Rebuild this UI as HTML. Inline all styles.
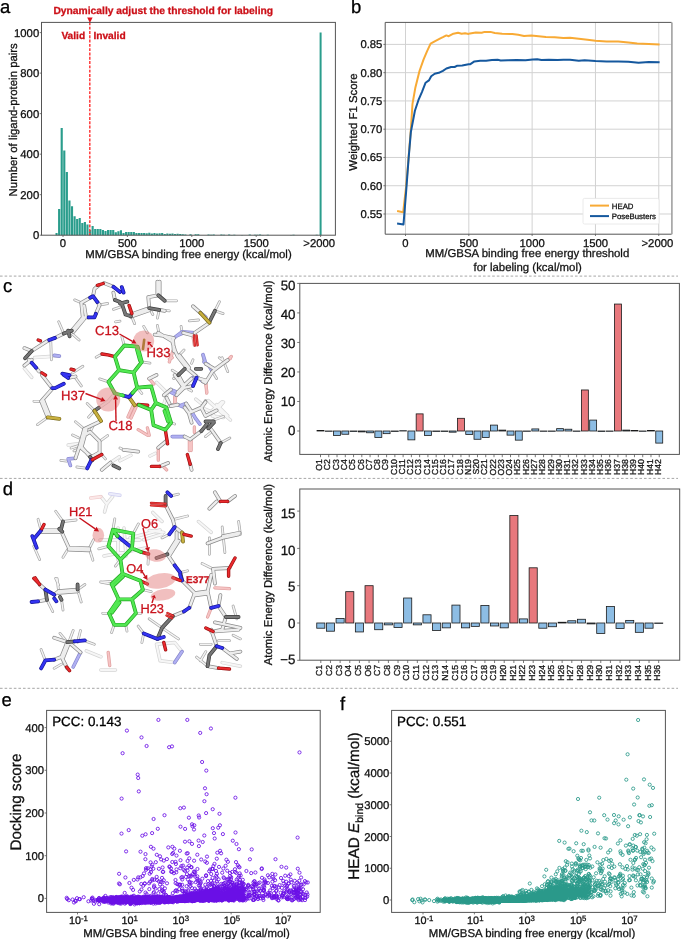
<!DOCTYPE html>
<html><head><meta charset="utf-8"><title>Figure</title>
<style>
html,body{margin:0;padding:0;background:#fff;width:685px;height:939px;overflow:hidden;}
svg{display:block;font-family:"Liberation Sans",sans-serif;text-rendering:geometricPrecision;}
svg{will-change:transform;}
</style></head><body>
<svg width="685" height="939" viewBox="0 0 685 939">
<rect x="0" y="0" width="685" height="939" fill="#fff"/>
<g fill="none" stroke-linecap="round" stroke-linejoin="round">
<path d="M34.6 357.6 L56.5 356.1 M24.4 368.5 L31.7 377.3 M108.3 401.3 L98.8 407.8 M68.2 445.1 L79.9 443.6 M110.5 462.6 L119.3 456.8 M120.0 460.8 L130.9 455.3 M156.5 382.3 L167.4 393.2 L163.8 404.2 M216.6 410.4 L223.5 402.1 M212.4 416.0 L223.5 417.4 M209.6 402.1 L222.1 413.2 M216.6 404.9 L227.7 416.0 M201.3 407.5 L211.0 411.6 M211.0 411.6 L222.1 401.9 M211.0 411.6 L215.2 417.2 M195.8 399.2 L202.7 404.7 M208.3 400.5 L222.1 413.0 M222.1 413.0 L230.4 420.0 M216.6 404.7 L227.7 415.8 M155.5 453.3 L150.0 456.0 M114.9 393.5 L107.9 401.7 M100.9 496.7 L106.8 504.0 L112.6 496.7 M106.8 504.0 L104.6 512.0 M198.5 521.5 L211.2 532.4 M152.8 512.4 L162.0 521.5 M149.2 530.6 L163.8 532.4 M143.7 539.7 L162.0 534.3 M100.9 669.9 L115.5 669.9 M156.5 644.3 L160.1 660.8 L174.7 662.6 L182.0 651.6 L174.7 642.5 L156.5 644.3 M222.2 662.6 L240.4 666.2 M86.3 650.9 L100.9 656.8 M100.0 540.0 L140.0 540.0 M118.0 528.0 L118.0 560.0 M124.0 528.0 L126.0 556.0 M104.0 556.0 L146.0 548.0 M130.0 538.0 L160.0 530.0" stroke="#d4d4d4" stroke-width="3.50"/>
<path d="M34.6 357.6 L56.5 356.1 M24.4 368.5 L31.7 377.3 M108.3 401.3 L98.8 407.8 M68.2 445.1 L79.9 443.6 M110.5 462.6 L119.3 456.8 M120.0 460.8 L130.9 455.3 M156.5 382.3 L167.4 393.2 L163.8 404.2 M216.6 410.4 L223.5 402.1 M212.4 416.0 L223.5 417.4 M209.6 402.1 L222.1 413.2 M216.6 404.9 L227.7 416.0 M201.3 407.5 L211.0 411.6 M211.0 411.6 L222.1 401.9 M211.0 411.6 L215.2 417.2 M195.8 399.2 L202.7 404.7 M208.3 400.5 L222.1 413.0 M222.1 413.0 L230.4 420.0 M216.6 404.7 L227.7 415.8 M155.5 453.3 L150.0 456.0 M114.9 393.5 L107.9 401.7 M100.9 496.7 L106.8 504.0 L112.6 496.7 M106.8 504.0 L104.6 512.0 M198.5 521.5 L211.2 532.4 M152.8 512.4 L162.0 521.5 M149.2 530.6 L163.8 532.4 M143.7 539.7 L162.0 534.3 M100.9 669.9 L115.5 669.9 M156.5 644.3 L160.1 660.8 L174.7 662.6 L182.0 651.6 L174.7 642.5 L156.5 644.3 M222.2 662.6 L240.4 666.2 M86.3 650.9 L100.9 656.8 M100.0 540.0 L140.0 540.0 M118.0 528.0 L118.0 560.0 M124.0 528.0 L126.0 556.0 M104.0 556.0 L146.0 548.0 M130.0 538.0 L160.0 530.0" stroke="#f6f6f6" stroke-width="2.10"/>
<path d="M90.7 498.1 L100.9 496.7" stroke="#f0cccc" stroke-width="3.50"/>
<path d="M90.7 498.1 L100.9 496.7" stroke="#fbe8e8" stroke-width="2.10"/>
<path d="M109.7 493.8 L119.9 495.2" stroke="#d0d0f0" stroke-width="3.50"/>
<path d="M109.7 493.8 L119.9 495.2" stroke="#ececfb" stroke-width="2.10"/>
<path d="M81.3 302.8 L74.7 299.9 M99.6 305.0 L107.6 303.5 M63.8 333.5 L58.7 321.8 M71.8 333.5 L79.1 340.0 M50.7 339.3 L51.4 359.8 M72.6 372.9 L82.8 366.3 M113.4 309.4 L120.0 307.2 M115.6 321.8 L120.0 321.1 M164.7 300.8 L176.6 300.8 M159.2 309.9 L169.3 310.8 M159.2 309.9 L157.4 318.1 M149.2 308.1 L152.8 314.5 M130.9 314.5 L134.6 323.6 M214.9 310.8 L219.5 301.7 M214.9 310.8 L223.1 313.6 M198.5 320.0 L189.3 320.9 M182.0 331.8 L181.1 326.4 M159.2 334.6 L157.4 325.4 M143.7 326.4 L147.4 332.7 M75.5 377.9 L81.3 385.9 M41.2 401.3 L33.9 401.3 M47.7 417.3 L37.5 424.6 M94.5 410.8 L87.2 403.5 M94.5 410.8 L88.6 417.3 M84.2 429.0 L75.5 421.7 M87.2 468.4 L76.9 467.0 M90.1 431.9 L93.0 426.1 M81.3 448.0 L74.0 450.9 M99.6 441.4 L107.6 435.6 M99.6 452.4 L105.4 458.9 M79.9 445.1 L71.1 448.0 M78.4 437.8 L72.6 434.9 M66.7 461.1 L60.9 460.4 M123.6 449.8 L120.0 448.0 M202.7 355.0 L204.1 361.9 M222.1 357.7 L227.7 371.6 M212.4 371.6 L216.6 378.5 M224.9 361.9 L219.3 357.7 M177.7 356.4 L184.0 350.1 M172.2 370.2 L179.1 374.4 M173.6 378.5 L177.7 375.8 M188.8 389.6 L191.6 391.0 M191.6 363.3 L193.0 359.8 M201.3 407.5 L205.5 400.5 M220.7 442.9 L229.8 438.0 M213.8 420.0 L223.5 416.5 M212.4 431.1 L205.5 436.6 M166.6 442.2 L161.1 444.9 M102.0 354.0 L96.2 357.2 M124.3 345.5 L121.9 336.8 M141.8 361.9 L150.0 363.1 M108.5 381.8 L99.7 378.9 M137.2 387.7 L141.8 393.5 M171.1 422.8 L174.6 424.0 M166.4 407.6 L172.0 404.5 M89.2 548.5 L93.6 539.7 M63.0 521.5 L55.7 511.3 M63.0 521.5 L76.1 520.0 M89.2 548.5 L92.9 560.2 M68.8 547.8 L63.0 557.3 M41.1 530.3 L38.1 519.3 M33.8 546.3 L39.6 559.5 M55.7 578.4 L58.6 585.0 M100.9 582.1 L111.1 581.4 M171.1 495.9 L178.4 494.1 M169.3 534.3 L162.0 537.9 M172.9 519.7 L187.5 516.0 M180.2 572.6 L187.5 570.8 M222.2 527.0 L224.9 552.5 M238.6 521.5 L240.4 534.3 M209.4 537.9 L209.4 554.3 M202.1 563.5 L213.1 568.9 M77.6 589.6 L84.9 584.5 M77.6 589.6 L81.2 602.0 M58.6 591.1 L57.1 578.6 M61.5 599.8 L63.0 610.0 M46.9 599.8 L52.7 611.5 M86.3 641.4 L94.3 644.3 M45.4 660.4 L41.1 649.5 M60.0 633.4 L67.3 642.2 M73.2 630.5 L68.8 642.2 M80.5 630.5 L77.6 642.2 M143.7 633.4 L138.2 626.1 M143.7 633.4 L141.9 642.5 M162.0 627.9 L178.4 638.9 M162.0 627.9 L149.2 618.8 M233.1 606.0 L236.8 618.8 M200.3 644.3 L211.2 644.3 M196.6 657.1 L207.6 666.2 M218.5 640.7 L229.5 640.7 M233.1 635.2 L240.4 638.9 M205.8 651.6 L200.3 660.8 M54.2 668.4 L61.5 664.1 M148.6 554.0 L148.0 564.2 M111.6 584.0 L100.7 582.0 M142.9 589.7 L151.2 591.6 M109.0 613.3 L102.7 613.3 M114.2 624.8 L111.6 632.5 M125.7 624.8 L127.0 631.2 M135.9 613.3 L141.0 613.3 M112.9 529.7 L114.8 518.8 M133.3 533.5 L138.4 523.9 M108.4 546.3 L98.8 548.8 M120.5 559.7 L115.4 566.1" stroke="#a8a8a8" stroke-width="2.80"/>
<path d="M81.3 302.8 L74.7 299.9 M99.6 305.0 L107.6 303.5 M63.8 333.5 L58.7 321.8 M71.8 333.5 L79.1 340.0 M50.7 339.3 L51.4 359.8 M72.6 372.9 L82.8 366.3 M113.4 309.4 L120.0 307.2 M115.6 321.8 L120.0 321.1 M164.7 300.8 L176.6 300.8 M159.2 309.9 L169.3 310.8 M159.2 309.9 L157.4 318.1 M149.2 308.1 L152.8 314.5 M130.9 314.5 L134.6 323.6 M214.9 310.8 L219.5 301.7 M214.9 310.8 L223.1 313.6 M198.5 320.0 L189.3 320.9 M182.0 331.8 L181.1 326.4 M159.2 334.6 L157.4 325.4 M143.7 326.4 L147.4 332.7 M75.5 377.9 L81.3 385.9 M41.2 401.3 L33.9 401.3 M47.7 417.3 L37.5 424.6 M94.5 410.8 L87.2 403.5 M94.5 410.8 L88.6 417.3 M84.2 429.0 L75.5 421.7 M87.2 468.4 L76.9 467.0 M90.1 431.9 L93.0 426.1 M81.3 448.0 L74.0 450.9 M99.6 441.4 L107.6 435.6 M99.6 452.4 L105.4 458.9 M79.9 445.1 L71.1 448.0 M78.4 437.8 L72.6 434.9 M66.7 461.1 L60.9 460.4 M123.6 449.8 L120.0 448.0 M202.7 355.0 L204.1 361.9 M222.1 357.7 L227.7 371.6 M212.4 371.6 L216.6 378.5 M224.9 361.9 L219.3 357.7 M177.7 356.4 L184.0 350.1 M172.2 370.2 L179.1 374.4 M173.6 378.5 L177.7 375.8 M188.8 389.6 L191.6 391.0 M191.6 363.3 L193.0 359.8 M201.3 407.5 L205.5 400.5 M220.7 442.9 L229.8 438.0 M213.8 420.0 L223.5 416.5 M212.4 431.1 L205.5 436.6 M166.6 442.2 L161.1 444.9 M102.0 354.0 L96.2 357.2 M124.3 345.5 L121.9 336.8 M141.8 361.9 L150.0 363.1 M108.5 381.8 L99.7 378.9 M137.2 387.7 L141.8 393.5 M171.1 422.8 L174.6 424.0 M166.4 407.6 L172.0 404.5 M89.2 548.5 L93.6 539.7 M63.0 521.5 L55.7 511.3 M63.0 521.5 L76.1 520.0 M89.2 548.5 L92.9 560.2 M68.8 547.8 L63.0 557.3 M41.1 530.3 L38.1 519.3 M33.8 546.3 L39.6 559.5 M55.7 578.4 L58.6 585.0 M100.9 582.1 L111.1 581.4 M171.1 495.9 L178.4 494.1 M169.3 534.3 L162.0 537.9 M172.9 519.7 L187.5 516.0 M180.2 572.6 L187.5 570.8 M222.2 527.0 L224.9 552.5 M238.6 521.5 L240.4 534.3 M209.4 537.9 L209.4 554.3 M202.1 563.5 L213.1 568.9 M77.6 589.6 L84.9 584.5 M77.6 589.6 L81.2 602.0 M58.6 591.1 L57.1 578.6 M61.5 599.8 L63.0 610.0 M46.9 599.8 L52.7 611.5 M86.3 641.4 L94.3 644.3 M45.4 660.4 L41.1 649.5 M60.0 633.4 L67.3 642.2 M73.2 630.5 L68.8 642.2 M80.5 630.5 L77.6 642.2 M143.7 633.4 L138.2 626.1 M143.7 633.4 L141.9 642.5 M162.0 627.9 L178.4 638.9 M162.0 627.9 L149.2 618.8 M233.1 606.0 L236.8 618.8 M200.3 644.3 L211.2 644.3 M196.6 657.1 L207.6 666.2 M218.5 640.7 L229.5 640.7 M233.1 635.2 L240.4 638.9 M205.8 651.6 L200.3 660.8 M54.2 668.4 L61.5 664.1 M148.6 554.0 L148.0 564.2 M111.6 584.0 L100.7 582.0 M142.9 589.7 L151.2 591.6 M109.0 613.3 L102.7 613.3 M114.2 624.8 L111.6 632.5 M125.7 624.8 L127.0 631.2 M135.9 613.3 L141.0 613.3 M112.9 529.7 L114.8 518.8 M133.3 533.5 L138.4 523.9 M108.4 546.3 L98.8 548.8 M120.5 559.7 L115.4 566.1" stroke="#f4f4f4" stroke-width="1.40"/>
<path d="M227.7 360.1 L231.3 356.5 M172.9 351.0 L169.3 361.9 M205.8 380.5 L206.7 393.2 M174.7 396.9 L174.7 404.2 M138.2 429.7 L147.4 435.2 M147.4 427.9 L149.2 435.2 M149.2 378.6 L153.8 384.1 M205.5 382.7 L206.9 392.4 M224.9 361.9 L230.4 358.4 M169.4 359.1 L172.2 357.7 M175.7 395.2 L175.0 403.5 M193.0 336.2 L194.4 345.3 M194.7 336.2 L196.0 345.0 M194.4 426.9 L194.4 432.4 M189.4 440.1 L189.4 450.5 M191.1 440.1 L191.1 450.5 M158.3 447.7 L158.3 460.2 M163.9 467.1 L166.6 469.9 M175.0 397.8 L175.0 404.7 M133.0 406.0 L128.0 417.0 M136.0 407.0 L131.0 418.0 M108.2 652.4 L109.7 665.5 M211.2 607.8 L207.6 617.0 M214.9 587.8 L229.5 588.7" stroke="#e0a0a0" stroke-width="3.30"/>
<path d="M227.7 360.1 L231.3 356.5 M172.9 351.0 L169.3 361.9 M205.8 380.5 L206.7 393.2 M174.7 396.9 L174.7 404.2 M138.2 429.7 L147.4 435.2 M147.4 427.9 L149.2 435.2 M149.2 378.6 L153.8 384.1 M205.5 382.7 L206.9 392.4 M224.9 361.9 L230.4 358.4 M169.4 359.1 L172.2 357.7 M175.7 395.2 L175.0 403.5 M193.0 336.2 L194.4 345.3 M194.7 336.2 L196.0 345.0 M194.4 426.9 L194.4 432.4 M189.4 440.1 L189.4 450.5 M191.1 440.1 L191.1 450.5 M158.3 447.7 L158.3 460.2 M163.9 467.1 L166.6 469.9 M175.0 397.8 L175.0 404.7 M133.0 406.0 L128.0 417.0 M136.0 407.0 L131.0 418.0 M108.2 652.4 L109.7 665.5 M211.2 607.8 L207.6 617.0 M214.9 587.8 L229.5 588.7" stroke="#f6c4c4" stroke-width="1.90"/>
<path d="M54.3 355.4 L59.4 356.1 M200.3 312.7 L205.8 317.2 M194.8 332.7 L182.0 331.8 M182.0 331.8 L173.8 338.2 M203.0 354.6 L205.8 363.8 M75.5 458.2 L68.2 458.9 L70.4 465.5 M169.3 391.4 L176.6 395.1 M195.8 375.8 L202.7 381.3 M212.4 371.6 L208.3 364.7 L204.1 361.9 M191.6 378.5 L194.4 377.2 M177.7 392.4 L170.8 389.6 M181.9 404.9 L186.1 403.5 M191.6 411.8 L195.8 418.8 M177.7 335.5 L183.3 332.8 M177.7 404.7 L184.7 407.5 M195.8 418.6 L199.9 424.1 M172.2 436.6 L184.7 436.6 M80.5 652.4 L73.2 667.0 M174.7 662.6 L182.0 651.6" stroke="#8a8ad0" stroke-width="3.60"/>
<path d="M54.3 355.4 L59.4 356.1 M200.3 312.7 L205.8 317.2 M194.8 332.7 L182.0 331.8 M182.0 331.8 L173.8 338.2 M203.0 354.6 L205.8 363.8 M75.5 458.2 L68.2 458.9 L70.4 465.5 M169.3 391.4 L176.6 395.1 M195.8 375.8 L202.7 381.3 M212.4 371.6 L208.3 364.7 L204.1 361.9 M191.6 378.5 L194.4 377.2 M177.7 392.4 L170.8 389.6 M181.9 404.9 L186.1 403.5 M191.6 411.8 L195.8 418.8 M177.7 335.5 L183.3 332.8 M177.7 404.7 L184.7 407.5 M195.8 418.6 L199.9 424.1 M172.2 436.6 L184.7 436.6 M80.5 652.4 L73.2 667.0 M174.7 662.6 L182.0 651.6" stroke="#b0b0f2" stroke-width="2.20"/>
<path d="M81.3 302.8 L93.0 296.2 M97.4 302.1 L99.6 305.0 L95.9 313.8 M88.6 317.4 L82.8 317.4 L81.3 302.8 M84.2 305.7 L85.7 315.2 M93.0 296.2 L94.5 288.9 L98.8 285.3 M103.9 283.1 L113.4 286.8 M82.8 317.4 L71.8 330.6 M84.2 318.9 L73.3 332.0 M63.8 333.5 L55.0 337.9 M49.2 340.0 L45.5 342.2 M45.5 342.2 L31.7 351.0 L24.4 348.1 M28.8 359.8 L31.7 362.7 M36.1 367.8 L39.0 371.4 M24.4 365.6 L31.7 359.8 M113.4 292.6 L114.9 299.9 M130.9 314.5 L149.2 308.1 M130.9 316.7 L149.2 310.3 M159.2 309.9 L164.7 310.8 M149.2 308.1 L148.3 297.2 L158.3 295.3 M157.4 295.3 L157.4 281.6 M159.6 295.3 L159.6 281.6 M193.0 306.3 L200.3 312.7 M209.4 322.7 L194.8 332.7 M173.8 338.2 L162.0 335.5 L154.7 334.6 M172.9 338.2 L173.8 351.0 M205.8 363.8 L214.9 369.2 L227.7 360.1 M41.9 375.0 L52.1 388.1 M68.2 377.9 L75.5 376.5 M52.1 388.9 L41.2 401.3 M41.2 401.3 L47.7 417.3 M43.4 400.5 L49.9 416.6 M99.6 421.7 L84.2 429.0 M84.2 429.0 L79.9 445.1 M86.4 429.7 L82.0 445.8 M79.9 445.1 L90.1 456.8 M90.1 431.9 L99.6 441.4 L99.6 452.4 L91.5 456.8 L81.3 448.0 L82.8 436.3 L90.1 431.9 M79.9 445.1 L75.5 458.2 M101.8 469.9 L110.5 462.6 M174.7 375.0 L183.9 387.8 M183.9 387.8 L193.0 385.9 M196.6 377.7 L205.8 380.5 M183.9 387.8 L176.6 395.1 M123.6 449.8 L138.2 451.6 M149.2 378.6 L156.5 375.0 M172.2 341.1 L175.0 350.8 L177.7 356.4 M177.7 356.4 L187.4 368.8 M179.4 355.2 L189.1 367.7 M187.4 368.8 L195.8 375.8 M202.7 381.3 L205.5 382.7 M205.5 382.7 L212.4 371.6 L224.9 361.9 M178.4 375.1 L184.0 385.5 M184.0 385.5 L191.6 378.5 M184.0 385.5 L177.7 392.4 M170.8 389.6 L163.9 395.2 M186.1 403.5 L191.6 411.8 L201.3 407.7 L205.5 402.1 M201.3 407.7 L205.5 416.0 L216.6 410.4 M158.3 332.8 L172.2 341.1 M183.3 332.8 L193.0 335.5 M184.7 407.5 L188.8 413.0 L191.6 422.7 M188.8 413.0 L201.3 407.5 M184.7 436.6 L190.2 439.4 M190.2 439.4 L201.3 431.1 M206.9 424.1 L212.4 431.1 M212.4 431.1 L220.7 442.9 M190.2 464.3 L191.6 469.9 M158.3 447.7 L166.6 440.8 M159.7 466.4 L168.0 463.0 M170.8 406.1 L177.7 404.7 M169.4 403.3 L166.6 397.8 M41.1 530.3 L60.8 530.3 M41.1 532.0 L60.8 532.0 M60.8 530.3 L68.8 547.8 M68.8 547.8 L89.2 548.5 M68.8 549.5 L89.2 550.3 M165.6 505.1 L172.9 519.7 M172.9 519.7 L174.7 527.0 M174.7 527.0 L183.9 534.3 M176.6 532.4 L176.6 539.7 M176.6 539.7 L167.4 554.3 M178.8 540.7 L169.6 555.3 M167.4 554.3 L174.7 565.3 M214.9 492.3 L220.4 501.4 M227.7 501.4 L235.0 495.9 M216.7 501.4 L209.4 508.7 M207.6 543.4 L222.2 537.9 M222.2 537.9 L238.6 534.3 M223.1 536.1 L239.5 532.8 M213.1 568.9 L214.9 583.5 M213.1 568.9 L229.5 568.0 M39.6 584.5 L45.4 589.6 M46.9 599.8 L38.1 601.3 M54.2 594.7 L58.6 591.1 M58.6 591.1 L77.6 589.6 M58.6 592.8 L77.6 591.4 M54.2 637.8 L67.3 642.2 M67.3 642.2 L61.5 656.8 M69.1 642.9 L63.2 657.5 M61.5 656.8 L54.2 659.7 M61.5 656.8 L67.3 668.4 M68.8 642.2 L80.5 652.4 M182.0 580.5 L194.8 593.2 M194.8 593.2 L207.6 591.4 M194.8 595.4 L207.6 593.6 M207.6 591.4 L211.2 575.0 M194.8 593.2 L189.3 607.8 M183.9 611.5 L172.9 616.1 M207.6 591.4 L211.2 607.8 M218.5 606.0 L220.4 595.1 M218.5 606.0 L225.8 617.0 M225.8 617.0 L222.2 629.7 M213.1 631.6 L222.2 629.7 M211.2 629.7 L216.7 646.2 M207.6 666.2 L218.5 668.1 M214.9 622.4 L240.4 627.9 M211.2 631.6 L238.6 629.7 M222.2 648.0 L236.8 658.9 M229.5 653.5 L240.4 651.6" stroke="#8a8a8a" stroke-width="3.80"/>
<path d="M81.3 302.8 L93.0 296.2 M97.4 302.1 L99.6 305.0 L95.9 313.8 M88.6 317.4 L82.8 317.4 L81.3 302.8 M84.2 305.7 L85.7 315.2 M93.0 296.2 L94.5 288.9 L98.8 285.3 M103.9 283.1 L113.4 286.8 M82.8 317.4 L71.8 330.6 M84.2 318.9 L73.3 332.0 M63.8 333.5 L55.0 337.9 M49.2 340.0 L45.5 342.2 M45.5 342.2 L31.7 351.0 L24.4 348.1 M28.8 359.8 L31.7 362.7 M36.1 367.8 L39.0 371.4 M24.4 365.6 L31.7 359.8 M113.4 292.6 L114.9 299.9 M130.9 314.5 L149.2 308.1 M130.9 316.7 L149.2 310.3 M159.2 309.9 L164.7 310.8 M149.2 308.1 L148.3 297.2 L158.3 295.3 M157.4 295.3 L157.4 281.6 M159.6 295.3 L159.6 281.6 M193.0 306.3 L200.3 312.7 M209.4 322.7 L194.8 332.7 M173.8 338.2 L162.0 335.5 L154.7 334.6 M172.9 338.2 L173.8 351.0 M205.8 363.8 L214.9 369.2 L227.7 360.1 M41.9 375.0 L52.1 388.1 M68.2 377.9 L75.5 376.5 M52.1 388.9 L41.2 401.3 M41.2 401.3 L47.7 417.3 M43.4 400.5 L49.9 416.6 M99.6 421.7 L84.2 429.0 M84.2 429.0 L79.9 445.1 M86.4 429.7 L82.0 445.8 M79.9 445.1 L90.1 456.8 M90.1 431.9 L99.6 441.4 L99.6 452.4 L91.5 456.8 L81.3 448.0 L82.8 436.3 L90.1 431.9 M79.9 445.1 L75.5 458.2 M101.8 469.9 L110.5 462.6 M174.7 375.0 L183.9 387.8 M183.9 387.8 L193.0 385.9 M196.6 377.7 L205.8 380.5 M183.9 387.8 L176.6 395.1 M123.6 449.8 L138.2 451.6 M149.2 378.6 L156.5 375.0 M172.2 341.1 L175.0 350.8 L177.7 356.4 M177.7 356.4 L187.4 368.8 M179.4 355.2 L189.1 367.7 M187.4 368.8 L195.8 375.8 M202.7 381.3 L205.5 382.7 M205.5 382.7 L212.4 371.6 L224.9 361.9 M178.4 375.1 L184.0 385.5 M184.0 385.5 L191.6 378.5 M184.0 385.5 L177.7 392.4 M170.8 389.6 L163.9 395.2 M186.1 403.5 L191.6 411.8 L201.3 407.7 L205.5 402.1 M201.3 407.7 L205.5 416.0 L216.6 410.4 M158.3 332.8 L172.2 341.1 M183.3 332.8 L193.0 335.5 M184.7 407.5 L188.8 413.0 L191.6 422.7 M188.8 413.0 L201.3 407.5 M184.7 436.6 L190.2 439.4 M190.2 439.4 L201.3 431.1 M206.9 424.1 L212.4 431.1 M212.4 431.1 L220.7 442.9 M190.2 464.3 L191.6 469.9 M158.3 447.7 L166.6 440.8 M159.7 466.4 L168.0 463.0 M170.8 406.1 L177.7 404.7 M169.4 403.3 L166.6 397.8 M41.1 530.3 L60.8 530.3 M41.1 532.0 L60.8 532.0 M60.8 530.3 L68.8 547.8 M68.8 547.8 L89.2 548.5 M68.8 549.5 L89.2 550.3 M165.6 505.1 L172.9 519.7 M172.9 519.7 L174.7 527.0 M174.7 527.0 L183.9 534.3 M176.6 532.4 L176.6 539.7 M176.6 539.7 L167.4 554.3 M178.8 540.7 L169.6 555.3 M167.4 554.3 L174.7 565.3 M214.9 492.3 L220.4 501.4 M227.7 501.4 L235.0 495.9 M216.7 501.4 L209.4 508.7 M207.6 543.4 L222.2 537.9 M222.2 537.9 L238.6 534.3 M223.1 536.1 L239.5 532.8 M213.1 568.9 L214.9 583.5 M213.1 568.9 L229.5 568.0 M39.6 584.5 L45.4 589.6 M46.9 599.8 L38.1 601.3 M54.2 594.7 L58.6 591.1 M58.6 591.1 L77.6 589.6 M58.6 592.8 L77.6 591.4 M54.2 637.8 L67.3 642.2 M67.3 642.2 L61.5 656.8 M69.1 642.9 L63.2 657.5 M61.5 656.8 L54.2 659.7 M61.5 656.8 L67.3 668.4 M68.8 642.2 L80.5 652.4 M182.0 580.5 L194.8 593.2 M194.8 593.2 L207.6 591.4 M194.8 595.4 L207.6 593.6 M207.6 591.4 L211.2 575.0 M194.8 593.2 L189.3 607.8 M183.9 611.5 L172.9 616.1 M207.6 591.4 L211.2 607.8 M218.5 606.0 L220.4 595.1 M218.5 606.0 L225.8 617.0 M225.8 617.0 L222.2 629.7 M213.1 631.6 L222.2 629.7 M211.2 629.7 L216.7 646.2 M207.6 666.2 L218.5 668.1 M214.9 622.4 L240.4 627.9 M211.2 631.6 L238.6 629.7 M222.2 648.0 L236.8 658.9 M229.5 653.5 L240.4 651.6" stroke="#ededed" stroke-width="2.40"/>
<path d="M71.8 330.6 L63.8 333.5 M68.2 330.6 L69.6 336.4 M31.7 351.0 L25.1 358.3 M114.9 299.9 L120.0 302.1 M120.0 303.5 L127.3 301.7 M121.8 303.5 L125.5 314.5 M125.5 314.5 L130.9 316.3 M149.2 308.1 L159.2 309.9 M158.3 295.3 L164.7 300.8 M209.4 321.8 L214.9 310.8 M98.8 407.8 L94.5 410.8 M90.1 456.8 L92.3 460.4 M113.4 465.5 L119.3 468.4 M184.7 368.8 L178.4 375.1 M195.8 368.8 L201.3 368.8 M205.5 421.5 L213.8 421.5 M201.3 431.1 L206.9 424.1 M208.3 428.3 L213.8 422.7 M220.7 442.9 L218.0 449.1 M59.3 528.8 L62.2 531.7 M60.8 530.3 L63.0 521.5 M165.6 495.9 L165.6 505.1 M167.4 554.3 L156.5 558.0 M180.2 572.6 L182.0 579.9 M45.4 589.6 L46.9 599.8 M77.6 589.6 L77.6 584.5 M60.0 596.9 L61.5 599.8 M67.3 642.2 L74.6 641.4 M172.9 616.1 L162.0 627.9 M162.0 627.9 L157.4 638.9 M225.8 617.0 L238.6 617.0 M216.7 646.2 L209.4 655.3 M209.4 655.3 L207.6 666.2" stroke="#3c3c3c" stroke-width="3.80"/>
<path d="M71.8 330.6 L63.8 333.5 M68.2 330.6 L69.6 336.4 M31.7 351.0 L25.1 358.3 M114.9 299.9 L120.0 302.1 M120.0 303.5 L127.3 301.7 M121.8 303.5 L125.5 314.5 M125.5 314.5 L130.9 316.3 M149.2 308.1 L159.2 309.9 M158.3 295.3 L164.7 300.8 M209.4 321.8 L214.9 310.8 M98.8 407.8 L94.5 410.8 M90.1 456.8 L92.3 460.4 M113.4 465.5 L119.3 468.4 M184.7 368.8 L178.4 375.1 M195.8 368.8 L201.3 368.8 M205.5 421.5 L213.8 421.5 M201.3 431.1 L206.9 424.1 M208.3 428.3 L213.8 422.7 M220.7 442.9 L218.0 449.1 M59.3 528.8 L62.2 531.7 M60.8 530.3 L63.0 521.5 M165.6 495.9 L165.6 505.1 M167.4 554.3 L156.5 558.0 M180.2 572.6 L182.0 579.9 M45.4 589.6 L46.9 599.8 M77.6 589.6 L77.6 584.5 M60.0 596.9 L61.5 599.8 M67.3 642.2 L74.6 641.4 M172.9 616.1 L162.0 627.9 M162.0 627.9 L157.4 638.9 M225.8 617.0 L238.6 617.0 M216.7 646.2 L209.4 655.3 M209.4 655.3 L207.6 666.2" stroke="#777777" stroke-width="2.40"/>
<path d="M200.3 312.7 L209.4 322.7 M47.7 417.3 L59.4 418.8 M94.5 410.8 L101.0 421.0 M129.0 397.1 L134.8 405.3 M182.0 532.4 L183.0 541.6" stroke="#7a6a18" stroke-width="3.80"/>
<path d="M200.3 312.7 L209.4 322.7 M47.7 417.3 L59.4 418.8 M94.5 410.8 L101.0 421.0 M129.0 397.1 L134.8 405.3 M182.0 532.4 L183.0 541.6" stroke="#c8b040" stroke-width="2.40"/>
<path d="M90.1 297.7 L93.0 296.2 L97.4 302.1 M95.9 313.8 L94.5 317.4 L88.6 317.4 M113.4 286.8 L120.0 291.9 M55.0 337.9 L49.2 340.0 M31.7 362.7 L36.1 367.8 M62.3 373.6 L69.6 375.1 M121.8 287.1 L123.6 292.6 M52.1 388.1 L55.0 388.1 L63.8 383.8 M63.8 375.0 L68.2 377.9 M91.5 459.7 L87.2 468.4 M193.0 385.9 L196.6 377.7 M132.5 393.0 L129.0 397.1 L123.0 395.5 M41.1 530.3 L33.8 539.0 M32.3 536.1 L36.7 547.8 M167.4 492.3 L171.1 495.9 M174.7 527.0 L169.3 534.3 M174.7 565.3 L180.2 572.6 M45.4 589.6 L54.2 594.7 M38.1 601.3 L31.6 602.0 M54.2 598.4 L56.4 601.3 M74.6 641.4 L84.9 640.4 M54.2 659.7 L45.4 660.4 L41.1 668.4 M180.2 575.0 L182.0 580.5 M189.3 607.8 L183.9 611.5 M157.4 638.9 L163.8 637.0 M157.4 638.9 L143.7 633.4 M211.2 607.8 L218.5 606.0 M216.7 646.2 L222.2 648.0 M117.4 536.1 L129.5 545.7" stroke="#15159a" stroke-width="3.80"/>
<path d="M90.1 297.7 L93.0 296.2 L97.4 302.1 M95.9 313.8 L94.5 317.4 L88.6 317.4 M113.4 286.8 L120.0 291.9 M55.0 337.9 L49.2 340.0 M31.7 362.7 L36.1 367.8 M62.3 373.6 L69.6 375.1 M121.8 287.1 L123.6 292.6 M52.1 388.1 L55.0 388.1 L63.8 383.8 M63.8 375.0 L68.2 377.9 M91.5 459.7 L87.2 468.4 M193.0 385.9 L196.6 377.7 M132.5 393.0 L129.0 397.1 L123.0 395.5 M41.1 530.3 L33.8 539.0 M32.3 536.1 L36.7 547.8 M167.4 492.3 L171.1 495.9 M174.7 527.0 L169.3 534.3 M174.7 565.3 L180.2 572.6 M45.4 589.6 L54.2 594.7 M38.1 601.3 L31.6 602.0 M54.2 598.4 L56.4 601.3 M74.6 641.4 L84.9 640.4 M54.2 659.7 L45.4 660.4 L41.1 668.4 M180.2 575.0 L182.0 580.5 M189.3 607.8 L183.9 611.5 M157.4 638.9 L163.8 637.0 M157.4 638.9 L143.7 633.4 M211.2 607.8 L218.5 606.0 M216.7 646.2 L222.2 648.0 M117.4 536.1 L129.5 545.7" stroke="#3434f2" stroke-width="2.40"/>
<path d="M97.4 285.3 L103.2 283.5 M38.2 340.0 L40.4 340.8 M41.9 372.9 L45.5 375.1 M71.1 369.2 L74.0 370.0 M129.1 305.4 L131.9 313.6 M92.3 459.7 L101.8 454.6 M187.4 454.6 L190.2 464.3 M151.4 466.4 L159.7 466.4 M138.0 404.5 L147.7 405.3 M165.3 429.8 L167.6 443.9 M114.9 356.7 L107.9 354.9 L102.0 354.0 M41.8 528.8 L44.0 524.4 M33.8 578.4 L39.6 584.3 M183.9 534.3 L191.2 536.1 M220.4 501.4 L227.7 501.4 M229.5 568.0 L235.0 558.0 M228.6 568.9 L228.6 576.2 M35.2 577.9 L39.6 584.5 M66.6 667.0 L69.5 670.6 M172.9 577.7 L180.2 580.5 M163.8 642.5 L165.6 649.8 M205.8 627.9 L213.1 631.6 M218.5 668.1 L229.5 669.0 M141.0 552.0 L148.6 554.0 M140.3 580.8 L147.4 584.0" stroke="#9a1010" stroke-width="3.40"/>
<path d="M97.4 285.3 L103.2 283.5 M38.2 340.0 L40.4 340.8 M41.9 372.9 L45.5 375.1 M71.1 369.2 L74.0 370.0 M129.1 305.4 L131.9 313.6 M92.3 459.7 L101.8 454.6 M187.4 454.6 L190.2 464.3 M151.4 466.4 L159.7 466.4 M138.0 404.5 L147.7 405.3 M165.3 429.8 L167.6 443.9 M114.9 356.7 L107.9 354.9 L102.0 354.0 M41.8 528.8 L44.0 524.4 M33.8 578.4 L39.6 584.3 M183.9 534.3 L191.2 536.1 M220.4 501.4 L227.7 501.4 M229.5 568.0 L235.0 558.0 M228.6 568.9 L228.6 576.2 M35.2 577.9 L39.6 584.5 M66.6 667.0 L69.5 670.6 M172.9 577.7 L180.2 580.5 M163.8 642.5 L165.6 649.8 M205.8 627.9 L213.1 631.6 M218.5 668.1 L229.5 669.0 M141.0 552.0 L148.6 554.0 M140.3 580.8 L147.4 584.0" stroke="#ea2a2e" stroke-width="2.00"/>
<path d="M193.9 335.5 L194.8 345.5 M196.6 335.5 L197.6 345.2 M165.6 503.8 L151.0 502.9 M165.6 506.4 L151.0 505.4 M172.9 615.7 L167.4 613.0 M172.0 618.2 L166.5 615.5" stroke="#c02020" stroke-width="2.40"/>
<path d="M193.9 335.5 L194.8 345.5 M196.6 335.5 L197.6 345.2 M165.6 503.8 L151.0 502.9 M165.6 506.4 L151.0 505.4 M172.9 615.7 L167.4 613.0 M172.0 618.2 L166.5 615.5" stroke="#f04040" stroke-width="1.00"/>
<path d="M124.3 345.5 L137.7 346.7 L141.8 361.9 L133.6 372.5 L119.0 370.1 L114.9 356.7 L124.3 345.5 M137.0 349.5 L140.0 360.5 M133.6 372.5 L137.2 387.7 M137.2 387.7 L132.5 393.0 M123.0 395.5 L114.9 393.5 L108.5 381.8 L119.0 370.1 M137.2 387.7 L151.2 386.5 L155.9 402.9 M155.9 402.9 L166.4 407.6 L171.1 422.8 L165.3 429.8 L153.5 425.2 L151.2 410.0 L155.9 402.9 M164.5 411.0 L168.0 421.5 M151.2 410.0 L139.0 405.0 M112.9 529.7 L133.3 533.5 L132.0 548.2 L120.5 559.7 L108.4 546.3 L112.9 529.7 M112.9 529.7 L117.4 536.1 M132.0 548.2 L141.0 552.0 M120.5 559.7 L122.5 573.7 M122.5 573.7 L140.3 580.8 M140.3 580.8 L142.9 589.7 L132.0 599.3 L118.6 599.3 L111.6 584.0 L122.5 573.7 M132.0 599.3 L135.9 613.3 L125.7 624.8 L114.2 624.8 L109.0 613.3 L118.6 599.3 M114.0 585.0 L123.0 576.5 M112.0 612.5 L119.5 602.5" stroke="#22a822" stroke-width="3.80"/>
<path d="M124.3 345.5 L137.7 346.7 L141.8 361.9 L133.6 372.5 L119.0 370.1 L114.9 356.7 L124.3 345.5 M137.0 349.5 L140.0 360.5 M133.6 372.5 L137.2 387.7 M137.2 387.7 L132.5 393.0 M123.0 395.5 L114.9 393.5 L108.5 381.8 L119.0 370.1 M137.2 387.7 L151.2 386.5 L155.9 402.9 M155.9 402.9 L166.4 407.6 L171.1 422.8 L165.3 429.8 L153.5 425.2 L151.2 410.0 L155.9 402.9 M164.5 411.0 L168.0 421.5 M151.2 410.0 L139.0 405.0 M112.9 529.7 L133.3 533.5 L132.0 548.2 L120.5 559.7 L108.4 546.3 L112.9 529.7 M112.9 529.7 L117.4 536.1 M132.0 548.2 L141.0 552.0 M120.5 559.7 L122.5 573.7 M122.5 573.7 L140.3 580.8 M140.3 580.8 L142.9 589.7 L132.0 599.3 L118.6 599.3 L111.6 584.0 L122.5 573.7 M132.0 599.3 L135.9 613.3 L125.7 624.8 L114.2 624.8 L109.0 613.3 L118.6 599.3 M114.0 585.0 L123.0 576.5 M112.0 612.5 L119.5 602.5" stroke="#52e852" stroke-width="2.40"/>
</g>
<circle cx="143.7" cy="341.0" r="10.5" fill="#e07070" fill-opacity="0.45"/>
<line x1="144.2" y1="339.7" x2="143.0" y2="349.0" stroke="#b07a3a" stroke-width="2.6" stroke-linecap="round"/>
<circle cx="108.2" cy="399.6" r="12.0" fill="#e07070" fill-opacity="0.45"/>
<line x1="119.5" y1="334.0" x2="132.5" y2="341.3" stroke="#c8121c" stroke-width="1.4"/>
<path d="M136.5 343.5 L131.3 343.4 L133.7 339.1 Z" fill="#c8121c"/>
<line x1="152.5" y1="347.0" x2="149.7" y2="343.9" stroke="#c8121c" stroke-width="1.4"/>
<path d="M147.5 341.5 L151.5 342.2 L147.8 345.5 Z" fill="#c8121c"/>
<line x1="85.5" y1="393.5" x2="101.2" y2="399.4" stroke="#c8121c" stroke-width="1.4"/>
<path d="M105.5 401.0 L100.3 401.7 L102.1 397.0 Z" fill="#c8121c"/>
<line x1="116.0" y1="421.0" x2="115.6" y2="399.6" stroke="#c8121c" stroke-width="1.4"/>
<path d="M115.5 395.0 L118.1 399.6 L113.1 399.6 Z" fill="#c8121c"/>
<text x="95.1" y="334.9" font-size="13.1" fill="#c8121c" stroke="#c8121c" stroke-width="0.28" font-weight="normal">C13</text>
<text x="146.6" y="357.3" font-size="13.1" fill="#c8121c" stroke="#c8121c" stroke-width="0.28" font-weight="normal">H33</text>
<text x="61.0" y="399.9" font-size="13.1" fill="#c8121c" stroke="#c8121c" stroke-width="0.28" font-weight="normal">H37</text>
<text x="108.4" y="430.2" font-size="13.1" fill="#c8121c" stroke="#c8121c" stroke-width="0.28" font-weight="normal">C18</text>
<ellipse cx="98.3" cy="535.2" rx="5.8" ry="7.4" fill="#e07070" fill-opacity="0.45" transform="rotate(0 98.3 535.2)"/>
<ellipse cx="155.5" cy="555.5" rx="10.5" ry="6.2" fill="#e07070" fill-opacity="0.45" transform="rotate(8 155.5 555.5)"/>
<ellipse cx="160.2" cy="580.9" rx="15.5" ry="7.4" fill="#e07070" fill-opacity="0.45" transform="rotate(-10 160.2 580.9)"/>
<ellipse cx="163.0" cy="594.8" rx="12.5" ry="5.6" fill="#e07070" fill-opacity="0.45" transform="rotate(-10 163.0 594.8)"/>
<line x1="79.5" y1="518.0" x2="95.2" y2="528.9" stroke="#c8121c" stroke-width="1.4"/>
<path d="M99.0 531.5 L93.8 530.9 L96.6 526.8 Z" fill="#c8121c"/>
<line x1="143.0" y1="528.0" x2="147.5" y2="547.5" stroke="#c8121c" stroke-width="1.4"/>
<path d="M148.5 552.0 L145.0 548.1 L149.9 547.0 Z" fill="#c8121c"/>
<line x1="141.5" y1="570.5" x2="145.0" y2="576.1" stroke="#c8121c" stroke-width="1.4"/>
<path d="M147.5 580.0 L142.9 577.4 L147.2 574.8 Z" fill="#c8121c"/>
<line x1="152.0" y1="603.0" x2="153.6" y2="597.9" stroke="#c8121c" stroke-width="1.4"/>
<path d="M154.5 595.0 L156.0 598.6 L151.2 597.1 Z" fill="#c8121c"/>
<text x="69.0" y="515.8" font-size="12.8" fill="#c8121c" stroke="#c8121c" stroke-width="0.28" font-weight="normal">H21</text>
<text x="141.0" y="527.6" font-size="12.8" fill="#c8121c" stroke="#c8121c" stroke-width="0.28" font-weight="normal">O6</text>
<text x="126.2" y="572.6" font-size="12.8" fill="#c8121c" stroke="#c8121c" stroke-width="0.28" font-weight="normal">O4</text>
<text x="140.5" y="612.8" font-size="12.8" fill="#c8121c" stroke="#c8121c" stroke-width="0.28" font-weight="normal">H23</text>
<text x="186.0" y="583.0" font-size="10.0" fill="#c8121c" stroke="#c8121c" stroke-width="0.28" font-weight="bold">E377</text>
<line x1="0.00" y1="276.10" x2="678.00" y2="276.10" stroke="#a6a6a6" stroke-width="1" stroke-dasharray="2.6 2.0"/>
<line x1="0.00" y1="478.40" x2="678.00" y2="478.40" stroke="#a6a6a6" stroke-width="1" stroke-dasharray="2.6 2.0"/>
<line x1="0.00" y1="688.30" x2="678.00" y2="688.30" stroke="#a6a6a6" stroke-width="1" stroke-dasharray="2.6 2.0"/>
<text x="0.00" y="13.10" font-size="18.5" text-anchor="start" fill="#000" stroke="#000" stroke-width="0.28" font-weight="normal" >a</text>
<text x="351.00" y="12.60" font-size="18.5" text-anchor="start" fill="#000" stroke="#000" stroke-width="0.28" font-weight="normal" >b</text>
<text x="3.00" y="292.00" font-size="18.5" text-anchor="start" fill="#000" stroke="#000" stroke-width="0.28" font-weight="normal" >c</text>
<text x="2.80" y="495.00" font-size="18.5" text-anchor="start" fill="#000" stroke="#000" stroke-width="0.28" font-weight="normal" >d</text>
<text x="1.50" y="705.60" font-size="18.5" text-anchor="start" fill="#000" stroke="#000" stroke-width="0.28" font-weight="normal" >e</text>
<text x="340.00" y="710.00" font-size="18.5" text-anchor="start" fill="#000" stroke="#000" stroke-width="0.28" font-weight="normal" >f</text>
<path d="M55.49 235.20V232.97H57.63V235.20Z M58.07 235.20V209.06H60.20V235.20Z M60.64 235.20V128.02H62.78V235.20Z M63.22 235.20V150.51H65.36V235.20Z M65.80 235.20V171.99H67.93V235.20Z M68.37 235.20V200.56H70.51V235.20Z M70.95 235.20V206.23H73.08V235.20Z M73.52 235.20V216.36H75.66V235.20Z M76.10 235.20V218.99H78.24V235.20Z M78.68 235.20V217.98H80.81V235.20Z M81.25 235.20V223.04H83.39V235.20Z M83.83 235.20V222.03H85.96V235.20Z M86.40 235.20V224.46H88.54V235.20Z M88.98 235.20V229.93H91.12V235.20Z M91.56 235.20V226.08H93.69V235.20Z M94.13 235.20V228.92H96.27V235.20Z M96.71 235.20V229.12H98.84V235.20Z M99.28 235.20V229.12H101.42V235.20Z M101.86 235.20V229.93H104.00V235.20Z M104.44 235.20V230.95H106.57V235.20Z M107.01 235.20V229.93H109.15V235.20Z M109.59 235.20V229.93H111.72V235.20Z M112.16 235.20V229.93H114.30V235.20Z M114.74 235.20V232.16H116.88V235.20Z M117.32 235.20V231.35H119.45V235.20Z M119.89 235.20V230.34H122.03V235.20Z M122.47 235.20V232.97H124.60V235.20Z M125.04 235.20V231.96H127.18V235.20Z M127.62 235.20V231.96H129.76V235.20Z M130.20 235.20V231.96H132.33V235.20Z M132.77 235.20V231.96H134.91V235.20Z M135.35 235.20V232.97H137.48V235.20Z M137.92 235.20V232.97H140.06V235.20Z M140.50 235.20V232.97H142.64V235.20Z M143.08 235.20V232.97H145.21V235.20Z M145.65 235.20V233.17H147.79V235.20Z M148.23 235.20V232.77H150.36V235.20Z M150.80 235.20V233.38H152.94V235.20Z M153.38 235.20V232.97H155.52V235.20Z M155.96 235.20V233.58H158.09V235.20Z M158.53 235.20V233.17H160.67V235.20Z M161.11 235.20V232.97H163.24V235.20Z M163.68 235.20V233.98H165.82V235.20Z M166.26 235.20V233.58H168.40V235.20Z M168.84 235.20V233.78H170.97V235.20Z M171.41 235.20V233.38H173.55V235.20Z M173.99 235.20V233.98H176.12V235.20Z M176.56 235.20V233.78H178.70V235.20Z M179.14 235.20V233.98H181.28V235.20Z M181.72 235.20V234.19H183.85V235.20Z M184.29 235.20V234.39H186.43V235.20Z M189.44 235.20V234.19H191.58V235.20Z M194.60 235.20V234.19H196.73V235.20Z M197.17 235.20V234.19H199.31V235.20Z M207.48 235.20V234.59H209.61V235.20Z M210.05 235.20V234.79H212.19V235.20Z M212.63 235.20V234.39H214.76V235.20Z M220.36 235.20V234.59H222.49V235.20Z M222.93 235.20V234.79H225.07V235.20Z M228.08 235.20V234.59H230.22V235.20Z M230.66 235.20V235.00H232.80V235.20Z M233.24 235.20V234.79H235.37V235.20Z M240.96 235.20V235.00H243.10V235.20Z M248.69 235.20V234.59H250.83V235.20Z M253.84 235.20V234.79H255.98V235.20Z M256.42 235.20V234.79H258.56V235.20Z M259.00 235.20V234.59H261.13V235.20Z M261.57 235.20V235.00H263.71V235.20Z M266.72 235.20V234.79H268.86V235.20Z M289.91 235.20V235.00H292.04V235.20Z M292.48 235.20V234.79H294.62V235.20Z M315.67 235.20V234.79H317.80V235.20Z M319.61 235.20V32.60H321.59V235.20Z" fill="#2a9d8c"/>
<line x1="89.80" y1="22.40" x2="89.80" y2="235.20" stroke="#ff3b3b" stroke-width="1.5" stroke-dasharray="2.9 1.4"/>
<path d="M87.2 17.6 L92.6 17.6 L89.9 22.9 Z" fill="#e0141c"/>
<rect x="41.50" y="22.40" width="293.90" height="212.80" fill="none" stroke="#555" stroke-width="1" />
<line x1="39.70" y1="235.20" x2="41.50" y2="235.20" stroke="#555" stroke-width="0.8" />
<text x="39.20" y="239.20" font-size="11.3" text-anchor="end" fill="#111" stroke="#111" stroke-width="0.28" font-weight="normal" >0</text>
<line x1="39.70" y1="194.68" x2="41.50" y2="194.68" stroke="#555" stroke-width="0.8" />
<text x="39.20" y="198.68" font-size="11.3" text-anchor="end" fill="#111" stroke="#111" stroke-width="0.28" font-weight="normal" >200</text>
<line x1="39.70" y1="154.16" x2="41.50" y2="154.16" stroke="#555" stroke-width="0.8" />
<text x="39.20" y="158.16" font-size="11.3" text-anchor="end" fill="#111" stroke="#111" stroke-width="0.28" font-weight="normal" >400</text>
<line x1="39.70" y1="113.64" x2="41.50" y2="113.64" stroke="#555" stroke-width="0.8" />
<text x="39.20" y="117.64" font-size="11.3" text-anchor="end" fill="#111" stroke="#111" stroke-width="0.28" font-weight="normal" >600</text>
<line x1="39.70" y1="73.12" x2="41.50" y2="73.12" stroke="#555" stroke-width="0.8" />
<text x="39.20" y="77.12" font-size="11.3" text-anchor="end" fill="#111" stroke="#111" stroke-width="0.28" font-weight="normal" >800</text>
<line x1="39.70" y1="32.60" x2="41.50" y2="32.60" stroke="#555" stroke-width="0.8" />
<text x="39.20" y="36.60" font-size="11.3" text-anchor="end" fill="#111" stroke="#111" stroke-width="0.28" font-weight="normal" >1000</text>
<line x1="63.00" y1="235.20" x2="63.00" y2="237.00" stroke="#555" stroke-width="0.8" />
<text x="63.00" y="247.40" font-size="11.3" text-anchor="middle" fill="#111" stroke="#111" stroke-width="0.28" font-weight="normal" >0</text>
<line x1="127.40" y1="235.20" x2="127.40" y2="237.00" stroke="#555" stroke-width="0.8" />
<text x="127.40" y="247.40" font-size="11.3" text-anchor="middle" fill="#111" stroke="#111" stroke-width="0.28" font-weight="normal" >500</text>
<line x1="191.80" y1="235.20" x2="191.80" y2="237.00" stroke="#555" stroke-width="0.8" />
<text x="191.80" y="247.40" font-size="11.3" text-anchor="middle" fill="#111" stroke="#111" stroke-width="0.28" font-weight="normal" >1000</text>
<line x1="256.20" y1="235.20" x2="256.20" y2="237.00" stroke="#555" stroke-width="0.8" />
<text x="256.20" y="247.40" font-size="11.3" text-anchor="middle" fill="#111" stroke="#111" stroke-width="0.28" font-weight="normal" >1500</text>
<line x1="320.60" y1="235.20" x2="320.60" y2="237.00" stroke="#555" stroke-width="0.8" />
<text x="319.20" y="247.40" font-size="11.3" text-anchor="middle" fill="#111" stroke="#111" stroke-width="0.28" font-weight="normal" >&gt;2000</text>
<text x="188.50" y="257.60" font-size="11.4" text-anchor="middle" fill="#111" stroke="#111" stroke-width="0.28" font-weight="normal" >MM/GBSA binding free energy (kcal/mol)</text>
<text x="16.60" y="119.80" font-size="11.4" text-anchor="middle" fill="#111" stroke="#111" stroke-width="0.28" transform="rotate(-90 16.60 119.80)" >Number of ligand-protein pairs</text>
<text x="53.40" y="14.10" font-size="10.3" text-anchor="start" fill="#cc1018" stroke="#cc1018" stroke-width="0.28" font-weight="bold" >Dynamically adjust the threshold for labeling</text>
<text x="61.40" y="38.60" font-size="10.2" text-anchor="start" fill="#cc1018" stroke="#cc1018" stroke-width="0.28" font-weight="bold" >Valid</text>
<text x="93.40" y="38.60" font-size="10.2" text-anchor="start" fill="#cc1018" stroke="#cc1018" stroke-width="0.28" font-weight="bold" >Invalid</text>
<line x1="405.50" y1="22.40" x2="405.50" y2="234.20" stroke="#d2d2d2" stroke-width="1" />
<line x1="468.82" y1="22.40" x2="468.82" y2="234.20" stroke="#d2d2d2" stroke-width="1" />
<line x1="532.14" y1="22.40" x2="532.14" y2="234.20" stroke="#d2d2d2" stroke-width="1" />
<line x1="595.46" y1="22.40" x2="595.46" y2="234.20" stroke="#d2d2d2" stroke-width="1" />
<line x1="658.78" y1="22.40" x2="658.78" y2="234.20" stroke="#d2d2d2" stroke-width="1" />
<line x1="385.20" y1="213.99" x2="671.60" y2="213.99" stroke="#d2d2d2" stroke-width="1" />
<line x1="385.20" y1="185.72" x2="671.60" y2="185.72" stroke="#d2d2d2" stroke-width="1" />
<line x1="385.20" y1="157.46" x2="671.60" y2="157.46" stroke="#d2d2d2" stroke-width="1" />
<line x1="385.20" y1="129.19" x2="671.60" y2="129.19" stroke="#d2d2d2" stroke-width="1" />
<line x1="385.20" y1="100.93" x2="671.60" y2="100.93" stroke="#d2d2d2" stroke-width="1" />
<line x1="385.20" y1="72.66" x2="671.60" y2="72.66" stroke="#d2d2d2" stroke-width="1" />
<line x1="385.20" y1="44.40" x2="671.60" y2="44.40" stroke="#d2d2d2" stroke-width="1" />
<polyline points="397.1,211.0 403.2,212.2 406.1,186.7 408.6,157.3 410.9,129.2 412.5,103.8 415.4,87.4 419.5,71.0 423.6,59.4 427.1,51.2 430.6,43.6 434.7,41.3 439.4,38.9 442.9,37.2 446.4,35.4 448.7,36.2 453.4,33.7 458.1,32.7 461.6,33.7 465.1,33.3 468.6,33.9 470.0,33.4 475.8,32.5 481.7,32.8 484.6,31.9 490.4,31.9 494.8,33.0 502.1,33.7 512.3,34.1 518.2,34.8 524.0,35.9 531.3,35.6 538.6,36.3 545.9,36.9 554.7,37.3 563.4,38.1 570.0,37.8 578.8,38.8 587.5,39.8 595.5,40.7 606.5,41.4 618.2,41.4 628.4,42.4 637.2,43.6 648.8,43.9 659.6,44.6" fill="none" stroke="#f8aa35" stroke-width="2" stroke-linejoin="round"/>
<polyline points="397.1,223.5 403.5,224.4 406.1,191.8 408.6,158.6 410.9,131.7 413.1,120.2 414.9,110.8 418.4,100.2 421.9,92.1 425.6,82.7 428.9,80.4 431.2,76.3 434.7,73.7 438.8,72.8 442.9,70.8 446.4,68.5 451.1,67.0 454.6,67.0 456.9,65.8 462.2,65.4 468.6,64.3 470.0,64.3 474.4,61.4 480.2,60.7 486.1,60.7 491.9,60.0 497.7,59.7 500.7,60.5 508.0,60.2 516.7,60.0 525.5,60.2 532.8,59.5 537.2,59.2 541.5,60.0 548.8,59.7 557.6,60.0 563.4,59.7 570.0,59.7 578.8,60.7 584.6,60.2 595.5,61.1 606.5,61.4 618.2,61.4 628.4,61.7 638.6,62.7 648.8,61.9 659.6,62.3" fill="none" stroke="#15589e" stroke-width="2" stroke-linejoin="round"/>
<line x1="385.20" y1="22.40" x2="671.60" y2="22.40" stroke="#555" stroke-width="1" />
<line x1="385.20" y1="234.20" x2="671.60" y2="234.20" stroke="#555" stroke-width="1" />
<line x1="385.20" y1="22.40" x2="385.20" y2="234.20" stroke="#555" stroke-width="1" />
<line x1="671.90" y1="22.40" x2="671.90" y2="234.20" stroke="#9a9a9a" stroke-width="1.5" />
<line x1="383.40" y1="213.99" x2="385.20" y2="213.99" stroke="#555" stroke-width="0.8" />
<text x="382.40" y="217.99" font-size="11.3" text-anchor="end" fill="#111" stroke="#111" stroke-width="0.28" font-weight="normal" >0.55</text>
<line x1="383.40" y1="185.72" x2="385.20" y2="185.72" stroke="#555" stroke-width="0.8" />
<text x="382.40" y="189.72" font-size="11.3" text-anchor="end" fill="#111" stroke="#111" stroke-width="0.28" font-weight="normal" >0.60</text>
<line x1="383.40" y1="157.46" x2="385.20" y2="157.46" stroke="#555" stroke-width="0.8" />
<text x="382.40" y="161.46" font-size="11.3" text-anchor="end" fill="#111" stroke="#111" stroke-width="0.28" font-weight="normal" >0.65</text>
<line x1="383.40" y1="129.19" x2="385.20" y2="129.19" stroke="#555" stroke-width="0.8" />
<text x="382.40" y="133.19" font-size="11.3" text-anchor="end" fill="#111" stroke="#111" stroke-width="0.28" font-weight="normal" >0.70</text>
<line x1="383.40" y1="100.93" x2="385.20" y2="100.93" stroke="#555" stroke-width="0.8" />
<text x="382.40" y="104.93" font-size="11.3" text-anchor="end" fill="#111" stroke="#111" stroke-width="0.28" font-weight="normal" >0.75</text>
<line x1="383.40" y1="72.66" x2="385.20" y2="72.66" stroke="#555" stroke-width="0.8" />
<text x="382.40" y="76.66" font-size="11.3" text-anchor="end" fill="#111" stroke="#111" stroke-width="0.28" font-weight="normal" >0.80</text>
<line x1="383.40" y1="44.40" x2="385.20" y2="44.40" stroke="#555" stroke-width="0.8" />
<text x="382.40" y="48.40" font-size="11.3" text-anchor="end" fill="#111" stroke="#111" stroke-width="0.28" font-weight="normal" >0.85</text>
<line x1="405.50" y1="234.20" x2="405.50" y2="236.00" stroke="#555" stroke-width="0.8" />
<text x="405.50" y="246.80" font-size="11.3" text-anchor="middle" fill="#111" stroke="#111" stroke-width="0.28" font-weight="normal" >0</text>
<line x1="468.82" y1="234.20" x2="468.82" y2="236.00" stroke="#555" stroke-width="0.8" />
<text x="468.82" y="246.80" font-size="11.3" text-anchor="middle" fill="#111" stroke="#111" stroke-width="0.28" font-weight="normal" >500</text>
<line x1="532.14" y1="234.20" x2="532.14" y2="236.00" stroke="#555" stroke-width="0.8" />
<text x="532.14" y="246.80" font-size="11.3" text-anchor="middle" fill="#111" stroke="#111" stroke-width="0.28" font-weight="normal" >1000</text>
<line x1="595.46" y1="234.20" x2="595.46" y2="236.00" stroke="#555" stroke-width="0.8" />
<text x="595.46" y="246.80" font-size="11.3" text-anchor="middle" fill="#111" stroke="#111" stroke-width="0.28" font-weight="normal" >1500</text>
<line x1="658.78" y1="234.20" x2="658.78" y2="236.00" stroke="#555" stroke-width="0.8" />
<text x="657.38" y="246.80" font-size="11.3" text-anchor="middle" fill="#111" stroke="#111" stroke-width="0.28" font-weight="normal" >&gt;2000</text>
<text x="527.30" y="257.40" font-size="11.4" text-anchor="middle" fill="#111" stroke="#111" stroke-width="0.28" font-weight="normal" >MM/GBSA binding free energy threshold</text>
<text x="527.60" y="270.60" font-size="11.4" text-anchor="middle" fill="#111" stroke="#111" stroke-width="0.28" font-weight="normal" >for labeling (kcal/mol)</text>
<text x="356.90" y="122.00" font-size="11.4" text-anchor="middle" fill="#111" stroke="#111" stroke-width="0.28" transform="rotate(-90 356.90 122.00)" >Weighted F1 Score</text>
<rect x="583.00" y="198.40" width="76.00" height="25.60" fill="#fff" stroke="#e4e4e4" stroke-width="0.8" rx="1.5"/>
<line x1="590.00" y1="205.60" x2="609.00" y2="205.60" stroke="#f8aa35" stroke-width="2" />
<line x1="590.00" y1="216.10" x2="609.00" y2="216.10" stroke="#15589e" stroke-width="2" />
<text x="611.80" y="208.60" font-size="7.8" text-anchor="start" fill="#111" stroke="#111" stroke-width="0.28" font-weight="normal" >HEAD</text>
<text x="611.80" y="219.00" font-size="7.8" text-anchor="start" fill="#111" stroke="#111" stroke-width="0.28" font-weight="normal" >PoseBusters</text>
<rect x="317.03" y="430.41" width="6.94" height="0.59" fill="#8dbde4" stroke="#1a1a1a" stroke-width="0.8" />
<rect x="325.29" y="431.00" width="6.94" height="0.30" fill="#8dbde4" stroke="#1a1a1a" stroke-width="0.8" />
<rect x="333.55" y="431.00" width="6.94" height="4.43" fill="#8dbde4" stroke="#1a1a1a" stroke-width="0.8" />
<rect x="341.82" y="431.00" width="6.94" height="3.25" fill="#8dbde4" stroke="#1a1a1a" stroke-width="0.8" />
<rect x="350.08" y="431.00" width="6.94" height="0.59" fill="#8dbde4" stroke="#1a1a1a" stroke-width="0.8" />
<rect x="358.34" y="431.00" width="6.94" height="0.89" fill="#8dbde4" stroke="#1a1a1a" stroke-width="0.8" />
<rect x="366.60" y="431.00" width="6.94" height="1.77" fill="#8dbde4" stroke="#1a1a1a" stroke-width="0.8" />
<rect x="374.86" y="431.00" width="6.94" height="6.49" fill="#8dbde4" stroke="#1a1a1a" stroke-width="0.8" />
<rect x="383.13" y="431.00" width="6.94" height="2.66" fill="#8dbde4" stroke="#1a1a1a" stroke-width="0.8" />
<rect x="391.39" y="431.00" width="6.94" height="0.44" fill="#8dbde4" stroke="#1a1a1a" stroke-width="0.8" />
<rect x="399.65" y="430.70" width="6.94" height="0.30" fill="#8dbde4" stroke="#1a1a1a" stroke-width="0.8" />
<rect x="407.91" y="431.00" width="6.94" height="8.86" fill="#8dbde4" stroke="#1a1a1a" stroke-width="0.8" />
<rect x="416.17" y="413.88" width="6.94" height="17.12" fill="#e8787d" stroke="#1a1a1a" stroke-width="0.8" />
<rect x="424.44" y="431.00" width="6.94" height="4.43" fill="#8dbde4" stroke="#1a1a1a" stroke-width="0.8" />
<rect x="432.70" y="431.00" width="6.94" height="0.44" fill="#8dbde4" stroke="#1a1a1a" stroke-width="0.8" />
<rect x="440.96" y="431.00" width="6.94" height="0.44" fill="#8dbde4" stroke="#1a1a1a" stroke-width="0.8" />
<rect x="449.22" y="431.00" width="6.94" height="1.18" fill="#8dbde4" stroke="#1a1a1a" stroke-width="0.8" />
<rect x="457.48" y="418.31" width="6.94" height="12.69" fill="#e8787d" stroke="#1a1a1a" stroke-width="0.8" />
<rect x="465.75" y="431.00" width="6.94" height="3.54" fill="#8dbde4" stroke="#1a1a1a" stroke-width="0.8" />
<rect x="474.01" y="431.00" width="6.94" height="8.27" fill="#8dbde4" stroke="#1a1a1a" stroke-width="0.8" />
<rect x="482.27" y="431.00" width="6.94" height="6.49" fill="#8dbde4" stroke="#1a1a1a" stroke-width="0.8" />
<rect x="490.53" y="425.10" width="6.94" height="5.90" fill="#8dbde4" stroke="#1a1a1a" stroke-width="0.8" />
<rect x="498.79" y="430.11" width="6.94" height="0.89" fill="#8dbde4" stroke="#1a1a1a" stroke-width="0.8" />
<rect x="507.06" y="431.00" width="6.94" height="4.13" fill="#8dbde4" stroke="#1a1a1a" stroke-width="0.8" />
<rect x="515.32" y="431.00" width="6.94" height="9.15" fill="#8dbde4" stroke="#1a1a1a" stroke-width="0.8" />
<rect x="523.58" y="431.00" width="6.94" height="0.30" fill="#8dbde4" stroke="#1a1a1a" stroke-width="0.8" />
<rect x="531.84" y="428.93" width="6.94" height="2.07" fill="#8dbde4" stroke="#1a1a1a" stroke-width="0.8" />
<rect x="540.10" y="431.00" width="6.94" height="0.30" fill="#8dbde4" stroke="#1a1a1a" stroke-width="0.8" />
<rect x="548.37" y="431.00" width="6.94" height="0.30" fill="#8dbde4" stroke="#1a1a1a" stroke-width="0.8" />
<rect x="556.63" y="428.64" width="6.94" height="2.36" fill="#8dbde4" stroke="#1a1a1a" stroke-width="0.8" />
<rect x="564.89" y="429.23" width="6.94" height="1.77" fill="#8dbde4" stroke="#1a1a1a" stroke-width="0.8" />
<rect x="573.15" y="431.00" width="6.94" height="0.30" fill="#8dbde4" stroke="#1a1a1a" stroke-width="0.8" />
<rect x="581.41" y="389.97" width="6.94" height="41.03" fill="#e8787d" stroke="#1a1a1a" stroke-width="0.8" />
<rect x="589.68" y="420.08" width="6.94" height="10.92" fill="#8dbde4" stroke="#1a1a1a" stroke-width="0.8" />
<rect x="597.94" y="431.00" width="6.94" height="0.59" fill="#8dbde4" stroke="#1a1a1a" stroke-width="0.8" />
<rect x="606.20" y="431.00" width="6.94" height="0.30" fill="#8dbde4" stroke="#1a1a1a" stroke-width="0.8" />
<rect x="614.46" y="304.06" width="6.94" height="126.94" fill="#e8787d" stroke="#1a1a1a" stroke-width="0.8" />
<rect x="622.72" y="430.11" width="6.94" height="0.89" fill="#8dbde4" stroke="#1a1a1a" stroke-width="0.8" />
<rect x="630.99" y="430.41" width="6.94" height="0.59" fill="#8dbde4" stroke="#1a1a1a" stroke-width="0.8" />
<rect x="639.25" y="431.00" width="6.94" height="0.30" fill="#8dbde4" stroke="#1a1a1a" stroke-width="0.8" />
<rect x="647.51" y="430.41" width="6.94" height="0.59" fill="#8dbde4" stroke="#1a1a1a" stroke-width="0.8" />
<rect x="655.77" y="431.00" width="6.94" height="12.10" fill="#8dbde4" stroke="#1a1a1a" stroke-width="0.8" />
<rect x="299.80" y="283.40" width="379.60" height="171.00" fill="none" stroke="#555" stroke-width="1" />
<line x1="297.20" y1="431.00" x2="299.80" y2="431.00" stroke="#555" stroke-width="0.8" />
<text x="295.50" y="435.11" font-size="13.3" text-anchor="end" fill="#111" stroke="#111" stroke-width="0.28" font-weight="normal" >0</text>
<line x1="297.20" y1="401.48" x2="299.80" y2="401.48" stroke="#555" stroke-width="0.8" />
<text x="295.50" y="406.16" font-size="13.3" text-anchor="end" fill="#111" stroke="#111" stroke-width="0.28" font-weight="normal" >10</text>
<line x1="297.20" y1="371.96" x2="299.80" y2="371.96" stroke="#555" stroke-width="0.8" />
<text x="295.50" y="377.21" font-size="13.3" text-anchor="end" fill="#111" stroke="#111" stroke-width="0.28" font-weight="normal" >20</text>
<line x1="297.20" y1="342.44" x2="299.80" y2="342.44" stroke="#555" stroke-width="0.8" />
<text x="295.50" y="348.26" font-size="13.3" text-anchor="end" fill="#111" stroke="#111" stroke-width="0.28" font-weight="normal" >30</text>
<line x1="297.20" y1="312.92" x2="299.80" y2="312.92" stroke="#555" stroke-width="0.8" />
<text x="295.50" y="319.31" font-size="13.3" text-anchor="end" fill="#111" stroke="#111" stroke-width="0.28" font-weight="normal" >40</text>
<line x1="297.20" y1="283.40" x2="299.80" y2="283.40" stroke="#555" stroke-width="0.8" />
<text x="295.50" y="290.36" font-size="13.3" text-anchor="end" fill="#111" stroke="#111" stroke-width="0.28" font-weight="normal" >50</text>
<line x1="320.50" y1="454.40" x2="320.50" y2="457.20" stroke="#555" stroke-width="0.8" />
<text x="322.20" y="459.10" font-size="8.7" text-anchor="end" fill="#111" stroke="#111" stroke-width="0.28" transform="rotate(-90 322.20 459.10)" >O1</text>
<line x1="328.76" y1="454.40" x2="328.76" y2="457.20" stroke="#555" stroke-width="0.8" />
<text x="330.46" y="459.10" font-size="8.7" text-anchor="end" fill="#111" stroke="#111" stroke-width="0.28" transform="rotate(-90 330.46 459.10)" >C2</text>
<line x1="337.02" y1="454.40" x2="337.02" y2="457.20" stroke="#555" stroke-width="0.8" />
<text x="338.72" y="459.10" font-size="8.7" text-anchor="end" fill="#111" stroke="#111" stroke-width="0.28" transform="rotate(-90 338.72 459.10)" >C3</text>
<line x1="345.29" y1="454.40" x2="345.29" y2="457.20" stroke="#555" stroke-width="0.8" />
<text x="346.99" y="459.10" font-size="8.7" text-anchor="end" fill="#111" stroke="#111" stroke-width="0.28" transform="rotate(-90 346.99 459.10)" >C4</text>
<line x1="353.55" y1="454.40" x2="353.55" y2="457.20" stroke="#555" stroke-width="0.8" />
<text x="355.25" y="459.10" font-size="8.7" text-anchor="end" fill="#111" stroke="#111" stroke-width="0.28" transform="rotate(-90 355.25 459.10)" >C5</text>
<line x1="361.81" y1="454.40" x2="361.81" y2="457.20" stroke="#555" stroke-width="0.8" />
<text x="363.51" y="459.10" font-size="8.7" text-anchor="end" fill="#111" stroke="#111" stroke-width="0.28" transform="rotate(-90 363.51 459.10)" >C6</text>
<line x1="370.07" y1="454.40" x2="370.07" y2="457.20" stroke="#555" stroke-width="0.8" />
<text x="371.77" y="459.10" font-size="8.7" text-anchor="end" fill="#111" stroke="#111" stroke-width="0.28" transform="rotate(-90 371.77 459.10)" >C7</text>
<line x1="378.33" y1="454.40" x2="378.33" y2="457.20" stroke="#555" stroke-width="0.8" />
<text x="380.03" y="459.10" font-size="8.7" text-anchor="end" fill="#111" stroke="#111" stroke-width="0.28" transform="rotate(-90 380.03 459.10)" >C8</text>
<line x1="386.60" y1="454.40" x2="386.60" y2="457.20" stroke="#555" stroke-width="0.8" />
<text x="388.30" y="459.10" font-size="8.7" text-anchor="end" fill="#111" stroke="#111" stroke-width="0.28" transform="rotate(-90 388.30 459.10)" >C9</text>
<line x1="394.86" y1="454.40" x2="394.86" y2="457.20" stroke="#555" stroke-width="0.8" />
<text x="396.56" y="459.10" font-size="8.7" text-anchor="end" fill="#111" stroke="#111" stroke-width="0.28" transform="rotate(-90 396.56 459.10)" >C10</text>
<line x1="403.12" y1="454.40" x2="403.12" y2="457.20" stroke="#555" stroke-width="0.8" />
<text x="404.82" y="459.10" font-size="8.7" text-anchor="end" fill="#111" stroke="#111" stroke-width="0.28" transform="rotate(-90 404.82 459.10)" >C11</text>
<line x1="411.38" y1="454.40" x2="411.38" y2="457.20" stroke="#555" stroke-width="0.8" />
<text x="413.08" y="459.10" font-size="8.7" text-anchor="end" fill="#111" stroke="#111" stroke-width="0.28" transform="rotate(-90 413.08 459.10)" >C12</text>
<line x1="419.64" y1="454.40" x2="419.64" y2="457.20" stroke="#555" stroke-width="0.8" />
<text x="421.34" y="459.10" font-size="8.7" text-anchor="end" fill="#111" stroke="#111" stroke-width="0.28" transform="rotate(-90 421.34 459.10)" >C13</text>
<line x1="427.91" y1="454.40" x2="427.91" y2="457.20" stroke="#555" stroke-width="0.8" />
<text x="429.61" y="459.10" font-size="8.7" text-anchor="end" fill="#111" stroke="#111" stroke-width="0.28" transform="rotate(-90 429.61 459.10)" >C14</text>
<line x1="436.17" y1="454.40" x2="436.17" y2="457.20" stroke="#555" stroke-width="0.8" />
<text x="437.87" y="459.10" font-size="8.7" text-anchor="end" fill="#111" stroke="#111" stroke-width="0.28" transform="rotate(-90 437.87 459.10)" >C15</text>
<line x1="444.43" y1="454.40" x2="444.43" y2="457.20" stroke="#555" stroke-width="0.8" />
<text x="446.13" y="459.10" font-size="8.7" text-anchor="end" fill="#111" stroke="#111" stroke-width="0.28" transform="rotate(-90 446.13 459.10)" >C16</text>
<line x1="452.69" y1="454.40" x2="452.69" y2="457.20" stroke="#555" stroke-width="0.8" />
<text x="454.39" y="459.10" font-size="8.7" text-anchor="end" fill="#111" stroke="#111" stroke-width="0.28" transform="rotate(-90 454.39 459.10)" >C17</text>
<line x1="460.95" y1="454.40" x2="460.95" y2="457.20" stroke="#555" stroke-width="0.8" />
<text x="462.65" y="459.10" font-size="8.7" text-anchor="end" fill="#111" stroke="#111" stroke-width="0.28" transform="rotate(-90 462.65 459.10)" >C18</text>
<line x1="469.22" y1="454.40" x2="469.22" y2="457.20" stroke="#555" stroke-width="0.8" />
<text x="470.92" y="459.10" font-size="8.7" text-anchor="end" fill="#111" stroke="#111" stroke-width="0.28" transform="rotate(-90 470.92 459.10)" >N19</text>
<line x1="477.48" y1="454.40" x2="477.48" y2="457.20" stroke="#555" stroke-width="0.8" />
<text x="479.18" y="459.10" font-size="8.7" text-anchor="end" fill="#111" stroke="#111" stroke-width="0.28" transform="rotate(-90 479.18 459.10)" >S20</text>
<line x1="485.74" y1="454.40" x2="485.74" y2="457.20" stroke="#555" stroke-width="0.8" />
<text x="487.44" y="459.10" font-size="8.7" text-anchor="end" fill="#111" stroke="#111" stroke-width="0.28" transform="rotate(-90 487.44 459.10)" >C21</text>
<line x1="494.00" y1="454.40" x2="494.00" y2="457.20" stroke="#555" stroke-width="0.8" />
<text x="495.70" y="459.10" font-size="8.7" text-anchor="end" fill="#111" stroke="#111" stroke-width="0.28" transform="rotate(-90 495.70 459.10)" >O22</text>
<line x1="502.26" y1="454.40" x2="502.26" y2="457.20" stroke="#555" stroke-width="0.8" />
<text x="503.96" y="459.10" font-size="8.7" text-anchor="end" fill="#111" stroke="#111" stroke-width="0.28" transform="rotate(-90 503.96 459.10)" >O23</text>
<line x1="510.53" y1="454.40" x2="510.53" y2="457.20" stroke="#555" stroke-width="0.8" />
<text x="512.23" y="459.10" font-size="8.7" text-anchor="end" fill="#111" stroke="#111" stroke-width="0.28" transform="rotate(-90 512.23 459.10)" >O24</text>
<line x1="518.79" y1="454.40" x2="518.79" y2="457.20" stroke="#555" stroke-width="0.8" />
<text x="520.49" y="459.10" font-size="8.7" text-anchor="end" fill="#111" stroke="#111" stroke-width="0.28" transform="rotate(-90 520.49 459.10)" >H25</text>
<line x1="527.05" y1="454.40" x2="527.05" y2="457.20" stroke="#555" stroke-width="0.8" />
<text x="528.75" y="459.10" font-size="8.7" text-anchor="end" fill="#111" stroke="#111" stroke-width="0.28" transform="rotate(-90 528.75 459.10)" >H26</text>
<line x1="535.31" y1="454.40" x2="535.31" y2="457.20" stroke="#555" stroke-width="0.8" />
<text x="537.01" y="459.10" font-size="8.7" text-anchor="end" fill="#111" stroke="#111" stroke-width="0.28" transform="rotate(-90 537.01 459.10)" >H27</text>
<line x1="543.57" y1="454.40" x2="543.57" y2="457.20" stroke="#555" stroke-width="0.8" />
<text x="545.27" y="459.10" font-size="8.7" text-anchor="end" fill="#111" stroke="#111" stroke-width="0.28" transform="rotate(-90 545.27 459.10)" >H28</text>
<line x1="551.84" y1="454.40" x2="551.84" y2="457.20" stroke="#555" stroke-width="0.8" />
<text x="553.54" y="459.10" font-size="8.7" text-anchor="end" fill="#111" stroke="#111" stroke-width="0.28" transform="rotate(-90 553.54 459.10)" >H29</text>
<line x1="560.10" y1="454.40" x2="560.10" y2="457.20" stroke="#555" stroke-width="0.8" />
<text x="561.80" y="459.10" font-size="8.7" text-anchor="end" fill="#111" stroke="#111" stroke-width="0.28" transform="rotate(-90 561.80 459.10)" >H30</text>
<line x1="568.36" y1="454.40" x2="568.36" y2="457.20" stroke="#555" stroke-width="0.8" />
<text x="570.06" y="459.10" font-size="8.7" text-anchor="end" fill="#111" stroke="#111" stroke-width="0.28" transform="rotate(-90 570.06 459.10)" >H31</text>
<line x1="576.62" y1="454.40" x2="576.62" y2="457.20" stroke="#555" stroke-width="0.8" />
<text x="578.32" y="459.10" font-size="8.7" text-anchor="end" fill="#111" stroke="#111" stroke-width="0.28" transform="rotate(-90 578.32 459.10)" >H32</text>
<line x1="584.88" y1="454.40" x2="584.88" y2="457.20" stroke="#555" stroke-width="0.8" />
<text x="586.58" y="459.10" font-size="8.7" text-anchor="end" fill="#111" stroke="#111" stroke-width="0.28" transform="rotate(-90 586.58 459.10)" >H33</text>
<line x1="593.15" y1="454.40" x2="593.15" y2="457.20" stroke="#555" stroke-width="0.8" />
<text x="594.85" y="459.10" font-size="8.7" text-anchor="end" fill="#111" stroke="#111" stroke-width="0.28" transform="rotate(-90 594.85 459.10)" >H34</text>
<line x1="601.41" y1="454.40" x2="601.41" y2="457.20" stroke="#555" stroke-width="0.8" />
<text x="603.11" y="459.10" font-size="8.7" text-anchor="end" fill="#111" stroke="#111" stroke-width="0.28" transform="rotate(-90 603.11 459.10)" >H35</text>
<line x1="609.67" y1="454.40" x2="609.67" y2="457.20" stroke="#555" stroke-width="0.8" />
<text x="611.37" y="459.10" font-size="8.7" text-anchor="end" fill="#111" stroke="#111" stroke-width="0.28" transform="rotate(-90 611.37 459.10)" >H36</text>
<line x1="617.93" y1="454.40" x2="617.93" y2="457.20" stroke="#555" stroke-width="0.8" />
<text x="619.63" y="459.10" font-size="8.7" text-anchor="end" fill="#111" stroke="#111" stroke-width="0.28" transform="rotate(-90 619.63 459.10)" >H37</text>
<line x1="626.19" y1="454.40" x2="626.19" y2="457.20" stroke="#555" stroke-width="0.8" />
<text x="627.89" y="459.10" font-size="8.7" text-anchor="end" fill="#111" stroke="#111" stroke-width="0.28" transform="rotate(-90 627.89 459.10)" >H38</text>
<line x1="634.46" y1="454.40" x2="634.46" y2="457.20" stroke="#555" stroke-width="0.8" />
<text x="636.16" y="459.10" font-size="8.7" text-anchor="end" fill="#111" stroke="#111" stroke-width="0.28" transform="rotate(-90 636.16 459.10)" >H39</text>
<line x1="642.72" y1="454.40" x2="642.72" y2="457.20" stroke="#555" stroke-width="0.8" />
<text x="644.42" y="459.10" font-size="8.7" text-anchor="end" fill="#111" stroke="#111" stroke-width="0.28" transform="rotate(-90 644.42 459.10)" >H40</text>
<line x1="650.98" y1="454.40" x2="650.98" y2="457.20" stroke="#555" stroke-width="0.8" />
<text x="652.68" y="459.10" font-size="8.7" text-anchor="end" fill="#111" stroke="#111" stroke-width="0.28" transform="rotate(-90 652.68 459.10)" >H41</text>
<line x1="659.24" y1="454.40" x2="659.24" y2="457.20" stroke="#555" stroke-width="0.8" />
<text x="660.94" y="459.10" font-size="8.7" text-anchor="end" fill="#111" stroke="#111" stroke-width="0.28" transform="rotate(-90 660.94 459.10)" >H42</text>
<text x="272.00" y="371.30" font-size="11.4" text-anchor="middle" fill="#111" stroke="#111" stroke-width="0.28" transform="rotate(-90 272.00 371.30)" >Atomic Energy Difference (kcal/mol)</text>
<rect x="316.75" y="623.00" width="8.11" height="5.22" fill="#8dbde4" stroke="#1a1a1a" stroke-width="0.8" />
<rect x="326.40" y="623.00" width="8.11" height="8.21" fill="#8dbde4" stroke="#1a1a1a" stroke-width="0.8" />
<rect x="336.05" y="618.52" width="8.11" height="4.48" fill="#8dbde4" stroke="#1a1a1a" stroke-width="0.8" />
<rect x="345.71" y="591.67" width="8.11" height="31.33" fill="#e8787d" stroke="#1a1a1a" stroke-width="0.8" />
<rect x="355.36" y="623.00" width="8.11" height="8.95" fill="#8dbde4" stroke="#1a1a1a" stroke-width="0.8" />
<rect x="365.02" y="585.70" width="8.11" height="37.30" fill="#e8787d" stroke="#1a1a1a" stroke-width="0.8" />
<rect x="374.67" y="623.00" width="8.11" height="6.71" fill="#8dbde4" stroke="#1a1a1a" stroke-width="0.8" />
<rect x="384.32" y="623.00" width="8.11" height="1.87" fill="#8dbde4" stroke="#1a1a1a" stroke-width="0.8" />
<rect x="393.98" y="623.00" width="8.11" height="4.48" fill="#8dbde4" stroke="#1a1a1a" stroke-width="0.8" />
<rect x="403.63" y="598.01" width="8.11" height="24.99" fill="#8dbde4" stroke="#1a1a1a" stroke-width="0.8" />
<rect x="413.29" y="623.00" width="8.11" height="1.87" fill="#8dbde4" stroke="#1a1a1a" stroke-width="0.8" />
<rect x="422.94" y="614.79" width="8.11" height="8.21" fill="#8dbde4" stroke="#1a1a1a" stroke-width="0.8" />
<rect x="432.59" y="623.00" width="8.11" height="7.46" fill="#8dbde4" stroke="#1a1a1a" stroke-width="0.8" />
<rect x="442.25" y="623.00" width="8.11" height="4.85" fill="#8dbde4" stroke="#1a1a1a" stroke-width="0.8" />
<rect x="451.90" y="605.10" width="8.11" height="17.90" fill="#8dbde4" stroke="#1a1a1a" stroke-width="0.8" />
<rect x="461.56" y="623.00" width="8.11" height="4.85" fill="#8dbde4" stroke="#1a1a1a" stroke-width="0.8" />
<rect x="471.21" y="623.00" width="8.11" height="3.36" fill="#8dbde4" stroke="#1a1a1a" stroke-width="0.8" />
<rect x="480.86" y="605.47" width="8.11" height="17.53" fill="#8dbde4" stroke="#1a1a1a" stroke-width="0.8" />
<rect x="490.52" y="623.00" width="8.11" height="2.98" fill="#8dbde4" stroke="#1a1a1a" stroke-width="0.8" />
<rect x="500.17" y="623.00" width="8.11" height="4.85" fill="#8dbde4" stroke="#1a1a1a" stroke-width="0.8" />
<rect x="509.83" y="515.58" width="8.11" height="107.42" fill="#e8787d" stroke="#1a1a1a" stroke-width="0.8" />
<rect x="519.48" y="618.90" width="8.11" height="4.10" fill="#8dbde4" stroke="#1a1a1a" stroke-width="0.8" />
<rect x="529.13" y="567.80" width="8.11" height="55.20" fill="#e8787d" stroke="#1a1a1a" stroke-width="0.8" />
<rect x="538.79" y="623.00" width="8.11" height="5.22" fill="#8dbde4" stroke="#1a1a1a" stroke-width="0.8" />
<rect x="548.44" y="623.00" width="8.11" height="3.73" fill="#8dbde4" stroke="#1a1a1a" stroke-width="0.8" />
<rect x="558.10" y="622.25" width="8.11" height="0.75" fill="#8dbde4" stroke="#1a1a1a" stroke-width="0.8" />
<rect x="567.75" y="620.76" width="8.11" height="2.24" fill="#8dbde4" stroke="#1a1a1a" stroke-width="0.8" />
<rect x="577.40" y="619.27" width="8.11" height="3.73" fill="#8dbde4" stroke="#1a1a1a" stroke-width="0.8" />
<rect x="587.06" y="623.00" width="8.11" height="0.90" fill="#8dbde4" stroke="#1a1a1a" stroke-width="0.8" />
<rect x="596.71" y="623.00" width="8.11" height="10.44" fill="#8dbde4" stroke="#1a1a1a" stroke-width="0.8" />
<rect x="606.37" y="606.59" width="8.11" height="16.41" fill="#8dbde4" stroke="#1a1a1a" stroke-width="0.8" />
<rect x="616.02" y="623.00" width="8.11" height="5.60" fill="#8dbde4" stroke="#1a1a1a" stroke-width="0.8" />
<rect x="625.67" y="620.39" width="8.11" height="2.61" fill="#8dbde4" stroke="#1a1a1a" stroke-width="0.8" />
<rect x="635.33" y="623.00" width="8.11" height="9.33" fill="#8dbde4" stroke="#1a1a1a" stroke-width="0.8" />
<rect x="644.98" y="623.00" width="8.11" height="5.22" fill="#8dbde4" stroke="#1a1a1a" stroke-width="0.8" />
<rect x="654.64" y="623.00" width="8.11" height="0.37" fill="#8dbde4" stroke="#1a1a1a" stroke-width="0.8" />
<rect x="299.80" y="489.00" width="379.90" height="171.20" fill="none" stroke="#555" stroke-width="1" />
<line x1="297.20" y1="660.30" x2="299.80" y2="660.30" stroke="#555" stroke-width="0.8" />
<text x="295.50" y="664.39" font-size="13.3" text-anchor="end" fill="#111" stroke="#111" stroke-width="0.28" font-weight="normal" >&#8722;5</text>
<line x1="297.20" y1="623.00" x2="299.80" y2="623.00" stroke="#555" stroke-width="0.8" />
<text x="295.50" y="627.82" font-size="13.3" text-anchor="end" fill="#111" stroke="#111" stroke-width="0.28" font-weight="normal" >0</text>
<line x1="297.20" y1="585.70" x2="299.80" y2="585.70" stroke="#555" stroke-width="0.8" />
<text x="295.50" y="591.25" font-size="13.3" text-anchor="end" fill="#111" stroke="#111" stroke-width="0.28" font-weight="normal" >5</text>
<line x1="297.20" y1="548.40" x2="299.80" y2="548.40" stroke="#555" stroke-width="0.8" />
<text x="295.50" y="554.68" font-size="13.3" text-anchor="end" fill="#111" stroke="#111" stroke-width="0.28" font-weight="normal" >10</text>
<line x1="297.20" y1="511.10" x2="299.80" y2="511.10" stroke="#555" stroke-width="0.8" />
<text x="295.50" y="518.10" font-size="13.3" text-anchor="end" fill="#111" stroke="#111" stroke-width="0.28" font-weight="normal" >15</text>
<line x1="320.80" y1="660.20" x2="320.80" y2="663.00" stroke="#555" stroke-width="0.8" />
<text x="322.50" y="664.90" font-size="8.7" text-anchor="end" fill="#111" stroke="#111" stroke-width="0.28" transform="rotate(-90 322.50 664.90)" >C1</text>
<line x1="330.45" y1="660.20" x2="330.45" y2="663.00" stroke="#555" stroke-width="0.8" />
<text x="332.15" y="664.90" font-size="8.7" text-anchor="end" fill="#111" stroke="#111" stroke-width="0.28" transform="rotate(-90 332.15 664.90)" >C2</text>
<line x1="340.11" y1="660.20" x2="340.11" y2="663.00" stroke="#555" stroke-width="0.8" />
<text x="341.81" y="664.90" font-size="8.7" text-anchor="end" fill="#111" stroke="#111" stroke-width="0.28" transform="rotate(-90 341.81 664.90)" >C3</text>
<line x1="349.76" y1="660.20" x2="349.76" y2="663.00" stroke="#555" stroke-width="0.8" />
<text x="351.46" y="664.90" font-size="8.7" text-anchor="end" fill="#111" stroke="#111" stroke-width="0.28" transform="rotate(-90 351.46 664.90)" >O4</text>
<line x1="359.42" y1="660.20" x2="359.42" y2="663.00" stroke="#555" stroke-width="0.8" />
<text x="361.12" y="664.90" font-size="8.7" text-anchor="end" fill="#111" stroke="#111" stroke-width="0.28" transform="rotate(-90 361.12 664.90)" >C5</text>
<line x1="369.07" y1="660.20" x2="369.07" y2="663.00" stroke="#555" stroke-width="0.8" />
<text x="370.77" y="664.90" font-size="8.7" text-anchor="end" fill="#111" stroke="#111" stroke-width="0.28" transform="rotate(-90 370.77 664.90)" >O6</text>
<line x1="378.72" y1="660.20" x2="378.72" y2="663.00" stroke="#555" stroke-width="0.8" />
<text x="380.42" y="664.90" font-size="8.7" text-anchor="end" fill="#111" stroke="#111" stroke-width="0.28" transform="rotate(-90 380.42 664.90)" >C7</text>
<line x1="388.38" y1="660.20" x2="388.38" y2="663.00" stroke="#555" stroke-width="0.8" />
<text x="390.08" y="664.90" font-size="8.7" text-anchor="end" fill="#111" stroke="#111" stroke-width="0.28" transform="rotate(-90 390.08 664.90)" >C8</text>
<line x1="398.03" y1="660.20" x2="398.03" y2="663.00" stroke="#555" stroke-width="0.8" />
<text x="399.73" y="664.90" font-size="8.7" text-anchor="end" fill="#111" stroke="#111" stroke-width="0.28" transform="rotate(-90 399.73 664.90)" >C9</text>
<line x1="407.69" y1="660.20" x2="407.69" y2="663.00" stroke="#555" stroke-width="0.8" />
<text x="409.39" y="664.90" font-size="8.7" text-anchor="end" fill="#111" stroke="#111" stroke-width="0.28" transform="rotate(-90 409.39 664.90)" >C10</text>
<line x1="417.34" y1="660.20" x2="417.34" y2="663.00" stroke="#555" stroke-width="0.8" />
<text x="419.04" y="664.90" font-size="8.7" text-anchor="end" fill="#111" stroke="#111" stroke-width="0.28" transform="rotate(-90 419.04 664.90)" >C11</text>
<line x1="426.99" y1="660.20" x2="426.99" y2="663.00" stroke="#555" stroke-width="0.8" />
<text x="428.69" y="664.90" font-size="8.7" text-anchor="end" fill="#111" stroke="#111" stroke-width="0.28" transform="rotate(-90 428.69 664.90)" >C12</text>
<line x1="436.65" y1="660.20" x2="436.65" y2="663.00" stroke="#555" stroke-width="0.8" />
<text x="438.35" y="664.90" font-size="8.7" text-anchor="end" fill="#111" stroke="#111" stroke-width="0.28" transform="rotate(-90 438.35 664.90)" >C13</text>
<line x1="446.30" y1="660.20" x2="446.30" y2="663.00" stroke="#555" stroke-width="0.8" />
<text x="448.00" y="664.90" font-size="8.7" text-anchor="end" fill="#111" stroke="#111" stroke-width="0.28" transform="rotate(-90 448.00 664.90)" >N14</text>
<line x1="455.96" y1="660.20" x2="455.96" y2="663.00" stroke="#555" stroke-width="0.8" />
<text x="457.66" y="664.90" font-size="8.7" text-anchor="end" fill="#111" stroke="#111" stroke-width="0.28" transform="rotate(-90 457.66 664.90)" >C15</text>
<line x1="465.61" y1="660.20" x2="465.61" y2="663.00" stroke="#555" stroke-width="0.8" />
<text x="467.31" y="664.90" font-size="8.7" text-anchor="end" fill="#111" stroke="#111" stroke-width="0.28" transform="rotate(-90 467.31 664.90)" >C16</text>
<line x1="475.26" y1="660.20" x2="475.26" y2="663.00" stroke="#555" stroke-width="0.8" />
<text x="476.96" y="664.90" font-size="8.7" text-anchor="end" fill="#111" stroke="#111" stroke-width="0.28" transform="rotate(-90 476.96 664.90)" >C17</text>
<line x1="484.92" y1="660.20" x2="484.92" y2="663.00" stroke="#555" stroke-width="0.8" />
<text x="486.62" y="664.90" font-size="8.7" text-anchor="end" fill="#111" stroke="#111" stroke-width="0.28" transform="rotate(-90 486.62 664.90)" >C18</text>
<line x1="494.57" y1="660.20" x2="494.57" y2="663.00" stroke="#555" stroke-width="0.8" />
<text x="496.27" y="664.90" font-size="8.7" text-anchor="end" fill="#111" stroke="#111" stroke-width="0.28" transform="rotate(-90 496.27 664.90)" >C19</text>
<line x1="504.23" y1="660.20" x2="504.23" y2="663.00" stroke="#555" stroke-width="0.8" />
<text x="505.93" y="664.90" font-size="8.7" text-anchor="end" fill="#111" stroke="#111" stroke-width="0.28" transform="rotate(-90 505.93 664.90)" >H20</text>
<line x1="513.88" y1="660.20" x2="513.88" y2="663.00" stroke="#555" stroke-width="0.8" />
<text x="515.58" y="664.90" font-size="8.7" text-anchor="end" fill="#111" stroke="#111" stroke-width="0.28" transform="rotate(-90 515.58 664.90)" >H21</text>
<line x1="523.53" y1="660.20" x2="523.53" y2="663.00" stroke="#555" stroke-width="0.8" />
<text x="525.23" y="664.90" font-size="8.7" text-anchor="end" fill="#111" stroke="#111" stroke-width="0.28" transform="rotate(-90 525.23 664.90)" >H22</text>
<line x1="533.19" y1="660.20" x2="533.19" y2="663.00" stroke="#555" stroke-width="0.8" />
<text x="534.89" y="664.90" font-size="8.7" text-anchor="end" fill="#111" stroke="#111" stroke-width="0.28" transform="rotate(-90 534.89 664.90)" >H23</text>
<line x1="542.84" y1="660.20" x2="542.84" y2="663.00" stroke="#555" stroke-width="0.8" />
<text x="544.54" y="664.90" font-size="8.7" text-anchor="end" fill="#111" stroke="#111" stroke-width="0.28" transform="rotate(-90 544.54 664.90)" >H24</text>
<line x1="552.50" y1="660.20" x2="552.50" y2="663.00" stroke="#555" stroke-width="0.8" />
<text x="554.20" y="664.90" font-size="8.7" text-anchor="end" fill="#111" stroke="#111" stroke-width="0.28" transform="rotate(-90 554.20 664.90)" >H25</text>
<line x1="562.15" y1="660.20" x2="562.15" y2="663.00" stroke="#555" stroke-width="0.8" />
<text x="563.85" y="664.90" font-size="8.7" text-anchor="end" fill="#111" stroke="#111" stroke-width="0.28" transform="rotate(-90 563.85 664.90)" >H26</text>
<line x1="571.80" y1="660.20" x2="571.80" y2="663.00" stroke="#555" stroke-width="0.8" />
<text x="573.50" y="664.90" font-size="8.7" text-anchor="end" fill="#111" stroke="#111" stroke-width="0.28" transform="rotate(-90 573.50 664.90)" >H27</text>
<line x1="581.46" y1="660.20" x2="581.46" y2="663.00" stroke="#555" stroke-width="0.8" />
<text x="583.16" y="664.90" font-size="8.7" text-anchor="end" fill="#111" stroke="#111" stroke-width="0.28" transform="rotate(-90 583.16 664.90)" >H28</text>
<line x1="591.11" y1="660.20" x2="591.11" y2="663.00" stroke="#555" stroke-width="0.8" />
<text x="592.81" y="664.90" font-size="8.7" text-anchor="end" fill="#111" stroke="#111" stroke-width="0.28" transform="rotate(-90 592.81 664.90)" >H29</text>
<line x1="600.77" y1="660.20" x2="600.77" y2="663.00" stroke="#555" stroke-width="0.8" />
<text x="602.47" y="664.90" font-size="8.7" text-anchor="end" fill="#111" stroke="#111" stroke-width="0.28" transform="rotate(-90 602.47 664.90)" >H30</text>
<line x1="610.42" y1="660.20" x2="610.42" y2="663.00" stroke="#555" stroke-width="0.8" />
<text x="612.12" y="664.90" font-size="8.7" text-anchor="end" fill="#111" stroke="#111" stroke-width="0.28" transform="rotate(-90 612.12 664.90)" >H31</text>
<line x1="620.07" y1="660.20" x2="620.07" y2="663.00" stroke="#555" stroke-width="0.8" />
<text x="621.77" y="664.90" font-size="8.7" text-anchor="end" fill="#111" stroke="#111" stroke-width="0.28" transform="rotate(-90 621.77 664.90)" >H32</text>
<line x1="629.73" y1="660.20" x2="629.73" y2="663.00" stroke="#555" stroke-width="0.8" />
<text x="631.43" y="664.90" font-size="8.7" text-anchor="end" fill="#111" stroke="#111" stroke-width="0.28" transform="rotate(-90 631.43 664.90)" >H33</text>
<line x1="639.38" y1="660.20" x2="639.38" y2="663.00" stroke="#555" stroke-width="0.8" />
<text x="641.08" y="664.90" font-size="8.7" text-anchor="end" fill="#111" stroke="#111" stroke-width="0.28" transform="rotate(-90 641.08 664.90)" >H34</text>
<line x1="649.04" y1="660.20" x2="649.04" y2="663.00" stroke="#555" stroke-width="0.8" />
<text x="650.74" y="664.90" font-size="8.7" text-anchor="end" fill="#111" stroke="#111" stroke-width="0.28" transform="rotate(-90 650.74 664.90)" >H35</text>
<line x1="658.69" y1="660.20" x2="658.69" y2="663.00" stroke="#555" stroke-width="0.8" />
<text x="660.39" y="664.90" font-size="8.7" text-anchor="end" fill="#111" stroke="#111" stroke-width="0.28" transform="rotate(-90 660.39 664.90)" >H36</text>
<text x="272.00" y="574.60" font-size="11.4" text-anchor="middle" fill="#111" stroke="#111" stroke-width="0.28" transform="rotate(-90 272.00 574.60)" >Atomic Energy Difference (kcal/mol)</text>
<defs><marker id="mk1" markerWidth="6" markerHeight="6" refX="3" refY="3" markerUnits="userSpaceOnUse" overflow="visible"><circle cx="3" cy="3" r="1.6" fill="none" stroke="#6a0fe6" stroke-width="0.85"/></marker></defs>
<path d="M171.0 900.4 184.2 898.3 239.9 898.3 172.6 901.2 177.8 901.1 187.6 898.1 138.0 899.8 178.3 896.6 192.9 899.3 212.9 890.6 125.6 899.7 152.6 899.7 124.9 899.0 215.0 895.3 200.7 896.2 114.9 899.4 288.8 897.8 270.1 890.4 195.8 898.8 191.1 893.8 134.6 904.4 103.6 900.3 180.3 868.2 118.5 901.7 138.7 900.0 145.0 901.8 112.4 898.2 172.4 901.5 169.5 898.8 219.8 887.2 179.2 899.5 194.1 900.0 176.8 897.6 196.9 899.4 171.6 899.0 149.5 899.4 305.4 897.7 303.3 894.1 219.2 897.1 202.5 899.3 154.1 901.0 143.5 899.7 150.9 900.8 120.7 902.3 209.7 885.3 164.6 900.2 220.8 896.1 162.9 899.2 262.9 896.1 221.0 899.2 66.7 897.8 141.1 899.7 236.5 844.0 173.1 899.4 286.9 898.5 164.2 899.6 121.3 903.5 192.8 896.8 211.2 896.7 148.5 900.5 124.2 900.8 156.2 899.5 269.4 895.5 208.6 900.5 129.8 900.6 145.6 898.7 127.0 901.5 118.6 898.2 213.4 893.9 137.1 900.8 184.2 898.2 170.4 899.7 138.7 901.5 205.4 893.0 131.4 899.8 194.6 900.5 129.6 900.6 167.1 898.0 141.5 899.7 148.5 898.5 276.7 890.5 214.2 895.5 152.7 898.3 230.2 889.6 141.2 900.7 163.8 901.4 222.7 891.0 194.3 874.7 126.9 900.9 296.4 893.3 141.5 899.2 147.1 896.9 210.4 899.8 155.8 900.1 151.7 899.0 121.3 899.8 124.8 899.3 187.0 899.4 145.2 901.7 189.3 898.4 161.0 901.7 171.1 896.6 264.1 882.6 174.8 899.7 186.0 897.5 225.7 895.2 137.8 900.6 134.2 900.4 236.1 895.0 216.0 888.2 146.0 898.4 138.6 900.6 206.4 897.6 244.0 899.5 139.5 903.2 254.5 883.8 229.6 898.9 189.6 898.9 167.2 900.3 127.6 899.2 114.2 901.1 267.9 883.0 144.6 899.9 202.1 897.4 146.9 897.9 216.7 897.4 188.7 900.1 151.4 900.1 136.9 900.8 204.0 894.4 120.4 899.9 143.4 901.0 184.2 899.3 222.2 872.7 190.9 898.1 149.8 900.5 238.3 885.9 140.4 897.9 105.2 900.0 148.4 900.8 170.2 899.0 118.7 899.5 137.0 903.2 160.7 900.2 185.7 898.7 131.4 898.7 159.9 900.0 231.7 896.5 287.0 885.9 196.2 898.4 200.4 896.1 187.3 898.5 132.5 900.5 113.5 901.5 106.5 900.9 236.5 887.9 201.6 893.4 268.0 893.2 110.0 899.7 193.6 898.5 174.7 899.8 205.3 900.4 154.5 901.6 307.2 896.6 121.7 899.6 182.5 900.4 206.1 813.1 234.0 900.5 206.1 897.3 201.9 897.1 213.0 899.0 237.7 890.1 158.6 899.5 199.7 900.2 234.2 893.9 226.9 893.5 166.6 901.5 212.6 877.9 225.0 894.3 185.8 899.4 192.2 899.4 162.3 886.7 187.0 897.8 190.3 898.4 122.7 898.6 194.0 899.6 300.7 884.9 229.0 892.9 205.0 896.7 163.1 900.8 205.8 899.0 186.8 897.6 169.5 866.5 218.8 896.8 123.5 899.2 207.7 896.8 112.4 899.7 189.3 898.9 174.5 900.5 143.6 900.8 201.3 896.9 176.5 855.6 191.0 899.7 239.0 885.7 146.8 900.2 99.8 900.0 152.3 879.0 198.8 898.6 140.2 898.5 136.1 899.3 235.4 889.3 196.6 900.0 169.7 899.3 231.9 892.7 155.5 898.4 197.3 854.7 139.7 898.8 168.3 898.8 214.6 891.9 237.5 897.9 229.1 895.2 162.6 867.5 187.1 898.7 154.2 899.8 132.0 900.8 176.4 899.8 218.5 898.3 221.3 886.2 202.9 898.8 254.3 881.2 149.3 898.4 136.1 898.1 170.8 900.4 149.1 901.0 141.6 899.0 166.2 901.1 192.3 899.3 176.1 898.4 154.1 899.4 219.0 899.4 288.7 883.3 171.0 899.6 121.6 902.2 112.7 901.1 227.3 899.3 114.8 899.9 202.6 895.7 185.5 899.8 153.3 900.1 212.8 892.7 107.8 899.4 132.0 897.1 171.3 898.0 111.3 899.5 217.5 897.1 144.5 900.9 132.6 897.7 115.9 897.4 192.8 898.8 170.3 900.1 192.9 898.0 196.0 898.3 214.7 896.6 263.4 900.0 199.6 899.3 139.8 900.8 173.8 899.4 137.3 899.1 99.2 900.4 173.4 899.2 203.2 897.9 137.3 899.6 148.8 900.4 157.8 900.6 201.2 859.5 179.4 897.2 191.0 897.3 208.4 895.8 163.7 899.8 212.8 869.0 235.5 832.5 124.2 897.7 242.0 900.2 204.2 898.8 131.2 898.4 171.1 898.3 192.3 901.3 236.4 884.8 161.7 899.8 185.3 900.0 228.9 890.8 213.4 892.7 248.2 884.8 172.4 898.4 195.5 899.7 140.5 900.2 204.2 893.9 216.1 900.4 194.3 898.1 203.7 895.6 141.5 898.3 234.0 893.7 287.0 898.9 283.6 883.6 181.4 899.9 212.7 889.2 154.7 899.7 236.4 888.6 223.1 899.0 158.2 900.2 123.3 900.2 169.6 897.8 183.0 865.6 209.9 897.7 175.3 899.3 112.1 901.0 214.9 895.2 119.4 898.7 213.8 894.6 136.5 897.1 156.5 900.0 212.3 899.6 132.5 902.0 133.6 899.3 178.9 900.5 204.4 888.3 219.2 897.4 200.2 883.7 249.8 895.0 175.9 864.0 253.4 882.5 123.9 900.9 142.5 901.4 180.1 899.5 151.0 898.4 205.0 896.3 194.0 829.5 179.7 898.6 220.1 850.8 184.2 897.8 153.6 900.5 162.2 901.3 220.5 897.5 234.1 886.5 140.9 899.7 221.8 893.5 274.1 897.6 179.8 900.1 185.8 876.9 140.0 900.2 181.3 900.2 177.2 899.5 189.8 896.0 112.0 899.4 275.1 880.2 178.8 899.9 164.6 900.1 213.9 891.1 184.6 899.3 175.7 898.7 200.4 887.6 119.8 900.0 181.6 898.6 166.2 898.5 261.7 869.0 239.7 873.4 148.4 899.0 173.5 898.3 130.9 896.7 168.7 899.2 215.8 898.2 234.1 889.9 174.0 900.0 154.3 879.7 138.8 791.4 191.4 900.3 240.2 892.7 131.2 901.5 211.3 895.4 110.9 903.4 139.2 899.9 143.2 900.7 199.9 898.8 154.9 898.7 159.0 900.0 191.6 896.1 127.8 899.4 205.3 897.3 130.4 898.0 178.1 899.5 146.1 898.1 139.6 903.2 180.6 899.1 169.1 899.8 161.5 897.3 166.2 898.1 180.5 898.7 134.9 897.6 140.4 899.9 193.0 895.0 193.9 899.8 180.5 860.2 222.0 900.2 190.6 899.6 223.3 894.0 143.9 900.9 206.5 896.6 215.1 891.7 234.6 897.7 154.2 901.6 154.0 898.2 239.6 894.2 142.1 899.8 306.1 882.4 230.9 891.3 131.7 900.0 144.7 898.1 204.8 898.8 147.2 899.7 126.2 902.0 217.8 888.1 167.2 901.0 212.6 896.8 130.8 899.6 164.9 901.1 199.7 881.6 106.4 900.7 140.0 901.7 199.3 898.0 236.8 894.2 274.0 897.3 129.5 897.5 177.5 899.4 208.7 899.5 177.2 891.3 199.7 897.0 138.5 899.3 120.7 896.9 128.1 899.1 113.9 898.7 183.2 897.4 178.7 897.4 185.3 898.4 133.3 900.3 138.0 898.3 140.4 877.3 219.2 892.4 297.5 891.7 240.6 899.7 125.8 902.3 119.0 883.5 255.9 884.7 172.2 900.0 209.5 895.1 155.5 900.1 172.8 901.4 178.7 901.2 168.2 899.5 189.3 858.3 101.8 898.9 201.6 898.2 220.2 897.5 137.6 899.3 171.2 898.2 206.3 897.5 165.2 899.1 139.3 899.6 135.6 897.7 178.4 899.1 104.0 897.5 232.3 898.3 214.0 888.8 202.1 894.3 224.3 890.6 192.8 895.6 165.1 899.3 189.1 876.0 177.4 900.8 289.3 891.9 214.4 896.7 147.1 900.3 236.8 884.3 207.0 894.6 211.1 898.3 215.6 891.9 165.2 900.9 233.1 894.7 229.0 879.3 200.9 898.1 209.8 895.2 209.5 898.8 165.2 901.1 204.3 900.0 120.7 900.6 157.3 901.3 173.0 900.2 99.0 899.9 159.1 899.3 193.9 898.4 192.1 898.5 143.8 900.8 248.6 892.6 197.3 876.3 156.9 901.6 196.5 898.5 185.4 897.8 180.9 899.2 163.2 871.9 307.8 882.5 194.4 900.5 201.6 898.3 209.1 899.0 286.6 893.6 110.9 899.5 191.1 898.3 206.3 897.2 146.9 902.0 164.7 901.1 116.6 900.2 139.3 900.3 161.5 900.1 126.5 902.4 146.2 901.3 235.4 894.8 183.0 896.4 177.8 897.3 272.7 888.0 185.2 897.4 302.7 897.2 193.9 895.5 215.0 893.9 121.9 899.5 188.9 898.9 208.8 894.4 115.5 899.1 241.4 893.8 134.9 897.8 173.4 900.4 136.1 898.2 176.3 872.3 190.5 898.8 118.3 898.9 249.3 898.4 167.1 900.5 180.1 899.0 188.9 897.4 160.3 901.6 150.4 899.1 196.0 897.3 184.3 896.4 150.2 901.7 203.5 899.5 151.7 900.2 102.6 898.7 145.4 902.2 115.0 899.5 134.5 900.8 208.2 893.3 163.3 900.0 233.4 890.5 207.5 891.5 116.6 901.1 295.9 890.0 248.4 885.5 121.4 899.6 235.3 895.7 168.2 899.2 174.1 900.2 279.1 896.6 145.3 903.0 179.7 899.7 243.2 884.6 204.3 898.4 172.9 900.7 285.2 875.7 215.9 892.3 189.6 899.4 129.4 883.0 192.2 895.6 171.4 898.2 140.3 899.6 116.9 898.6 180.3 900.0 130.6 901.7 169.8 898.1 197.5 897.6 171.4 900.1 147.5 901.6 187.0 898.2 166.9 899.3 211.1 898.9 180.6 900.4 305.4 897.9 257.1 896.1 205.7 898.8 144.6 898.9 129.3 901.0 232.2 882.2 211.9 893.2 192.2 898.4 159.5 900.7 148.7 901.8 199.6 895.4 184.8 898.1 188.1 898.6 193.2 898.9 208.1 893.4 138.6 900.5 145.9 897.7 286.2 867.6 237.8 895.5 228.7 889.9 114.4 899.3 118.7 900.1 148.6 898.9 167.6 898.9 192.0 824.3 127.3 899.9 182.0 898.0 121.1 900.5 124.0 900.0 198.6 898.4 183.1 899.3 193.0 896.9 161.2 899.0 174.2 897.2 141.2 900.3 157.6 898.0 207.0 895.7 218.8 896.4 121.5 901.7 130.0 901.3 214.9 894.8 192.1 897.8 210.0 893.8 141.5 898.5 167.5 899.7 147.0 897.8 215.0 891.5 160.7 899.3 195.8 890.5 296.3 889.3 155.3 900.1 182.8 898.5 207.2 898.1 239.1 888.5 167.9 901.7 160.7 898.5 126.2 902.1 227.9 861.8 122.4 901.8 123.3 902.2 184.8 898.0 175.0 898.7 199.7 898.9 152.1 901.3 210.8 897.2 121.9 896.5 141.5 900.6 196.8 898.6 123.0 898.2 152.7 898.2 204.6 898.0 200.8 899.8 150.1 881.7 132.8 900.1 159.3 897.5 204.7 896.6 160.4 897.1 129.7 900.2 202.6 894.0 185.4 898.6 238.5 896.7 243.8 899.3 237.3 885.8 169.2 899.3 214.2 896.5 152.8 899.9 154.4 899.1 164.5 902.5 242.5 888.0 232.7 889.1 145.8 900.2 159.8 901.1 160.3 899.2 160.0 902.9 164.0 898.9 163.0 901.2 139.3 899.4 184.7 900.6 213.5 890.1 181.8 900.2 218.3 897.8 184.6 899.3 137.0 897.6 208.8 894.6 229.3 900.1 149.9 898.1 110.8 899.2 178.8 899.3 182.3 877.0 185.2 899.8 271.9 896.2 195.5 898.2 214.3 887.6 119.4 899.5 182.6 890.9 212.3 897.2 123.5 900.9 123.0 899.2 206.1 875.2 233.7 897.5 123.7 901.5 193.4 894.6 133.0 897.5 207.1 897.2 195.2 897.2 145.5 854.1 142.4 900.3 209.5 896.5 179.5 899.8 209.5 896.8 163.8 899.3 156.9 899.1 273.9 896.7 198.1 899.4 176.1 899.3 181.4 866.1 204.1 898.1 202.5 897.6 237.7 889.1 165.8 899.4 217.0 890.4 197.4 899.4 222.5 900.2 214.5 897.2 218.0 900.2 231.2 877.2 262.7 886.2 194.1 860.7 179.8 900.0 202.7 842.0 214.1 886.0 167.2 897.7 167.0 883.3 133.2 899.5 206.6 794.2 298.3 890.0 161.5 901.2 135.9 901.3 140.4 899.3 167.6 898.8 151.2 899.2 275.5 859.2 118.4 901.2 153.2 899.5 129.4 901.7 195.1 899.4 210.8 892.1 137.3 899.2 119.1 900.0 171.8 899.3 187.2 900.5 236.3 891.4 113.7 900.3 128.6 900.0 138.0 900.6 142.0 899.4 144.2 900.2 203.6 895.2 188.5 900.2 142.8 899.8 138.0 901.8 149.9 901.4 136.5 900.4 208.6 884.4 153.6 900.3 182.8 898.6 215.9 896.6 174.3 848.7 147.3 900.2 230.9 899.5 237.5 898.8 157.4 899.1 182.7 899.5 261.8 868.4 174.7 899.9 142.5 901.7 116.5 900.9 251.7 849.4 214.0 892.6 162.7 900.2 180.2 897.2 178.8 899.4 149.1 898.9 297.4 896.2 196.3 893.7 144.5 898.4 99.3 899.1 173.5 900.0 161.0 896.6 213.4 897.0 203.1 900.7 189.9 895.7 134.6 900.3 134.6 898.7 154.9 901.0 147.2 899.3 226.4 859.7 178.8 899.6 193.7 897.2 300.5 898.1 148.1 899.1 181.1 897.4 133.8 899.5 210.2 899.3 79.3 899.1 216.5 895.2 220.7 895.8 216.5 900.0 123.2 901.1 148.5 900.5 203.5 893.8 126.2 899.8 174.4 898.9 173.0 899.4 260.2 898.2 187.5 870.5 223.5 895.7 152.6 897.5 212.5 899.9 166.6 899.4 238.1 893.2 124.9 897.2 217.1 899.4 140.9 897.5 182.2 884.8 180.0 900.8 134.6 900.0 217.8 892.4 153.6 899.3 153.5 893.3 121.9 898.1 152.9 901.1 172.8 899.3 203.4 899.2 159.6 901.9 199.9 896.8 128.0 900.5 163.8 880.3 172.1 901.2 272.4 881.7 217.5 887.3 195.8 899.6 100.8 900.0 161.7 898.7 202.7 898.2 144.5 897.0 184.7 900.5 171.7 898.9 98.9 900.7 298.9 890.2 213.7 900.1 140.7 900.2 191.1 895.8 151.0 899.5 161.6 899.4 181.7 898.3 152.0 899.6 156.8 902.2 163.6 900.0 197.4 898.5 146.8 896.7 139.9 897.8 205.4 895.1 155.8 901.5 249.0 894.5 184.6 901.1 204.4 892.8 156.1 899.8 217.1 899.4 125.2 899.9 132.6 901.6 125.6 900.0 198.7 895.9 202.5 891.2 137.4 899.4 164.8 898.7 218.4 896.8 188.3 898.4 124.8 903.6 143.2 900.7 134.6 900.4 130.5 899.5 165.4 902.1 121.2 900.1 239.1 893.8 167.9 898.6 178.3 900.4 195.0 899.9 209.7 898.6 216.4 893.2 162.8 900.0 156.1 901.7 166.0 898.0 104.0 898.8 164.6 899.8 201.5 899.8 288.6 883.7 212.5 892.9 196.6 896.9 190.2 898.2 107.2 898.0 156.0 897.2 157.4 901.1 195.4 898.9 128.1 901.3 161.8 900.1 178.0 899.4 212.4 891.1 216.9 873.8 190.6 875.8 134.7 902.5 209.7 900.2 234.7 898.4 182.8 897.9 158.7 899.6 176.9 900.5 132.7 900.4 203.1 900.2 293.7 893.3 178.8 898.5 203.4 895.0 218.2 890.6 139.5 901.1 248.8 896.1 192.5 826.3 139.6 898.9 123.4 900.2 145.4 898.2 186.3 899.0 201.1 888.9 155.8 898.9 241.1 888.4 159.7 899.7 172.3 862.0 130.5 900.0 279.6 885.1 131.9 901.0 235.0 893.5 182.2 898.7 184.3 899.2 184.3 900.1 147.8 900.7 236.3 894.2 299.5 872.7 216.0 892.4 189.4 841.3 130.3 897.7 216.9 898.1 150.8 897.4 233.2 897.4 144.9 898.7 185.9 900.1 217.6 895.2 138.1 898.9 182.7 897.5 121.9 898.3 112.8 901.3 137.4 897.5 294.0 890.0 243.7 897.9 196.4 894.1 153.1 899.0 197.9 895.7 206.1 889.4 162.3 899.2 188.2 897.9 214.3 880.6 105.0 900.5 139.8 901.6 172.9 899.1 132.9 901.3 162.8 871.9 185.4 895.4 136.6 898.5 179.3 897.5 147.7 899.5 185.2 901.1 156.2 900.4 194.3 898.2 114.0 902.2 197.9 896.0 133.1 889.9 264.3 896.0 189.2 865.6 173.1 852.9 165.9 901.9 192.1 895.4 200.2 896.9 208.6 897.4 207.9 892.9 175.1 897.9 302.1 900.2 218.8 897.9 222.9 834.1 165.6 900.4 168.7 900.7 185.0 898.6 235.3 892.6 180.0 896.5 179.9 850.8 168.5 901.5 235.0 869.2 154.8 900.9 117.5 899.3 204.6 896.3 234.0 887.8 205.4 899.6 188.9 817.7 207.9 881.1 152.8 901.0 188.4 890.1 120.6 901.5 130.6 899.5 170.3 898.8 177.2 899.4 164.1 898.9 116.9 899.9 200.9 897.2 180.1 898.7 144.7 883.4 153.0 899.4 164.0 897.2 144.3 900.2 120.3 899.7 236.8 889.9 272.0 898.2 197.3 897.7 225.7 892.8 167.2 900.6 214.5 899.3 142.6 899.5 207.2 897.2 185.1 899.5 234.8 897.5 126.5 898.0 212.9 894.7 130.5 902.2 181.5 898.7 255.4 891.8 67.2 899.0 145.3 901.0 152.1 900.2 155.3 900.9 119.1 873.8 232.8 897.5 215.7 898.5 164.2 900.3 159.2 901.0 187.4 899.7 115.7 901.0 112.7 898.7 233.6 895.7 153.2 897.3 176.7 897.4 242.3 894.3 283.6 892.8 173.5 899.0 140.7 900.9 151.6 866.6 239.6 882.1 233.2 900.2 139.3 898.9 218.7 893.9 158.9 899.9 173.5 900.9 136.4 899.8 229.0 894.5 303.0 889.2 140.1 899.5 193.2 899.5 138.8 900.2 229.1 900.3 116.5 897.6 128.0 899.4 204.7 899.0 153.8 900.7 234.1 885.8 226.5 898.7 203.1 892.7 131.9 898.3 201.0 900.4 243.3 890.8 170.1 897.8 122.5 901.4 142.7 898.7 153.1 901.9 202.8 900.2 139.4 898.1 137.5 900.4 144.2 898.6 197.1 896.9 212.6 898.6 161.1 898.2 196.8 897.2 230.1 875.9 187.9 899.6 143.5 900.5 152.3 900.0 240.6 897.1 197.4 898.3 149.3 889.1 194.1 900.7 124.7 899.2 289.7 892.6 169.5 899.7 180.3 898.8 180.6 898.9 115.6 901.5 189.1 898.4 150.3 901.2 146.2 900.8 214.2 899.5 124.2 898.5 150.4 900.3 208.4 896.0 145.5 899.5 149.6 899.7 182.8 899.9 138.2 899.2 233.2 895.7 294.8 880.8 113.2 899.4 172.1 871.9 207.7 897.3 162.6 882.2 241.2 894.4 176.8 901.0 137.4 902.0 183.7 869.9 194.7 898.8 159.5 898.7 196.3 894.2 211.7 892.0 178.9 898.9 177.5 900.6 220.5 893.8 199.6 899.9 179.4 897.9 256.0 895.9 136.7 900.4 211.3 892.1 135.6 900.6 190.2 895.3 144.2 899.4 169.5 899.0 210.5 899.0 212.2 890.3 212.7 899.6 144.3 897.3 175.5 861.9 142.5 901.4 186.7 853.5 176.7 899.2 113.5 899.6 188.8 897.9 203.3 899.9 185.8 896.6 227.3 893.1 137.4 899.6 133.9 900.0 106.4 898.4 176.4 901.1 168.8 897.1 169.7 901.7 147.6 898.3 213.6 896.8 121.2 898.9 235.8 894.1 185.3 897.6 182.2 899.1 212.8 898.3 144.6 899.9 133.3 898.7 153.6 899.1 114.9 899.8 154.0 887.1 191.8 895.8 180.0 898.9 147.9 900.1 187.8 898.1 124.4 900.8 216.3 897.5 136.4 902.3 146.6 894.1 134.9 901.3 200.3 898.0 217.6 892.6 212.2 868.9 118.8 899.7 165.8 899.0 160.1 900.4 141.9 899.7 276.3 895.4 114.9 900.2 175.6 899.2 209.0 898.9 293.1 889.3 133.1 898.8 171.3 901.9 207.0 895.9 114.3 900.1 144.9 899.4 231.5 895.2 132.7 896.3 163.7 899.5 152.0 902.1 167.5 898.4 122.0 900.7 113.3 897.1 303.7 884.4 209.3 891.9 205.7 899.3 143.6 900.1 146.4 899.9 183.2 900.5 145.0 899.4 172.1 900.5 242.0 891.7 160.1 884.5 156.8 854.8 287.8 899.2 190.5 898.7 114.4 899.6 164.9 898.0 195.3 897.2 118.3 901.1 157.5 900.2 200.8 898.7 225.2 882.9 188.0 879.6 230.6 898.1 172.2 899.1 163.7 895.6 219.9 825.3 162.2 898.4 211.5 898.2 141.8 899.1 158.0 897.1 137.9 899.4 183.0 897.2 135.4 901.2 140.3 898.1 141.7 897.9 172.9 898.8 153.3 900.6 170.3 900.6 300.7 888.3 198.9 846.1 224.8 888.1 140.4 899.1 162.4 899.6 121.2 899.7 200.4 899.5 159.9 899.7 149.1 897.7 107.2 899.0 137.7 901.0 147.6 899.8 163.7 900.6 239.8 899.1 203.4 894.4 148.3 898.1 159.7 899.5 134.2 899.4 243.0 898.3 159.6 901.5 209.6 894.7 204.4 898.3 235.7 888.4 109.1 901.4 154.9 900.4 162.6 899.9 123.3 901.3 229.6 881.4 155.3 898.4 210.2 898.8 179.2 889.1 117.5 899.3 163.8 891.6 144.6 900.7 114.6 901.6 133.8 898.6 188.6 896.9 112.8 898.9 153.7 898.5 167.5 900.9 182.3 900.9 132.0 900.0 202.3 878.7 147.3 901.1 204.6 895.2 197.3 895.3 133.4 900.3 140.5 900.6 149.8 898.0 203.1 893.6 165.2 899.3 162.9 898.7 225.6 896.6 143.1 898.4 151.2 901.7 157.7 899.8 141.8 899.5 114.6 900.9 111.3 899.9 192.9 896.3 185.0 899.6 214.9 897.3 281.8 897.4 152.0 899.0 197.9 892.4 238.7 891.8 141.9 897.9 200.2 896.9 197.4 896.9 259.8 882.5 226.2 895.3 144.1 899.3 193.2 893.4 124.7 900.5 167.9 897.8 163.6 900.2 118.6 898.1 162.5 899.9 155.7 897.2 176.5 897.2 149.7 898.9 134.8 900.2 164.8 899.2 173.8 898.8 135.8 902.1 197.2 898.4 144.8 900.6 125.4 877.5 157.4 900.6 167.3 900.2 133.8 901.2 187.0 899.5 201.7 894.4 183.4 899.1 201.5 896.3 111.0 897.0 163.5 901.3 160.1 900.7 119.2 900.6 165.1 900.0 117.5 897.9 176.3 899.5 187.4 898.8 173.0 898.9 155.3 898.1 146.5 900.7 111.1 900.2 158.0 898.3 231.9 895.7 184.9 898.4 147.5 900.8 197.6 897.2 138.2 900.0 173.1 898.4 191.1 897.4 259.3 896.0 159.9 900.7 186.2 899.5 246.2 898.5 210.3 893.2 192.5 896.7 191.7 882.7 165.9 900.4 166.4 898.1 149.3 900.5 217.5 887.9 229.0 890.2 162.3 900.5 236.3 872.9 114.1 902.8 132.0 899.9 177.7 899.8 153.3 897.6 159.6 899.6 283.2 893.7 133.7 899.8 138.9 901.5 143.4 899.3 199.0 895.5 144.1 900.4 72.6 899.5 182.2 879.5 163.8 860.6 144.7 899.2 176.1 890.3 195.4 895.7 182.8 898.3 192.2 899.6 184.3 901.0 217.6 895.0 274.5 886.2 156.3 898.7 158.0 899.7 230.6 899.9 153.8 899.2 203.5 900.4 200.9 898.4 199.8 893.3 269.2 877.3 216.8 858.7 134.9 899.3 191.8 898.8 175.7 897.1 184.7 899.7 160.8 900.5 150.4 902.4 207.5 896.3 181.0 899.5 144.4 899.9 146.0 901.9 155.3 900.0 137.1 897.9 178.5 899.9 130.8 898.7 119.2 898.6 120.4 900.9 127.3 901.6 202.1 893.9 129.1 900.2 170.9 898.8 210.4 896.9 174.5 899.4 135.3 901.5 225.7 889.8 226.5 890.4 117.2 899.5 146.5 899.3 177.8 898.7 213.4 866.1 163.6 900.1 203.5 900.0 146.3 900.6 203.4 898.1 155.5 902.0 156.4 901.9 208.8 898.1 219.9 889.7 217.3 898.2 185.2 899.4 167.1 899.7 202.3 900.7 192.0 843.9 217.6 898.1 214.0 833.1 130.7 901.3 161.7 901.1 197.7 898.7 143.7 901.3 138.0 902.7 102.3 899.7 187.4 898.7 244.7 897.7 276.2 886.7 131.7 897.4 200.0 896.2 166.9 897.8 193.0 898.1 164.1 899.6 242.2 886.7 295.9 891.0 116.3 897.0 203.1 899.0 129.8 899.7 115.0 901.4 150.5 898.1 205.3 897.2 301.1 899.2 130.0 901.5 155.9 900.7 111.7 901.7 182.1 900.3 174.8 900.4 161.3 899.6 153.3 868.8 213.9 894.4 218.9 899.4 150.2 896.7 163.5 900.0 191.4 893.5 209.5 900.1 287.5 896.9 163.2 899.8 200.8 893.5 182.5 899.5 213.8 899.8 133.3 901.6 136.8 900.1 128.3 897.8 242.2 897.3 146.2 898.8 175.4 898.4 130.1 898.8 155.1 898.4 107.9 900.7 185.0 894.3 132.9 900.5 192.3 899.4 149.0 899.9 143.3 900.0 174.7 899.4 160.3 899.8 147.2 899.9 116.8 898.2 119.5 899.7 232.2 871.9 153.4 901.3 122.4 897.8 137.7 898.8 174.8 899.1 304.9 881.1 140.2 902.1 225.9 891.0 174.9 898.6 166.3 898.9 214.7 838.5 164.0 901.0 118.1 901.0 183.1 898.7 196.2 900.1 192.0 901.0 149.4 897.5 243.6 894.6 225.2 888.2 301.8 884.4 169.8 898.1 218.0 886.8 204.6 893.0 136.9 899.2 111.8 899.8 136.0 899.2 129.9 899.6 121.6 798.6 159.5 897.5 208.1 896.1 153.4 896.9 178.6 898.9 98.9 898.3 141.1 898.7 264.3 887.2 99.5 900.7 180.2 885.0 215.1 899.2 212.9 895.4 205.9 893.9 164.4 901.1 214.2 895.2 217.2 898.5 209.8 894.8 292.8 899.7 127.0 899.1 254.7 881.5 164.8 900.6 202.1 762.0 146.1 899.1 236.4 898.9 111.1 898.6 186.3 899.0 143.2 899.1 163.1 898.8 160.7 899.3 196.2 899.2 215.1 897.6 160.2 900.3 193.9 900.7 158.9 881.4 149.6 899.4 235.2 871.9 154.9 899.3 125.6 900.9 156.5 898.9 206.6 887.4 141.3 903.1 206.8 894.7 182.5 898.6 199.1 817.5 137.1 898.6 128.0 901.6 132.8 901.2 158.4 898.2 168.3 898.2 97.9 900.0 177.2 899.1 164.9 888.4 154.9 901.0 181.4 897.4 256.8 884.3 140.5 851.7 229.2 889.7 154.8 899.1 208.2 897.1 128.5 901.0 294.5 885.4 168.2 898.7 267.9 875.3 142.3 835.7 165.5 898.4 202.2 897.9 137.1 899.4 148.9 900.7 198.7 895.5 251.8 886.3 154.9 900.3 137.8 900.6 159.2 900.5 296.6 892.0 133.5 898.8 193.4 899.5 161.8 899.9 194.6 896.6 141.4 889.5 191.2 898.6 230.9 893.0 223.2 884.0 192.7 895.7 177.4 900.3 185.2 899.3 129.3 901.1 218.6 879.3 200.2 896.0 171.1 871.7 197.2 899.1 166.9 898.4 162.6 899.2 143.6 899.1 189.3 897.6 185.8 898.8 178.7 898.6 112.9 898.6 192.5 899.9 170.3 899.3 188.4 898.1 188.5 898.1 241.8 888.0 134.0 899.0 173.0 899.8 300.3 899.4 206.2 893.0 153.8 899.9 206.0 892.3 296.6 897.9 164.8 898.1 226.0 894.5 130.8 903.2 297.3 893.9 175.7 900.0 144.1 900.7 219.2 897.3 195.2 876.6 243.3 895.6 217.4 896.7 213.5 888.8 178.3 900.5 301.1 877.5 119.6 900.8 226.6 886.9 202.9 899.8 146.1 900.3 214.7 892.3 171.2 900.5 181.3 899.3 225.5 898.4 139.4 897.9 149.7 900.6 194.6 899.5 121.4 899.5 183.6 898.5 212.2 899.9 175.7 899.5 145.0 899.3 213.8 889.2 222.9 895.9 210.2 894.2 182.9 899.5 235.4 797.7 213.4 899.9 133.9 900.4 160.3 900.8 126.9 897.3 113.8 902.0 157.8 828.8 225.3 897.6 218.0 889.1 129.7 898.3 137.6 899.6 163.1 898.3 221.5 890.7 191.3 898.0 234.4 893.8 121.0 900.3 294.9 895.3 140.7 901.6 192.8 900.9 228.2 895.8 204.9 895.8 139.5 897.0 197.6 897.5 168.3 847.4 103.9 898.6 157.1 880.1 154.1 899.7 192.8 899.9 149.6 899.5 189.5 899.5 200.9 895.4 137.5 901.8 131.0 899.1 200.7 898.7 172.7 898.2 131.1 902.0 129.5 900.4 244.7 891.1 190.4 896.5 159.3 899.4 139.4 901.2 302.4 893.0 200.5 900.0 206.0 897.0 159.6 898.7 153.5 897.5 165.5 898.1 133.3 901.6 193.0 897.6 167.6 900.3 216.3 893.0 165.6 898.4 171.5 898.8 177.6 897.9 245.4 900.3 157.9 900.6 201.9 895.2 144.2 900.2 186.6 899.1 150.3 899.4 227.2 870.7 150.5 900.1 222.8 886.8 198.6 898.6 171.3 900.7 242.3 892.1 163.0 897.8 206.8 890.7 189.3 899.7 170.5 900.2 119.4 902.1 166.9 859.1 149.9 900.0 169.6 899.6 259.2 893.0 151.3 899.0 200.9 882.4 198.0 899.6 145.4 899.2 165.9 900.4 131.5 899.4 232.8 840.7 146.2 901.3 167.1 898.0 157.3 900.2 216.3 900.4 221.7 898.5 188.0 899.3 182.5 899.6 126.7 898.4 233.1 896.2 124.4 899.2 160.0 856.3 161.4 898.8 204.3 894.7 197.7 899.3 157.6 900.6 233.5 898.7 254.0 899.9 111.0 901.9 193.2 895.8 173.1 899.1 159.8 901.2 172.5 898.4 154.2 900.2 197.9 898.6 189.9 897.2 276.2 895.5 282.7 895.4 300.0 897.3 163.9 901.9 217.3 897.6 195.3 900.6 201.6 896.1 305.4 895.0 119.9 884.3 172.2 899.1 164.7 901.6 196.1 899.2 142.1 899.4 296.9 888.3 141.0 900.6 160.8 898.9 132.9 900.6 163.9 900.4 206.6 894.3 123.4 899.5 135.8 901.3 195.2 897.4 192.0 896.4 206.7 893.8 146.5 898.4 215.2 897.7 205.3 884.7 210.9 900.1 130.0 899.8 173.0 899.3 104.4 901.4 224.0 895.4 248.5 896.0 232.9 899.9 111.2 899.3 158.5 899.4 181.3 898.2 181.0 897.8 128.9 901.0 212.5 900.4 152.4 899.1 177.7 899.3 130.6 900.6 185.2 898.8 131.2 898.4 124.4 900.7 178.4 899.8 151.5 899.6 211.0 896.4 145.6 834.3 166.2 901.7 117.4 899.6 142.1 901.7 170.9 900.1 184.0 897.2 171.8 898.9 221.8 897.8 127.7 898.9 221.7 900.4 134.3 901.5 276.1 891.0 179.9 900.9 165.3 899.6 190.7 898.6 225.1 894.3 269.1 894.3 166.2 899.6 99.2 898.0 134.2 898.5 216.1 896.4 205.7 897.5 203.0 898.1 134.5 901.1 180.7 899.5 112.1 898.6 128.8 898.3 152.3 864.7 271.7 896.7 194.5 899.7 221.1 853.3 115.7 900.6 166.5 900.1 122.3 901.4 147.4 900.5 129.0 898.8 238.6 890.3 155.7 900.9 175.5 880.0 195.8 897.9 230.7 892.3 250.5 889.6 185.2 897.5 177.0 898.8 234.9 890.5 163.8 899.1 152.1 833.1 206.3 770.6 147.1 898.5 160.6 898.8 168.1 898.5 174.0 900.3 159.4 897.2 168.3 897.8 170.8 898.7 116.4 898.1 218.2 897.2 118.9 898.7 180.3 897.1 182.7 898.2 164.5 899.9 142.7 900.1 126.6 897.3 161.1 901.0 154.0 899.0 174.9 900.9 143.6 899.8 207.6 895.9 175.3 900.5 97.4 900.0 165.3 899.9 271.8 885.9 95.4 900.0 188.4 898.7 265.9 882.7 160.3 900.5 188.9 896.4 160.7 899.4 152.3 900.2 190.3 899.9 187.9 897.5 154.1 901.0 176.6 898.2 178.8 900.4 208.1 898.5 117.2 898.5 125.3 898.5 146.3 900.7 148.5 901.2 213.3 899.5 167.7 897.5 224.1 878.3 164.8 900.8 150.4 902.4 199.0 899.2 123.8 897.8 290.9 879.7 217.7 895.0 155.7 899.6 154.3 901.4 216.2 890.9 212.4 897.8 194.4 898.5 117.9 897.6 209.3 898.1 116.1 899.7 192.2 898.7 183.3 900.7 240.7 875.5 193.9 899.6 110.8 899.6 242.4 884.0 208.0 894.5 186.7 899.7 93.9 903.8 206.0 876.1 166.8 897.6 199.0 893.1 290.4 890.5 238.1 897.2 121.7 899.6 211.5 896.7 169.5 900.4 207.8 891.6 161.8 898.3 170.4 899.7 169.1 898.8 129.8 899.1 154.7 899.5 205.8 893.0 120.9 900.1 129.5 900.0 218.0 894.1 197.3 880.8 182.8 899.3 129.2 899.4 129.8 899.4 153.4 898.8 258.5 883.2 184.3 896.3 239.5 892.0 141.3 884.0 166.4 900.7 181.3 877.6 219.0 896.2 130.4 899.2 227.5 889.4 173.4 899.4 112.7 898.9 168.5 899.9 161.8 899.2 198.3 898.5 240.9 894.1 176.1 897.8 200.2 732.9 163.0 901.2 211.2 892.8 127.9 898.7 206.7 897.1 135.8 899.8 187.4 898.8 140.1 899.3 157.9 899.5 135.4 898.5 158.3 893.2 188.1 900.6 179.3 899.5 163.1 897.4 186.0 898.5 219.8 890.8 159.4 902.1 187.2 896.7 174.4 900.6 287.1 890.5 155.7 901.1 201.2 900.5 144.0 897.6 147.4 900.8 205.2 861.5 186.1 899.6 146.9 896.9 119.4 900.9 216.9 892.8 161.8 899.0 203.5 897.6 168.6 898.9 191.3 897.6 184.2 899.3 281.9 887.9 236.3 887.7 171.4 899.6 175.2 899.0 143.7 899.8 208.0 900.0 127.3 899.4 153.0 899.4 221.0 892.7 113.5 899.5 201.3 893.0 185.2 898.5 183.2 897.2 156.3 900.3 133.9 895.7 255.2 898.6 209.5 899.6 214.5 895.4 126.3 901.3 211.9 895.0 142.2 900.1 139.8 891.5 181.2 900.3 190.4 899.5 130.1 900.3 209.5 894.7 187.0 899.9 233.8 899.8 239.9 899.2 200.2 898.4 160.1 900.5 255.4 872.5 203.8 893.1 151.1 898.9 223.5 899.2 204.8 896.4 147.9 901.8 145.9 902.0 109.0 899.1 181.4 900.0 146.5 899.5 151.3 901.3 146.4 901.4 131.4 899.0 175.0 899.5 148.8 899.7 150.4 899.4 149.4 899.9 178.0 898.8 227.5 896.6 135.0 898.6 224.0 888.5 222.8 889.3 190.3 899.7 182.2 890.8 205.7 891.6 181.1 899.9 196.6 891.0 238.7 866.7 210.8 899.1 147.3 900.8 117.4 901.8 243.0 896.5 159.9 900.0 212.2 883.5 144.0 899.3 171.0 868.3 160.9 898.6 205.1 892.1 247.5 898.7 177.5 898.9 185.0 841.7 158.2 898.3 143.8 900.3 254.2 894.1 128.8 899.5 244.1 889.9 196.2 896.7 121.0 900.0 234.4 898.2 127.2 896.2 184.9 896.0 130.0 903.0 295.9 897.4 153.4 901.2 227.1 889.0 118.9 901.0 197.3 878.9 120.2 898.8 112.4 902.1 185.6 898.6 289.5 890.9 199.7 895.2 223.0 890.8 211.9 893.8 179.5 900.4 122.1 898.6 180.2 899.2 138.0 901.9 180.1 898.7 158.9 868.8 176.7 898.2 139.6 898.4 202.1 899.0 166.7 898.6 175.1 898.2 122.4 897.0 175.2 898.6 183.9 898.2 278.5 900.5 184.4 900.6 131.9 900.8 152.2 880.3 156.6 901.2 201.7 899.0 243.6 890.8 282.2 895.6 254.3 891.4 240.2 889.2 223.8 896.3 242.6 895.4 108.9 899.9 175.6 883.1 188.0 891.3 199.7 898.1 190.7 900.7 190.8 898.8 242.2 894.3 124.0 899.3 179.2 899.9 264.5 879.5 112.8 900.1 129.0 900.2 226.3 894.7 262.0 877.8 111.2 901.8 112.8 900.4 217.5 897.1 200.1 894.4 179.3 898.3 186.7 898.4 208.6 895.2 214.8 896.6 68.8 900.2 120.2 899.2 213.1 890.2 281.5 866.8 217.9 899.1 165.5 899.7 156.6 898.7 158.0 900.9 103.5 899.8 210.1 896.1 147.6 900.4 187.4 898.8 180.1 899.4 156.6 897.0 198.4 897.6 171.3 900.2 144.1 901.6 229.5 899.4 136.9 901.7 133.7 899.2 146.5 896.9 174.3 900.1 211.8 898.9 156.3 896.8 144.6 898.9 195.9 896.4 147.3 899.1 179.7 899.4 146.6 902.1 228.3 883.5 138.0 902.5 143.8 899.3 152.4 901.4 155.8 898.2 204.8 896.4 198.3 891.2 212.6 884.7 181.8 899.8 122.4 899.0 209.3 897.7 145.4 897.6 142.1 897.5 166.3 899.2 297.0 892.3 160.9 881.9 159.2 900.1 236.7 879.5 297.7 898.8 162.9 899.9 131.9 899.3 212.5 898.4 211.6 897.2 156.9 901.2 212.6 898.7 162.0 899.9 150.6 900.7 188.3 899.7 206.6 892.9 173.9 873.2 216.1 894.2 102.4 899.3 176.7 897.5 162.1 899.6 119.6 900.0 237.6 897.9 132.9 899.2 140.6 898.5 228.6 882.4 265.6 894.5 241.7 894.3 157.4 899.7 241.5 894.6 132.7 900.4 203.3 897.1 249.6 892.3 139.0 898.8 132.0 898.4 198.8 885.5 229.7 894.5 204.8 896.2 253.5 899.5 171.1 901.5 161.1 900.1 130.0 899.1 148.9 900.3 243.6 898.1 121.0 897.6 138.0 899.9 158.1 900.9 116.4 899.2 153.1 899.4 137.8 900.9 130.4 900.5 180.2 900.7 181.8 899.7 185.2 899.3 209.2 899.1 180.1 900.6 251.2 873.1 123.0 898.9 142.7 898.9 122.0 901.4 153.4 898.6 209.0 897.8 239.9 879.9 177.3 898.2 135.0 900.3 156.0 896.6 185.3 899.5 151.5 901.8 212.9 899.6 278.5 887.3 171.9 900.8 189.6 898.3 220.7 898.7 172.5 901.1 138.7 900.4 248.0 886.1 284.2 891.2 111.3 901.4 209.2 871.2 164.6 897.6 116.9 900.7 135.3 902.3 136.6 898.1 206.0 899.1 141.3 899.7 108.3 902.5 142.3 902.6 213.7 897.6 176.7 900.3 195.7 898.8 172.5 901.6 137.7 900.9 103.8 897.9 152.7 900.7 114.8 901.5 147.3 898.6 191.5 899.1 160.8 899.7 173.5 900.6 192.1 897.7 154.3 900.3 159.2 898.6 230.0 894.5 186.8 900.4 166.6 899.0 181.8 898.4 172.0 899.9 156.2 898.5 237.4 887.0 144.0 873.4 242.8 879.8 222.4 898.5 229.5 895.7 135.3 902.5 177.9 899.2 291.3 882.3 150.8 899.8 136.3 898.9 204.4 801.2 144.2 900.5 187.2 867.5 134.7 899.7 251.6 886.4 150.2 900.8 126.2 901.4 199.9 894.6 158.0 899.1 184.2 897.7 176.5 869.4 239.5 892.6 178.6 898.9 161.9 901.0 83.7 897.2 176.4 901.2 148.4 901.5 186.0 899.7 193.1 898.9 172.2 854.0 124.7 900.4 176.5 900.0 174.6 899.3 194.3 825.3 275.9 896.8 149.8 900.1 169.8 901.2 123.6 900.1 213.8 899.3 144.1 900.4 217.4 895.6 213.6 894.8 146.6 900.1 234.7 896.3 177.3 899.0 167.8 900.7 183.6 898.8 249.9 859.3 175.6 898.6 174.7 899.9 151.0 872.1 219.5 813.8 177.2 901.7 157.4 898.0 139.4 897.3 141.8 900.0 218.0 899.0 214.2 896.8 285.1 885.5 238.2 894.5 199.7 885.3 213.5 893.8 202.9 900.1 215.0 898.7 214.0 894.0 136.9 899.1 215.6 889.0 152.6 901.5 145.3 899.5 238.8 894.8 111.0 901.9 178.3 898.5 157.5 900.3 212.8 895.0 190.5 893.5 236.7 897.5 242.0 890.6 194.6 896.3 119.5 900.4 197.5 894.3 128.7 899.3 288.8 876.1 226.9 893.7 153.5 848.7 138.1 899.8 200.8 896.9 208.7 895.5 291.9 892.3 192.0 888.1 130.7 901.2 204.8 894.4 118.3 903.0 226.0 890.1 210.0 896.5 212.0 892.3 227.5 895.1 185.4 900.4 247.3 896.9 194.0 871.6 175.9 899.8 162.6 898.9 158.8 899.4 111.0 899.4 135.1 899.7 213.3 898.3 143.4 896.7 195.8 896.0 210.8 884.2 200.8 898.3 178.8 884.9 154.2 901.8 148.9 899.4 138.3 898.9 195.1 872.6 199.8 900.3 246.0 889.3 156.0 899.4 240.7 896.3 236.8 894.8 151.0 900.2 256.5 891.5 191.6 898.4 267.8 896.3 210.6 895.0 156.3 900.2 149.7 900.3 179.6 898.8 175.3 898.6 113.5 899.6 224.7 899.4 181.2 899.1 173.5 898.3 207.0 893.0 146.0 869.8 139.8 899.1 186.8 900.1 145.0 900.7 155.6 896.8 120.6 897.3 117.0 897.6 159.0 899.4 180.2 900.6 253.2 889.1 194.1 899.4 166.3 898.3 165.4 900.6 144.2 898.6 173.6 898.9 264.0 885.7 130.3 899.7 168.6 899.9 199.7 899.4 209.2 896.2 183.6 897.0 194.2 899.7 243.4 900.2 234.6 894.6 146.2 900.4 181.9 899.1 305.0 900.1 180.3 808.2 138.6 900.9 209.6 898.0 118.0 898.9 133.8 899.0 183.2 900.4 148.8 897.5 203.9 893.1 204.8 897.5 154.6 899.5 209.7 894.0 195.1 893.9 202.2 894.1 171.5 899.2 168.5 898.4 128.1 899.5 173.7 897.9 259.3 888.3 231.1 890.6 117.8 899.6 120.8 900.5 148.4 902.0 200.8 895.3 169.2 899.1 131.0 901.2 167.7 898.9 185.9 891.5 206.9 900.0 164.9 899.3 195.3 899.8 199.2 898.4 191.1 899.6 115.8 898.5 202.8 897.0 131.1 899.7 117.5 898.5 173.6 901.2 105.4 899.7 121.2 899.3 163.4 899.3 173.0 898.5 127.9 899.4 258.3 897.5 222.2 895.2 175.2 899.9 187.7 853.2 154.1 900.8 290.4 874.4 130.0 900.3 152.7 900.0 142.5 899.9 225.5 896.8 177.9 899.0 165.8 899.3 164.4 900.6 230.8 896.8 147.0 898.5 212.7 897.0 202.5 900.1 170.5 899.4 160.3 899.6 169.1 899.4 171.1 898.8 154.1 885.6 192.1 896.9 165.9 900.7 152.7 898.2 210.5 895.8 171.3 899.8 173.6 900.5 228.9 900.3 171.3 900.8 161.6 897.2 233.5 896.5 282.6 895.8 212.1 894.9 164.7 900.7 197.9 898.9 206.5 899.7 151.7 901.1 204.5 896.7 254.1 894.9 196.0 898.4 197.6 893.5 168.9 897.8 195.8 882.2 143.1 900.3 210.2 869.5 181.7 900.5 286.4 887.2 157.3 901.6 202.9 896.9 105.3 901.9 166.5 901.2 209.7 895.5 147.2 899.8 190.8 899.8 142.5 900.0 164.3 901.5 301.1 892.0 139.5 902.2 237.1 890.3 118.5 900.2 187.1 898.1 216.4 900.3 218.5 895.3 163.4 899.9 188.0 895.1 203.0 899.3 209.1 894.0 207.2 895.0 186.6 886.2 146.2 899.5 202.1 899.6 184.4 899.6 182.3 899.2 294.1 891.7 132.1 900.7 211.4 900.0 155.3 901.9 204.8 900.3 254.7 884.9 149.1 899.5 185.1 899.2 180.3 899.3 176.3 900.4 135.8 899.2 192.3 897.4 232.4 892.5 197.0 900.1 150.9 846.8 214.6 891.5 167.0 899.7 133.1 898.1 189.9 895.3 172.0 899.8 180.5 826.7 298.4 884.1 185.4 898.9 258.0 899.1 158.7 902.3 208.8 894.8 121.7 899.9 152.3 899.7 200.5 890.2 200.3 900.4 217.3 852.7 162.1 900.9 149.0 899.6 159.4 899.3 181.4 899.1 111.2 900.9 161.4 898.4 196.2 895.9 133.5 898.8 153.6 901.3 227.2 879.7 242.2 888.6 146.0 868.2 137.2 899.2 129.7 899.7 123.9 900.4 213.1 899.3 206.3 897.2 147.8 899.4 175.5 900.6 200.9 899.9 112.0 900.3 216.1 875.9 224.0 883.3 141.3 898.7 201.9 895.3 201.4 891.2 156.8 901.5 228.7 886.4 142.1 899.9 173.6 898.0 153.9 901.2 169.7 899.3 215.3 899.7 185.5 898.1 190.3 897.3 294.0 899.1 142.8 897.6 142.7 876.0 191.6 867.3 133.7 899.0 269.6 892.7 157.3 899.2 169.5 897.1 168.4 901.6 217.2 890.5 237.8 865.2 198.7 815.5 136.4 899.1 159.0 901.5 202.3 894.7 141.9 900.1 229.7 895.9 227.1 897.6 143.1 898.1 160.1 899.8 143.4 900.8 203.8 895.1 115.9 897.6 201.0 894.6 119.1 897.0 219.5 898.8 182.2 899.3 187.1 898.4 125.8 897.1 115.3 899.3 158.7 898.7 291.5 900.0 189.2 899.9 224.7 895.6 119.1 900.9 127.2 900.6 109.6 900.5 201.1 898.3 137.0 898.6 148.8 902.3 197.4 869.0 200.9 898.8 155.0 901.8 172.8 893.1 150.9 902.8 184.4 898.4 159.1 897.7 159.6 900.5 145.9 900.1 151.2 900.2 147.4 898.5 104.8 900.8 153.5 900.4 188.2 898.4 148.3 900.2 129.2 900.9 220.7 898.9 173.0 898.0 178.3 897.8 153.7 899.5 230.8 892.5 208.2 898.0 192.0 898.9 196.5 899.0 200.6 898.8 176.9 899.2 166.1 900.1 163.3 898.4 177.4 900.1 173.0 898.0 180.4 898.7 180.9 901.0 212.4 898.2 232.1 899.8 142.8 898.6 110.8 900.9 152.3 898.9 112.8 897.9 213.4 894.5 191.7 898.8 150.4 896.0 138.8 899.9 226.2 895.7 218.3 893.1 199.5 899.1 200.5 895.7 207.0 856.6 171.3 899.4 164.2 898.7 183.4 899.3 229.2 899.9 298.7 900.1 238.2 892.0 218.2 889.2 121.5 898.9 145.7 900.6 276.8 896.5 182.2 888.6 178.7 898.8 153.4 903.6 224.6 885.8 178.9 899.4 297.6 837.6 121.8 898.9 300.7 894.0 101.9 900.2 133.5 899.3 163.2 900.5 194.0 893.5 128.9 900.3 184.5 898.2 243.7 888.2 168.9 897.6 209.2 891.2 188.2 899.7 187.0 899.3 136.6 898.5 172.4 899.7 234.1 897.2 198.3 897.9 141.9 898.9 170.3 900.1 182.2 897.8 156.7 897.9 186.4 895.1 193.1 898.7 106.5 898.0 142.3 900.0 196.2 897.7 141.6 899.5 121.2 901.3 209.1 895.3 156.4 897.5 262.7 890.3 184.1 898.8 127.1 896.9 193.7 899.1 147.6 899.4 215.6 898.0 204.5 895.5 208.7 898.9 118.0 899.0 113.3 899.4 213.6 896.2 132.5 898.3 140.1 900.0 112.4 900.4 135.4 899.7 173.6 899.7 263.0 898.1 154.8 900.5 147.2 898.4 217.3 893.0 138.0 900.6 193.5 900.2 191.0 867.1 242.7 899.2 115.2 901.8 184.6 891.2 162.4 890.2 216.7 891.9 146.3 901.9 203.3 896.4 138.1 899.2 176.2 899.1 274.0 893.1 144.8 883.7 149.6 899.4 238.3 877.8 198.3 897.7 119.8 901.8 138.2 877.4 144.5 898.2 151.0 897.9 220.3 895.7 201.6 892.8 286.2 881.7 197.8 898.4 192.6 874.2 162.4 899.6 203.6 895.1 176.0 897.9 118.4 900.1 175.9 899.9 162.6 900.1 180.7 895.9 116.3 902.4 112.0 900.6 289.5 897.3 161.0 900.6 155.9 900.8 133.5 899.9 188.2 898.6 237.6 890.3 137.5 879.5 176.9 899.2 176.8 900.9 209.6 900.2 184.9 870.9 144.7 901.8 138.6 898.0 204.5 897.8 122.3 899.5 225.3 899.1 113.1 901.5 138.6 897.2 172.9 899.9 220.2 892.4 191.6 899.7 207.1 895.6 209.0 897.7 204.3 900.1 116.9 898.8 216.9 900.2 133.4 900.7 135.2 902.7 114.0 900.5 112.1 903.3 228.3 892.5 162.2 891.1 124.0 899.9 115.8 901.8 220.8 893.2 189.4 898.2 238.0 892.0 113.9 901.2 129.1 899.3 150.6 869.4 138.8 899.6 129.1 898.8 139.9 899.2 194.1 900.1 135.9 900.6 136.0 903.0 181.2 898.9 161.5 898.4 133.7 900.3 185.2 900.3 177.8 898.9 163.0 899.3 173.7 899.8 114.4 901.6 191.0 898.8 139.1 900.2 156.6 900.6 97.7 899.9 230.9 879.0 187.6 861.0 163.6 892.1 182.0 898.4 243.8 883.8 131.5 900.4 162.5 900.3 202.5 893.5 161.1 859.4 202.3 898.8 236.0 862.1 114.6 898.2 150.3 899.0 151.3 902.0 207.7 892.2 211.9 890.3 201.4 898.5 240.1 888.8 138.1 896.6 163.7 898.1 222.4 899.7 209.6 890.6 129.1 898.8 286.2 891.9 206.5 890.5 225.6 865.8 159.9 899.9 189.8 895.7 263.7 889.8 233.5 887.7 186.3 899.7 231.5 889.4 306.8 892.5 219.0 866.9 196.1 897.0 265.4 882.1 132.9 901.0 165.0 900.5 184.7 899.1 131.5 887.7 211.4 895.2 119.0 898.3 192.7 898.6 149.7 873.7 155.0 900.6 190.0 896.0 138.8 899.8 170.4 899.0 223.4 890.3 293.8 886.0 147.6 900.0 160.3 901.7 200.7 897.3 138.6 899.7 221.4 900.2 139.7 898.5 183.8 893.7 157.1 899.1 75.2 900.7 74.0 902.5 88.4 901.3 155.7 903.4 149.1 900.2 298.7 888.8 193.8 899.2 119.7 901.2 203.5 897.7 143.9 899.5 174.6 900.1 204.3 835.5 223.3 868.5 242.7 900.4 167.1 896.7 154.4 899.2 164.2 900.6 153.8 900.3 206.6 893.0 172.3 897.7 199.7 899.4 134.0 898.5 211.7 899.1 272.3 873.9 140.2 900.2 191.2 899.5 135.2 899.1 113.5 903.7 166.2 895.4 137.8 900.9 205.3 897.4 185.8 900.1 198.4 897.4 273.6 878.7 118.2 898.6 126.5 898.1 113.6 898.1 171.8 900.5 216.8 877.4 199.5 900.5 182.7 898.1 223.2 892.1 161.1 897.0 129.2 900.0 194.3 897.2 111.5 897.9 143.5 902.8 112.4 900.4 135.2 899.7 119.4 901.1 180.7 898.7 131.0 903.7 189.6 898.3 216.8 899.5 157.7 899.3 130.1 898.8 197.9 900.0 205.0 788.3 230.0 873.0 183.5 898.5 187.0 874.2 224.9 894.2 198.7 880.1 281.0 878.0 150.6 862.4 210.7 891.1 193.2 896.2 173.0 899.4 99.2 904.2 173.9 900.9 147.7 868.2 189.4 898.8 178.0 900.7 178.1 900.0 118.3 900.9 131.4 899.7 190.0 882.7 199.3 897.1 297.8 868.7 212.9 895.9 151.0 898.0 171.4 901.0 177.6 899.7 214.3 899.7 163.8 900.7 239.1 875.9 174.9 898.6 164.3 898.1 174.4 899.7 159.3 889.1 307.5 894.5 115.8 901.0 164.5 898.2 122.6 900.0 198.8 898.6 133.8 879.9 133.6 901.5 167.4 900.6 189.4 884.5 209.3 895.2 170.0 899.5 151.6 900.4 160.6 900.0 231.1 890.2 141.5 898.2 99.9 900.5 230.5 889.9 174.7 900.0 131.5 902.2 132.0 897.2 231.6 900.1 207.5 896.5 119.5 898.7 198.4 895.7 141.6 900.1 170.2 900.8 189.8 898.7 116.7 899.3 242.7 895.5 156.5 897.8 133.0 899.7 211.4 900.1 128.7 900.2 113.9 899.9 195.6 900.1 173.2 902.3 234.1 884.5 212.7 809.2 140.7 900.1 115.5 901.1 189.6 881.9 173.2 900.3 152.3 901.7 238.1 897.8 140.9 898.8 194.5 900.5 121.4 898.7 239.8 882.9 253.0 900.1 191.4 899.4 154.7 898.8 204.4 897.6 234.8 891.3 213.2 894.1 114.6 899.6 177.4 898.2 132.5 899.6 182.6 900.8 254.4 891.5 225.3 897.8 145.9 902.2 183.2 897.8 154.4 898.9 136.0 900.0 206.9 862.8 208.8 899.0 156.7 876.9 167.0 898.3 201.1 900.1 204.9 897.6 172.4 846.8 129.8 901.9 125.9 897.2 136.1 899.1 217.1 892.5 176.4 896.9 194.6 892.0 160.2 898.5 160.7 900.3 136.9 897.9 280.7 892.7 189.9 899.3 131.1 899.2 201.8 899.1 188.9 898.0 190.8 898.7 210.1 890.5 190.2 899.0 228.2 888.6 275.4 874.5 165.4 898.8 195.1 893.7 161.4 901.5 165.8 900.7 160.4 899.5 195.0 897.4 158.7 898.1 158.6 900.7 220.9 899.4 213.8 900.5 198.6 840.6 220.1 896.6 162.8 899.6 194.4 896.8 146.2 899.9 154.1 900.9 126.9 901.6 213.6 893.4 239.2 896.6 152.5 898.0 161.9 900.6 129.7 901.1 132.8 898.2 193.9 900.1 232.0 883.0 123.5 897.6 146.6 899.4 208.8 900.7 143.1 899.5 228.5 900.4 158.7 898.2 173.6 900.7 140.1 899.3 151.1 899.5 167.5 900.1 149.5 900.2 205.1 899.4 112.5 901.0 193.9 900.8 214.1 886.0 155.4 888.5 138.8 903.0 130.0 899.7 122.2 900.4 212.8 828.2 189.5 896.9 103.7 901.7 171.1 898.8 189.0 899.0 154.6 901.7 113.4 899.1 167.1 898.9 158.8 900.1 278.2 900.2 159.6 900.6 239.5 867.3 226.1 895.2 186.0 901.1 130.8 898.4 214.8 896.3 124.8 898.7 183.9 807.6 126.2 900.4 125.3 902.6 165.8 898.9 134.5 899.6 299.3 880.8 186.5 894.9 233.3 884.6 261.3 896.0 208.6 899.6 194.8 899.7 173.5 899.5 211.1 889.9 197.7 899.3 134.7 901.3 180.5 899.0 166.2 899.7 178.8 900.8 203.1 896.4 200.1 897.7 185.4 900.2 212.4 892.0 216.9 881.6 125.2 898.5 133.1 898.6 115.9 901.6 135.0 898.5 263.9 890.0 153.4 899.5 169.3 900.5 172.6 898.4 184.8 899.0 149.7 902.1 211.2 874.0 156.1 900.9 220.6 897.4 214.2 893.9 75.9 901.2 182.7 900.0 125.4 897.4 230.0 885.2 120.5 900.9 148.2 898.5 210.0 890.9 188.0 898.4 197.4 898.2 166.1 900.3 179.4 900.4 140.3 900.5 172.2 899.0 146.9 901.9 198.5 899.4 128.2 900.0 132.2 899.4 139.6 901.5 180.9 898.6 186.9 900.8 91.2 900.6 294.1 892.3 218.2 827.7 162.0 877.9 134.8 899.7 217.0 890.8 283.2 880.9 137.2 903.4 208.4 897.9 216.0 895.0 243.1 890.4 140.9 902.3 130.1 900.0 135.5 901.3 143.7 899.3 234.0 894.9 236.4 881.5 173.6 898.7 130.9 898.9 158.7 900.1 145.0 902.1 195.1 898.1 204.0 897.2 210.9 895.4 169.1 900.6 171.5 899.1 172.9 898.4 160.9 900.4 171.3 900.5 199.7 895.8 202.9 899.5 155.5 898.4 185.1 898.8 133.1 900.6 115.5 899.8 162.9 897.8 159.5 900.7 112.9 901.5 122.6 899.7 167.7 899.6 246.1 895.6 218.6 898.2 112.5 899.6 154.3 898.8 160.7 898.7 153.6 819.0 132.1 898.8 188.0 897.2 219.0 894.5 162.3 900.9 137.0 901.1 127.9 898.0 103.7 900.7 209.5 898.1 143.7 901.2 204.4 895.8 212.7 891.7 123.4 898.7 138.5 900.1 154.1 899.7 210.0 897.2 206.0 896.6 152.6 899.9 170.9 900.8 159.0 901.4 173.4 898.0 213.0 891.1 147.5 899.8 215.1 898.6 238.9 849.2 189.3 894.4 264.1 891.1 243.3 894.5 136.3 901.0 298.8 887.8 139.9 898.7 214.4 898.5 130.2 904.1 152.5 901.5 169.7 899.6 219.0 890.4 199.1 896.3 140.4 900.2 233.4 896.1 225.5 890.0 178.1 898.8 116.7 900.8 150.4 899.5 151.3 898.9 166.8 898.7 246.4 871.0 188.6 901.0 216.2 896.8 120.9 898.9 145.5 892.6 205.3 894.6 157.2 897.2 143.3 899.9 119.2 899.9 116.7 899.5 166.0 898.4 182.6 899.9 164.5 815.2 184.9 893.0 151.1 900.0 105.4 895.9 198.3 897.7 156.6 901.0 175.8 900.1 161.8 899.9 148.5 897.5 116.9 901.8 151.8 898.1 152.0 899.3 129.4 900.6 112.3 901.3 174.5 899.9 108.2 900.7 228.8 898.8 159.6 898.2 169.9 900.1 180.0 898.7 111.2 901.3 127.1 899.8 212.0 899.6 183.8 899.9 176.0 898.3 157.6 898.9 207.8 900.1 177.2 884.1 212.9 896.9 218.2 896.8 232.5 900.0 204.7 900.0 198.3 897.4 172.1 900.3 181.0 900.2 186.6 899.6 180.0 900.6 216.2 892.9 223.6 877.3 117.0 899.5 207.9 893.0 191.2 898.4 189.0 895.2 236.0 894.3 116.4 900.0 173.8 899.9 161.5 897.2 252.6 895.6 135.5 899.4 184.6 897.1 133.0 902.3 208.1 899.8 175.5 898.4 205.9 891.8 153.1 898.5 229.9 888.3 95.4 901.6 142.9 899.8 205.6 894.9 228.8 897.9 211.0 880.8 149.1 898.9 122.9 899.5 202.6 891.1 205.4 897.4 118.7 898.5 242.6 896.3 180.3 900.5 113.1 899.5 174.3 900.2 156.9 899.2 127.7 900.4 230.4 882.0 242.5 882.8 130.5 900.1 170.1 900.3 148.9 898.7 198.1 897.9 128.8 899.0 156.3 900.0 165.8 894.9 173.5 899.3 168.9 897.1 188.7 898.6 243.9 888.9 241.7 887.2 235.8 897.6 217.4 891.3 143.4 900.5 145.4 900.8 171.9 899.4 194.5 897.0 189.9 894.8 158.3 899.3 299.1 888.5 153.7 901.0 108.1 900.2 124.9 899.9 141.0 898.9 205.3 893.4 219.4 900.3 114.8 900.8 144.4 900.7 145.1 901.3 212.2 895.0 233.4 894.5 147.7 900.9 127.3 898.7 272.4 897.7 277.3 897.4 203.5 900.1 173.5 898.2 207.3 892.7 209.8 895.7 178.0 897.8 148.7 900.1 179.9 899.2 196.8 897.2 155.2 901.1 194.0 900.1 133.3 898.8 276.7 899.0 141.3 899.2 143.1 899.5 265.4 894.8 254.4 892.1 240.2 891.2 219.5 898.2 221.3 894.8 216.4 899.8 185.1 898.6 121.5 833.6 205.4 898.2 218.2 899.9 218.6 894.2 115.2 899.1 118.8 898.3 205.3 895.6 175.4 899.5 232.4 888.4 298.0 893.2 170.3 899.3 198.5 898.6 197.2 899.6 200.7 890.4 160.5 900.7 194.0 899.7 120.2 899.1 234.0 898.1 204.4 897.7 214.1 896.2 172.2 899.4 140.5 900.3 170.8 899.3 199.1 898.0 182.8 898.5 128.6 898.6 92.0 898.9 164.3 899.9 145.4 859.2 143.2 885.7 142.5 899.3 166.5 899.1 200.9 898.8 237.2 896.3 198.6 891.6 109.4 897.6 226.0 899.3 190.3 898.5 205.4 893.1 190.9 897.5 158.9 900.8 157.0 902.0 120.9 900.6 197.1 898.1 117.4 901.1 199.2 898.0 236.7 896.6 197.5 897.0 189.9 897.4 214.8 899.1 264.7 881.1 215.4 894.2 297.2 882.6 171.9 899.6 103.2 900.5 190.9 896.5 193.9 897.5 224.9 893.3 190.7 899.7 160.0 901.3 93.0 900.4 217.6 883.6 192.2 892.6 292.2 900.4 188.4 898.0 222.3 899.3 210.4 895.4 298.1 896.6 172.2 898.9 233.3 892.4 164.1 899.1 99.7 899.5 155.4 899.9 158.5 901.3 299.7 895.0 163.9 900.7 149.1 883.3 200.3 899.0 126.2 900.7 152.9 899.1 163.9 900.3 130.6 899.6 188.9 898.7 167.4 897.9 214.1 900.2 157.1 900.2 283.6 897.1 139.3 899.5 180.6 898.3 143.1 898.4 102.8 901.4 152.4 899.4 232.9 889.7 151.2 900.6 175.4 898.8 179.8 884.5 148.0 897.7 181.1 901.0 119.7 899.7 158.3 900.8 150.3 901.6 215.7 894.5 210.1 891.3 201.6 898.7 188.5 896.1 225.7 896.2 206.5 899.5 117.6 900.0 131.3 901.2 207.4 896.0 219.2 895.1 296.5 896.6 210.8 895.8 134.7 901.0 185.1 828.9 192.2 896.3 189.7 898.9 131.8 901.4 274.1 897.0 178.1 901.2 148.4 901.9 287.5 888.9 162.6 898.4 120.6 902.0 197.7 899.9 147.2 899.9 142.1 901.5 152.5 899.0 190.0 897.5 154.6 900.7 197.1 894.6 235.3 890.5 298.1 897.1 231.3 897.1 239.3 899.7 146.4 898.1 216.8 891.4 124.7 898.2 186.9 896.3 121.8 900.6 126.6 899.5 253.0 887.1 130.9 897.5 203.6 898.3 180.2 900.2 77.0 898.2 213.0 898.4 118.7 900.6 230.7 895.7 216.1 897.5 176.4 900.2 170.2 899.1 112.0 900.6 201.5 899.6 114.3 901.2 180.1 899.0 240.2 898.2 198.8 898.3 129.6 899.4 204.1 896.8 201.7 897.0 155.8 862.2 210.3 899.9 186.6 899.4 166.2 898.5 180.0 899.1 149.2 899.2 150.6 901.0 231.2 884.5 158.3 898.9 210.3 896.3 160.4 898.2 138.7 897.6 79.9 899.2 268.7 894.9 207.9 898.6 288.5 898.9 187.8 895.6 119.1 898.5 135.4 899.1 116.4 900.0 190.7 876.6 191.9 893.8 260.3 890.9 151.7 899.8 144.0 899.8 142.5 897.9 133.4 899.0 112.1 899.0 176.1 899.6 167.0 899.3 160.6 899.5 255.6 886.2 153.9 892.2 217.2 900.1 180.8 899.1 127.4 898.3 112.3 899.3 190.3 886.1 227.6 879.0 116.6 898.3 201.7 894.9 143.9 901.7 199.9 896.3 217.9 893.9 204.8 900.2 145.4 900.1 134.5 898.0 272.7 877.1 237.8 893.9 239.7 900.4 181.9 900.8 116.8 898.6 160.7 899.8 236.4 894.7 120.0 903.5 151.6 898.7 114.9 900.3 229.1 900.0 158.8 900.0 123.2 899.3 159.1 900.9 140.3 899.3 168.6 898.1 191.2 897.5 196.3 893.7 126.1 901.7 181.1 897.8 117.8 899.1 169.6 900.3 214.8 900.4 147.6 902.7 216.6 893.7 145.3 899.7 163.7 899.2 212.9 894.2 91.9 898.3 183.5 897.8 181.4 899.5 203.3 899.1 252.1 895.6 200.8 897.3 142.8 897.9 139.8 901.3 174.6 898.8 149.9 898.1 183.4 899.0 124.7 892.9 200.7 893.1 166.6 900.5 116.5 899.1 130.1 902.4 242.6 899.3 221.4 883.9 229.3 895.7 163.3 900.3 291.2 894.0 136.2 898.0 204.7 891.5 245.6 889.4 140.9 901.2 92.5 897.6 130.8 902.9 123.4 900.2 214.3 900.3 189.9 896.7 173.9 899.5 129.3 899.7 194.4 898.7 132.1 898.5 131.7 898.6 188.4 899.5 194.5 871.9 213.9 899.2 217.1 896.8 132.1 898.5 152.7 900.7 133.0 899.2 175.8 898.9 112.1 900.6 226.0 886.8 199.2 898.9 214.9 898.9 175.4 890.9 237.0 895.3 218.1 896.2 217.4 891.5 214.5 863.9 141.9 901.0 157.8 899.7 117.8 901.2 209.4 895.5 173.6 899.2 293.3 895.3 150.9 900.3 168.4 902.3 225.7 896.4 274.5 886.0 208.5 900.4 229.7 892.7 239.8 898.8 148.7 897.1 191.2 896.2 119.3 900.0 198.6 899.2 257.0 897.2 177.6 900.3 133.2 899.0 185.4 898.4 119.7 902.4 172.1 899.3 122.7 899.2 166.7 898.5 216.0 870.9 206.3 898.6 222.5 897.5 171.6 899.2 169.6 867.0 117.6 902.3 212.5 898.5 185.4 897.3 165.5 899.2 133.1 900.1 171.7 898.6 119.2 900.1 130.0 899.6 122.5 899.6 167.6 901.1 132.1 897.2 217.2 893.0 190.4 898.0 225.8 888.6 183.4 897.2 134.9 899.1 149.3 899.2 219.1 896.3 187.3 898.8 194.9 899.6 193.2 899.6 116.1 899.5 139.9 899.6 168.4 900.1 220.2 897.7 247.3 887.4 188.1 896.6 147.2 899.6 115.8 900.1 184.1 898.8 165.6 899.0 241.6 883.2 140.7 901.5 140.5 898.6 104.5 899.3 112.1 900.1 214.7 893.7 226.9 885.5 134.2 898.7 103.9 900.9 186.2 898.7 145.6 900.3 191.0 900.2 236.9 896.6 207.3 893.4 149.7 899.6 190.0 897.0 150.9 900.6 208.8 900.1 147.0 901.0 226.4 894.5 198.8 897.9 232.0 897.5 157.8 902.9 258.8 889.1 187.0 897.1 146.9 898.6 194.9 888.6 153.5 900.5 129.2 900.7 114.4 899.5 190.5 900.0 145.0 900.5 126.8 899.8 210.9 899.9 132.7 898.8 208.3 889.1 148.9 897.1 160.0 898.9 242.0 895.0 217.3 900.0 218.1 898.3 286.8 897.4 189.6 898.2 242.7 898.3 191.9 900.4 187.0 894.5 158.4 719.9 187.3 719.9 126.9 730.6 210.9 728.5 141.5 737.4 146.6 746.0 299.5 752.4 122.6 753.2 169.1 747.2 172.0 746.4 137.7 774.6 138.2 778.0 128.7 830.1 126.1 851.4" fill="none" stroke="none" marker-start="url(#mk1)" marker-mid="url(#mk1)" marker-end="url(#mk1)"/>
<rect x="46.60" y="710.40" width="273.60" height="202.00" fill="none" stroke="#555" stroke-width="1" />
<line x1="44.60" y1="898.40" x2="46.60" y2="898.40" stroke="#555" stroke-width="0.8" />
<text x="44.00" y="902.40" font-size="11.3" text-anchor="end" fill="#111" stroke="#111" stroke-width="0.28" font-weight="normal" >0</text>
<line x1="44.60" y1="855.70" x2="46.60" y2="855.70" stroke="#555" stroke-width="0.8" />
<text x="44.00" y="859.70" font-size="11.3" text-anchor="end" fill="#111" stroke="#111" stroke-width="0.28" font-weight="normal" >100</text>
<line x1="44.60" y1="813.00" x2="46.60" y2="813.00" stroke="#555" stroke-width="0.8" />
<text x="44.00" y="817.00" font-size="11.3" text-anchor="end" fill="#111" stroke="#111" stroke-width="0.28" font-weight="normal" >200</text>
<line x1="44.60" y1="770.30" x2="46.60" y2="770.30" stroke="#555" stroke-width="0.8" />
<text x="44.00" y="774.30" font-size="11.3" text-anchor="end" fill="#111" stroke="#111" stroke-width="0.28" font-weight="normal" >300</text>
<line x1="44.60" y1="727.60" x2="46.60" y2="727.60" stroke="#555" stroke-width="0.8" />
<text x="44.00" y="731.60" font-size="11.3" text-anchor="end" fill="#111" stroke="#111" stroke-width="0.28" font-weight="normal" >400</text>
<line x1="77.50" y1="912.40" x2="77.50" y2="914.40" stroke="#555" stroke-width="0.8" />
<text x="78.40" y="924.3" font-size="10.8" text-anchor="middle" fill="#111" stroke="#111" stroke-width="0.28">10<tspan dy="-3.8" font-size="7.8">-1</tspan></text>
<line x1="128.70" y1="912.40" x2="128.70" y2="914.40" stroke="#555" stroke-width="0.8" />
<text x="129.60" y="924.3" font-size="10.8" text-anchor="middle" fill="#111" stroke="#111" stroke-width="0.28">10<tspan dy="-3.8" font-size="7.8">1</tspan></text>
<line x1="179.90" y1="912.40" x2="179.90" y2="914.40" stroke="#555" stroke-width="0.8" />
<text x="180.80" y="924.3" font-size="10.8" text-anchor="middle" fill="#111" stroke="#111" stroke-width="0.28">10<tspan dy="-3.8" font-size="7.8">3</tspan></text>
<line x1="231.10" y1="912.40" x2="231.10" y2="914.40" stroke="#555" stroke-width="0.8" />
<text x="232.00" y="924.3" font-size="10.8" text-anchor="middle" fill="#111" stroke="#111" stroke-width="0.28">10<tspan dy="-3.8" font-size="7.8">5</tspan></text>
<line x1="282.30" y1="912.40" x2="282.30" y2="914.40" stroke="#555" stroke-width="0.8" />
<text x="283.20" y="924.3" font-size="10.8" text-anchor="middle" fill="#111" stroke="#111" stroke-width="0.28">10<tspan dy="-3.8" font-size="7.8">7</tspan></text>
<text x="186.50" y="936.50" font-size="11.4" text-anchor="middle" fill="#111" stroke="#111" stroke-width="0.28" font-weight="normal" >MM/GBSA binding free energy (kcal/mol)</text>
<text x="21.00" y="802.00" font-size="15.3" text-anchor="middle" fill="#111" stroke="#111" stroke-width="0.28" transform="rotate(-90 21.00 802.00)" >Docking score</text>
<text x="52.20" y="726.20" font-size="13.4" text-anchor="start" fill="#000" stroke="#000" stroke-width="0.28" font-weight="normal" >PCC: 0.143</text>
<defs><marker id="mk2" markerWidth="6" markerHeight="6" refX="3" refY="3" markerUnits="userSpaceOnUse" overflow="visible"><circle cx="3" cy="3" r="1.6" fill="none" stroke="#2a9a8a" stroke-width="0.85"/></marker></defs>
<path d="M516.8 899.4 530.1 897.3 586.1 891.3 518.5 900.5 523.7 897.1 533.5 898.3 483.7 899.9 524.2 899.1 538.8 897.8 559.0 897.0 471.3 900.5 498.4 899.7 470.6 900.7 561.0 895.5 546.7 894.8 460.5 900.3 635.1 868.5 616.4 885.2 541.8 893.4 537.0 899.2 480.4 901.6 449.2 901.5 526.2 899.2 464.1 900.3 484.4 900.0 490.8 899.9 458.1 899.4 518.3 897.3 515.4 899.9 565.8 895.0 525.1 900.1 540.1 893.8 522.7 900.6 542.8 897.9 517.5 896.9 495.3 901.6 651.8 878.5 649.7 859.1 565.3 886.0 548.4 892.4 499.9 900.6 489.3 899.8 496.6 899.8 466.3 900.3 555.7 893.7 510.4 900.2 566.9 892.5 508.7 899.9 609.2 860.9 567.0 894.9 412.2 900.1 486.8 900.0 582.6 891.8 519.0 899.4 633.2 875.5 510.0 899.6 466.9 900.2 538.7 897.2 557.2 896.5 494.3 900.4 469.8 901.5 502.0 900.6 615.7 820.5 554.7 883.6 475.5 900.5 491.4 899.5 472.7 902.4 464.2 899.7 559.5 895.3 482.9 901.2 530.1 897.6 516.2 898.6 484.5 900.5 551.4 895.1 477.1 900.1 540.5 899.7 475.3 901.1 512.9 900.6 487.2 901.0 494.3 900.6 623.0 885.1 560.3 897.4 498.5 900.1 576.3 888.5 486.9 900.2 509.7 900.1 568.8 893.8 540.3 899.2 472.6 898.5 642.8 868.7 487.3 899.8 492.8 899.2 556.5 898.6 501.6 900.3 497.5 899.4 467.0 900.4 470.4 899.5 533.0 897.1 490.9 900.1 535.3 895.2 506.9 899.0 516.9 899.8 610.3 850.1 520.7 898.2 532.0 899.1 571.8 896.9 483.5 899.9 479.9 899.5 582.2 895.2 562.0 898.0 491.7 899.7 484.4 899.4 552.4 895.4 590.2 885.3 485.2 900.7 600.7 886.9 575.7 864.7 535.5 900.2 513.0 900.3 473.3 899.4 459.8 899.5 614.2 877.4 490.4 900.5 548.0 895.6 492.7 899.9 562.8 893.8 534.7 899.6 497.2 900.5 482.6 897.2 550.0 897.4 466.0 897.4 489.1 900.4 530.1 898.6 568.3 887.5 536.9 899.4 495.5 899.9 584.4 877.6 486.1 901.1 450.8 900.7 494.2 901.0 516.0 898.9 464.3 900.5 482.7 899.3 506.5 899.6 531.7 899.7 477.2 900.5 505.7 900.6 577.8 869.6 633.3 863.0 542.1 899.0 546.4 895.7 533.2 897.9 478.2 899.7 459.1 901.2 452.2 899.4 582.6 886.8 547.6 890.5 614.3 866.6 455.6 901.7 539.6 898.8 520.5 900.4 551.2 894.9 500.3 900.3 653.6 849.5 467.4 898.6 528.4 900.3 552.1 893.3 580.1 866.9 552.1 896.0 547.9 897.6 559.0 892.9 583.8 894.6 504.4 899.7 545.6 892.3 580.3 880.1 572.9 895.6 512.5 899.4 558.7 895.5 571.0 890.0 531.7 899.6 538.2 889.4 508.2 900.4 533.0 899.0 536.2 892.9 468.4 900.1 540.0 897.3 647.1 850.8 575.1 887.1 551.0 898.7 508.9 900.2 551.8 892.0 532.7 896.6 515.4 900.1 564.8 867.5 469.1 899.8 553.7 888.5 458.0 898.8 535.3 899.9 520.4 899.4 489.4 898.7 547.3 893.1 522.4 894.5 536.9 898.0 585.1 884.0 492.5 901.2 445.4 900.0 498.1 901.1 544.8 896.2 485.9 898.6 481.9 900.0 581.5 892.5 542.5 898.8 515.6 899.4 578.0 894.1 501.3 900.0 543.3 896.5 485.4 898.8 514.2 899.6 560.6 891.1 583.6 887.0 575.2 889.0 508.4 900.6 533.0 897.2 500.0 899.7 477.7 898.2 522.3 899.8 564.5 898.1 567.4 890.0 548.9 892.1 600.5 889.0 495.1 901.7 481.8 900.4 516.6 900.5 494.9 898.1 487.4 901.2 512.1 900.1 538.3 899.2 522.0 899.9 499.9 899.6 565.0 892.9 635.0 859.5 516.9 900.1 467.3 902.1 458.4 900.1 573.4 893.0 460.4 901.3 548.5 896.6 531.5 896.9 499.1 899.9 558.8 886.6 453.4 900.3 477.7 900.4 517.1 899.2 457.0 897.9 563.5 888.1 490.3 900.5 478.3 900.7 461.5 901.8 538.7 897.2 516.1 900.3 538.8 893.9 541.9 896.2 560.8 897.6 609.6 874.2 545.6 897.5 485.5 901.0 519.7 900.5 483.0 899.2 444.8 900.4 519.3 900.5 549.2 896.1 483.0 899.2 494.6 902.1 503.7 899.6 547.1 898.5 525.3 899.1 536.9 897.1 554.4 896.9 509.6 899.7 558.8 891.1 581.6 893.1 469.9 899.4 588.2 888.4 550.2 884.9 477.0 900.3 517.0 900.1 538.3 895.5 582.6 897.8 507.5 898.0 531.2 898.0 575.0 895.4 559.4 895.0 594.3 820.5 518.2 900.4 541.5 891.1 486.2 899.0 550.2 890.6 562.1 892.9 540.3 897.5 549.7 895.3 487.3 900.5 580.1 891.2 633.3 845.6 629.9 844.4 527.3 900.3 558.7 889.8 500.5 899.2 582.6 882.7 569.1 875.0 504.0 900.6 468.9 900.8 515.4 899.9 529.0 895.5 555.9 897.9 521.2 900.2 457.7 900.0 561.0 887.5 465.1 898.7 559.8 893.5 482.3 900.4 502.3 899.6 558.4 893.8 478.3 900.9 479.3 898.6 524.8 898.1 550.4 887.5 565.2 890.6 546.2 898.9 595.9 888.5 521.8 899.9 599.6 868.4 469.6 901.9 488.3 900.2 526.0 899.7 496.8 900.1 551.0 899.2 539.9 892.3 525.6 900.0 566.1 891.2 530.2 899.3 499.4 900.7 508.0 899.6 566.5 896.5 580.2 889.1 486.6 900.0 567.9 878.4 620.4 840.3 525.7 900.0 531.8 897.6 485.7 900.8 527.2 897.5 523.1 898.5 535.8 899.3 457.6 901.8 621.4 888.4 524.7 898.6 510.4 899.6 560.0 896.2 530.5 898.4 521.6 899.0 546.4 899.8 465.5 900.1 527.5 898.7 512.1 900.2 607.9 884.8 585.9 879.4 494.2 901.7 519.4 900.4 476.6 899.1 514.5 899.0 561.8 893.4 580.2 893.0 519.8 900.3 500.1 900.6 484.6 899.1 537.3 896.5 586.3 859.9 476.9 899.4 557.3 894.7 456.6 899.5 484.9 899.9 489.0 900.1 545.9 891.9 500.7 900.5 504.8 899.3 537.6 897.3 473.5 900.6 551.3 892.4 476.1 900.8 524.0 900.1 491.9 902.2 485.3 900.2 526.5 898.5 514.9 900.2 507.4 899.9 512.0 900.3 526.4 896.8 480.6 901.2 486.2 902.1 539.0 894.9 539.9 898.6 526.4 899.7 568.0 892.7 536.6 898.7 569.4 890.5 489.7 901.7 552.5 897.5 561.1 897.3 580.7 897.6 500.0 899.3 499.8 899.7 585.7 895.4 487.9 898.7 652.5 861.1 577.0 877.1 477.5 900.5 490.5 900.6 550.8 895.8 493.0 899.6 471.9 898.4 563.8 897.3 513.0 900.3 558.6 884.5 476.5 901.8 510.7 898.7 545.6 899.1 452.0 900.9 485.7 898.4 545.3 898.1 582.9 896.7 620.3 875.9 475.2 900.4 523.4 897.5 554.7 891.6 523.1 897.4 545.7 893.7 484.3 900.1 466.4 899.8 473.8 899.9 459.6 900.2 529.1 899.3 524.6 897.9 531.2 899.1 479.0 900.6 483.7 899.7 486.1 899.7 565.3 899.1 643.9 886.5 586.7 886.3 471.5 900.2 464.6 899.2 602.1 863.8 518.0 898.5 555.5 894.2 501.3 900.3 518.6 899.1 524.6 897.8 514.1 900.2 535.2 898.3 447.4 900.9 547.6 881.9 566.3 893.3 483.3 898.8 517.0 899.6 552.3 896.8 511.0 900.5 485.0 899.7 481.3 900.6 524.3 898.6 449.6 901.1 578.4 877.6 560.1 895.0 548.1 896.2 570.4 875.7 538.7 896.9 510.9 900.2 535.1 900.1 523.3 899.7 635.7 846.9 560.4 896.2 492.8 900.8 582.9 867.9 553.0 895.6 557.1 893.6 561.7 887.7 511.1 899.5 579.2 878.8 575.1 897.9 546.8 897.9 555.8 893.5 555.5 894.8 511.1 900.2 550.3 884.4 466.4 900.2 503.2 900.1 518.9 899.1 444.6 898.9 504.9 898.6 539.9 898.5 538.1 893.9 489.6 900.0 594.8 890.9 543.3 898.3 502.7 899.7 542.5 900.0 531.3 897.3 526.8 897.6 509.1 898.1 654.2 833.7 540.3 894.6 547.6 897.7 555.1 891.8 632.9 850.5 456.6 898.7 537.0 897.1 552.3 896.5 492.6 899.9 510.6 898.8 462.3 899.0 485.1 899.5 507.4 900.0 472.2 900.4 491.9 901.7 581.5 865.5 528.9 899.2 523.7 899.2 618.9 889.0 531.1 897.6 649.0 867.7 539.8 899.6 561.0 881.7 467.6 899.7 534.8 899.7 554.8 897.7 461.2 900.6 587.5 884.3 480.7 900.6 519.2 899.4 481.8 899.1 522.2 900.3 536.5 898.8 463.9 898.7 595.4 890.1 512.9 898.4 526.0 900.1 534.8 895.1 506.1 900.3 496.2 900.7 541.9 894.9 530.2 899.6 496.0 899.1 549.5 896.5 497.5 898.9 448.2 899.7 491.2 898.6 460.7 898.8 480.3 900.4 554.2 888.1 509.1 899.8 579.5 871.9 553.5 894.4 462.2 899.8 642.2 848.7 594.6 846.9 467.0 900.4 581.5 893.0 514.0 900.3 520.0 899.9 625.4 869.0 491.0 899.6 525.6 899.7 589.3 887.5 550.3 897.3 518.8 895.9 631.5 895.4 561.9 894.9 535.6 899.0 475.1 898.8 538.1 897.4 517.3 900.3 486.1 901.3 462.6 900.1 526.2 898.6 476.3 901.2 515.7 899.6 543.5 893.2 517.2 900.3 493.3 900.3 532.9 899.8 512.8 897.6 557.1 896.0 526.5 899.5 651.8 805.2 603.3 860.0 551.7 892.9 490.4 900.8 475.0 899.5 578.3 889.4 557.9 893.6 538.2 898.9 505.3 899.9 494.5 898.0 545.6 898.6 530.8 898.8 534.1 898.0 539.2 890.8 554.1 896.3 484.4 899.6 491.7 901.3 632.5 848.4 584.0 891.4 574.8 897.5 460.0 900.3 464.4 899.7 494.4 901.0 513.5 900.2 538.0 898.8 473.0 900.7 527.9 898.6 466.8 901.1 469.7 899.6 544.5 898.7 529.0 892.1 539.0 899.7 507.0 899.3 520.1 900.2 486.9 900.0 503.4 900.3 553.0 896.8 564.9 896.9 467.2 899.8 475.7 899.2 561.0 897.7 538.0 900.0 556.0 881.2 487.3 901.2 513.4 900.4 492.8 899.9 561.1 892.8 506.5 898.5 541.7 897.6 642.7 849.3 501.1 899.8 528.7 897.8 553.2 897.6 585.2 893.9 513.8 899.7 506.6 900.2 471.9 900.0 573.9 892.0 468.1 901.1 469.0 899.6 530.7 899.8 520.9 898.8 545.7 896.0 497.9 901.3 556.8 896.4 467.6 899.4 487.3 899.7 542.8 898.7 468.7 899.5 498.5 899.4 550.6 888.3 546.7 895.0 495.9 900.9 478.6 899.8 505.1 900.4 550.7 898.3 506.2 900.0 475.4 900.0 548.6 885.9 531.3 900.4 584.7 891.1 590.0 880.4 583.4 893.8 515.1 899.8 560.2 899.1 498.6 900.5 500.2 900.0 510.3 900.0 588.7 879.8 578.8 891.2 491.6 899.9 505.6 900.1 506.1 900.6 505.8 898.4 509.8 900.4 508.8 900.4 485.0 900.4 530.6 900.4 559.5 898.2 527.8 895.8 564.3 893.3 530.5 899.8 482.7 899.7 554.8 897.5 575.4 895.7 495.7 899.4 456.5 901.8 524.7 900.2 528.2 896.8 531.1 899.9 618.2 887.0 541.4 899.8 560.4 896.5 465.1 901.3 528.5 899.3 558.4 886.1 469.2 902.7 468.7 899.6 552.1 897.3 579.9 880.0 469.3 898.9 539.3 900.2 478.7 901.3 553.1 898.7 541.2 894.7 491.2 899.3 488.2 898.7 555.6 891.4 525.4 898.8 555.5 898.3 509.7 900.2 502.7 900.5 620.2 873.8 544.1 893.7 522.0 899.2 527.4 900.4 550.1 896.0 548.5 893.0 583.8 884.6 511.7 898.8 563.1 892.4 543.4 897.3 568.6 897.8 560.6 883.2 564.0 900.2 577.3 855.7 608.9 866.8 540.1 897.2 525.7 892.9 548.7 897.7 560.1 888.9 513.0 899.5 512.9 900.4 479.0 900.9 552.6 899.3 644.6 884.9 507.3 899.9 481.6 901.3 486.2 900.6 513.5 899.7 497.0 901.5 621.8 890.0 464.1 900.2 499.0 899.7 475.1 900.2 541.0 898.6 556.9 892.4 483.1 901.0 464.7 900.1 517.6 898.7 533.1 895.5 582.4 894.8 459.4 899.8 474.3 901.1 483.7 900.4 487.8 899.5 490.0 900.4 549.6 889.3 534.5 897.5 488.6 898.0 483.8 899.7 495.7 898.5 482.2 900.6 554.6 892.8 499.4 900.7 528.7 899.6 562.0 881.0 520.2 899.9 493.1 899.8 577.0 897.4 583.6 886.3 503.2 900.5 528.6 898.5 608.1 852.5 520.6 900.0 488.2 899.3 462.1 900.7 597.8 895.8 560.0 893.2 508.5 900.7 526.1 900.4 524.7 899.1 494.8 899.5 643.8 879.9 542.2 897.8 490.3 900.6 444.9 901.2 519.4 899.8 506.8 900.6 559.4 867.9 549.1 888.6 535.9 900.1 480.3 900.0 480.3 899.3 500.7 900.0 493.0 899.3 572.5 898.7 524.7 900.4 539.7 899.9 646.9 834.9 493.9 900.4 527.0 899.8 479.5 900.1 556.2 882.0 424.8 899.4 562.5 883.5 566.8 891.5 562.6 892.6 468.9 899.2 494.3 900.2 549.5 897.0 471.9 901.7 520.3 899.7 518.9 900.6 606.4 858.9 533.5 899.1 569.5 848.6 498.4 898.8 558.5 899.0 512.5 900.6 584.2 889.5 470.6 901.5 563.1 892.0 486.7 898.9 528.1 899.4 525.9 890.8 480.4 900.1 563.8 895.1 499.4 898.9 499.3 899.3 467.5 897.8 498.7 899.2 518.7 898.3 549.4 893.9 505.4 899.4 545.9 898.3 473.7 899.0 509.7 900.3 518.0 897.8 618.7 816.3 563.5 895.1 541.8 899.7 446.4 900.4 507.5 900.2 548.7 894.8 490.3 899.5 530.7 898.5 517.6 895.6 444.5 899.1 645.3 887.8 559.8 893.7 486.5 899.3 537.1 893.8 496.8 899.8 507.4 897.0 527.7 900.1 497.8 901.9 502.6 899.6 509.4 900.0 543.4 897.5 492.6 901.1 485.6 898.1 551.4 899.2 501.6 900.2 595.2 887.1 530.5 899.8 550.4 893.6 501.9 899.6 563.2 898.7 470.9 899.5 478.3 901.1 471.3 900.7 544.7 896.1 548.5 895.8 483.1 900.2 510.6 898.5 564.5 889.6 534.2 898.1 470.4 900.9 488.9 900.0 480.3 901.9 476.2 900.9 511.2 900.0 466.9 900.0 585.2 889.9 513.7 899.5 524.2 899.8 541.0 898.2 555.7 895.8 562.5 893.9 508.6 899.8 501.9 900.6 511.9 900.2 449.6 901.4 510.5 898.5 547.5 897.3 634.9 859.9 558.6 890.0 542.6 898.8 536.2 898.0 452.8 901.1 501.8 900.6 503.2 900.1 541.4 896.3 473.8 901.2 507.6 899.7 523.9 900.5 558.4 894.8 563.0 892.7 536.5 897.9 480.5 899.3 555.7 899.9 580.8 894.6 528.7 896.3 504.5 899.9 522.8 900.1 478.4 900.4 549.1 889.9 640.1 834.2 524.7 898.1 549.4 889.4 564.2 897.1 485.3 898.9 595.0 884.0 538.5 898.1 485.4 899.6 469.0 900.7 491.1 900.2 532.2 899.7 547.1 898.4 501.6 900.7 587.3 894.2 505.6 899.8 518.2 899.3 476.2 900.1 625.9 845.6 477.7 899.6 581.1 892.0 528.1 899.8 530.2 900.0 530.2 899.7 493.6 898.7 582.4 895.9 645.8 888.3 562.0 874.2 535.3 900.4 476.1 900.0 562.9 869.1 496.6 900.6 579.3 882.0 490.7 899.4 531.8 897.5 563.7 893.2 483.8 898.5 528.7 899.4 467.6 899.5 458.5 899.5 483.2 898.8 640.3 885.7 589.8 893.3 542.3 898.9 498.9 898.6 543.9 900.0 552.1 895.9 508.1 900.6 534.1 899.5 560.3 896.7 450.6 900.6 485.6 899.5 518.8 899.3 478.6 899.3 508.7 900.5 531.3 898.9 482.4 900.9 525.2 900.0 493.5 900.9 531.2 899.0 502.0 899.8 540.3 898.0 459.7 899.4 543.9 899.3 478.8 899.8 610.6 891.4 535.1 897.5 519.0 900.4 511.8 899.8 538.1 898.6 546.2 898.8 554.7 893.5 553.9 897.5 521.0 898.9 648.5 874.1 564.8 888.7 569.0 890.0 511.5 900.5 514.6 899.9 530.9 899.6 581.4 830.7 525.9 900.3 525.8 900.0 514.4 900.3 581.1 894.8 500.6 900.5 463.1 900.9 550.6 887.5 580.1 866.2 551.4 893.2 534.8 900.1 553.9 893.3 498.6 899.4 534.3 894.9 466.3 900.1 476.3 901.1 516.2 899.8 523.1 898.3 510.0 900.0 462.6 900.1 546.8 899.4 526.0 900.0 490.5 900.7 498.8 900.4 509.8 900.4 490.1 899.0 466.0 900.0 582.9 850.8 618.2 882.9 543.2 891.7 571.8 863.6 513.0 899.6 560.5 892.6 488.3 900.9 553.2 898.4 531.0 900.2 580.9 894.2 472.2 900.6 558.9 891.6 476.2 899.8 527.4 897.5 601.6 871.5 412.6 899.5 491.1 899.9 497.9 899.1 501.1 898.8 464.8 900.3 578.9 873.9 561.8 875.8 510.0 898.7 505.0 900.5 533.3 900.0 461.3 899.9 458.3 900.8 579.7 895.2 499.0 900.1 522.5 899.8 588.5 850.6 629.9 880.1 519.4 899.9 486.4 901.3 497.4 899.2 585.7 891.7 579.3 896.2 485.1 900.3 564.7 898.6 504.7 900.6 519.3 899.2 482.1 900.3 575.1 896.9 649.4 805.8 485.9 900.8 539.1 898.7 484.6 899.7 575.2 890.8 462.2 898.9 473.7 899.8 550.7 898.6 499.6 899.9 580.2 860.3 572.6 888.8 549.1 896.9 477.6 899.2 547.0 898.5 589.4 881.2 516.0 898.1 468.2 899.9 488.5 900.1 498.9 899.1 548.8 886.3 485.2 899.8 483.3 897.9 490.0 900.6 543.1 899.6 558.7 893.2 507.0 900.0 542.8 894.8 576.2 843.3 533.9 897.4 489.2 900.0 498.1 899.3 586.7 896.3 543.4 897.8 495.1 900.3 540.0 893.7 470.4 899.5 636.0 857.9 515.4 899.5 526.2 899.9 526.5 900.1 461.2 900.3 535.1 898.7 496.1 899.7 491.9 899.4 560.2 894.9 469.8 900.0 496.2 901.3 554.4 888.2 491.3 902.0 495.4 900.4 528.7 899.6 483.9 900.7 579.4 877.8 641.1 857.2 458.8 898.3 518.0 899.7 553.7 898.8 508.5 898.7 587.3 889.3 522.7 898.9 483.1 898.7 529.7 895.0 540.7 895.5 505.4 900.4 542.3 895.9 557.7 892.1 524.8 900.4 523.4 900.0 566.6 891.3 545.5 893.7 525.3 899.8 602.2 883.8 482.4 902.7 557.3 871.3 481.3 901.5 536.1 897.9 490.0 898.5 515.4 900.4 556.5 887.7 558.2 897.5 558.8 895.7 490.1 901.4 521.4 899.7 488.3 900.0 532.6 898.1 522.6 898.2 459.2 900.1 534.7 899.9 549.3 897.2 531.7 900.3 573.4 897.5 483.2 900.5 479.7 899.5 452.0 900.8 522.3 899.6 514.6 899.3 515.5 900.0 493.4 900.7 559.7 889.7 466.8 899.9 581.9 879.6 531.3 899.9 528.1 899.3 558.8 891.8 490.3 900.8 479.0 899.6 499.4 899.3 460.6 901.1 499.8 899.6 537.7 898.0 525.9 896.8 493.6 901.8 533.7 899.1 470.1 899.4 562.4 883.9 482.1 900.0 492.4 900.1 480.7 900.6 546.3 888.0 563.7 888.4 558.2 889.5 464.5 899.7 511.7 900.3 506.0 898.6 487.6 899.7 622.6 854.9 460.6 901.1 521.4 897.6 555.1 890.1 639.4 815.3 478.8 900.8 517.2 900.6 553.0 896.8 460.0 900.0 490.6 901.1 577.6 892.0 478.4 901.6 509.5 900.0 497.8 900.8 513.4 900.3 467.6 899.8 458.9 901.0 650.1 817.0 555.3 896.7 551.7 896.9 489.3 900.4 492.2 898.5 529.2 898.8 490.8 899.8 518.0 899.9 588.1 890.5 505.9 900.6 502.6 900.2 634.1 804.5 536.5 898.0 460.0 899.7 510.7 899.5 541.3 896.6 463.9 901.3 503.3 899.8 546.8 897.2 571.3 889.0 534.0 897.5 576.7 886.9 518.1 900.0 509.5 900.4 566.0 897.3 508.0 897.1 557.5 885.3 487.5 898.5 503.9 900.6 483.6 900.6 528.9 899.3 481.2 900.7 486.1 899.6 487.4 901.2 518.7 900.2 499.1 899.4 516.2 900.4 647.1 882.0 544.9 898.0 570.9 884.5 486.2 900.1 508.3 900.1 466.9 900.5 546.4 897.2 505.8 899.8 494.8 898.4 452.8 901.6 483.4 900.0 493.3 901.6 509.5 897.9 585.9 897.8 549.4 896.5 494.1 899.4 505.6 899.8 479.9 900.1 589.1 888.0 505.4 900.2 555.6 899.0 550.4 895.8 581.8 892.7 454.7 898.7 500.7 900.1 508.4 899.6 469.0 900.2 575.7 880.8 501.1 900.3 556.2 897.6 525.1 899.6 463.2 900.6 509.6 899.8 490.4 899.5 460.3 899.8 479.5 900.9 534.5 898.0 458.4 899.9 499.5 900.6 513.3 900.1 528.2 899.4 477.7 900.6 548.3 898.7 493.1 898.7 550.6 897.0 543.3 898.0 479.1 901.4 486.2 901.3 495.6 901.2 549.1 892.4 511.0 900.0 508.7 899.0 571.7 894.2 488.8 900.5 497.0 900.6 503.6 898.2 487.6 900.7 460.3 899.6 456.9 901.2 538.9 892.3 530.9 899.1 560.9 892.1 628.1 826.2 497.8 901.1 543.8 897.1 584.8 867.0 487.6 899.6 546.1 897.1 543.3 898.9 606.0 838.5 572.3 880.7 489.9 901.4 539.1 897.6 470.4 899.8 513.8 899.5 509.4 899.1 464.3 899.7 508.3 900.5 501.5 900.4 522.4 900.3 495.5 900.6 480.5 901.7 510.7 899.5 519.7 900.4 481.5 901.3 543.2 896.7 490.5 899.7 471.1 899.7 503.2 900.1 513.1 900.5 479.5 899.2 533.0 897.7 547.6 891.8 529.3 899.7 547.5 897.7 456.6 901.0 509.3 899.1 505.9 900.4 464.8 899.8 510.9 898.4 463.1 902.5 522.2 898.9 533.4 898.7 518.9 898.6 501.2 900.3 492.2 900.0 456.7 901.3 503.8 900.5 578.0 799.0 530.9 898.0 493.3 900.6 543.5 898.5 483.9 899.5 518.9 899.6 537.0 899.1 605.5 890.9 505.7 900.2 532.2 893.4 592.3 866.5 556.3 898.5 538.5 895.0 537.7 900.1 511.7 900.4 512.3 900.4 495.0 900.0 563.5 888.4 575.1 898.0 508.1 900.1 582.5 888.0 459.7 899.5 477.7 901.0 523.6 899.4 499.1 899.1 505.5 899.7 629.5 876.1 479.4 900.4 484.7 898.3 489.1 901.3 545.0 898.3 489.9 899.9 418.1 899.1 528.2 898.5 509.6 899.7 490.5 899.8 521.9 900.2 541.3 895.7 528.7 900.2 538.1 899.6 530.3 899.7 563.7 891.8 620.8 893.8 502.1 900.5 503.8 900.5 576.7 890.0 499.6 901.3 549.4 899.4 546.9 891.6 545.8 895.6 615.5 880.2 562.9 895.8 480.6 899.4 537.8 898.6 521.6 900.3 530.6 899.6 506.6 899.9 496.2 899.5 553.5 887.5 526.9 899.0 490.2 898.5 491.7 901.0 501.1 900.4 482.9 898.7 524.4 899.7 476.5 899.0 464.9 902.2 466.0 899.4 472.9 899.8 548.1 881.1 474.8 898.8 516.7 900.3 556.4 897.7 520.3 900.3 481.0 897.9 571.7 880.8 572.6 889.6 462.9 898.9 492.3 899.2 523.7 900.5 559.4 887.3 509.4 900.5 549.4 891.2 492.0 900.0 549.4 897.3 501.3 900.4 502.2 900.1 554.8 888.3 565.9 890.5 563.4 895.1 531.1 895.3 512.9 900.0 548.3 897.8 538.0 900.0 563.7 896.8 560.0 896.8 476.4 901.1 507.5 898.5 543.7 899.1 489.5 898.3 483.7 900.0 447.8 898.7 533.3 898.0 590.8 895.2 622.5 867.3 477.4 901.2 545.9 899.1 512.8 897.0 539.0 893.3 510.0 896.9 588.3 886.8 642.3 879.1 461.9 900.3 549.1 897.1 475.5 898.9 460.6 899.2 496.3 900.0 551.3 894.9 647.4 896.3 475.7 901.2 501.7 900.6 457.3 899.6 528.0 898.7 520.6 899.1 507.1 899.9 499.1 900.2 559.9 891.5 564.9 891.1 496.0 899.6 509.3 900.2 537.3 898.1 555.6 895.1 633.8 892.1 509.0 899.8 546.7 899.5 528.4 899.9 559.9 893.8 479.1 898.7 482.5 900.7 474.0 899.9 588.4 866.9 492.0 900.2 521.3 895.3 475.8 901.0 500.9 900.0 453.6 900.4 530.9 896.4 478.7 898.9 538.2 897.4 494.8 900.3 489.0 899.6 520.5 900.0 506.1 900.6 493.0 900.8 462.4 901.1 465.1 900.5 578.3 858.3 499.1 899.9 468.0 900.8 483.5 900.5 520.7 898.1 651.2 858.5 485.9 898.2 572.0 866.6 520.8 899.3 512.2 899.9 560.7 896.1 509.9 900.7 463.8 900.6 529.0 898.7 542.1 898.6 538.0 892.8 495.2 900.3 589.7 875.6 571.3 884.8 648.2 872.7 515.7 900.2 564.0 892.1 550.6 895.7 482.6 899.7 457.4 901.8 481.8 900.8 475.6 898.5 467.3 899.9 505.3 900.7 554.1 898.5 499.2 899.6 524.5 899.8 444.5 899.5 486.9 899.4 610.5 895.7 445.1 901.4 526.1 898.9 561.1 898.2 558.9 892.6 551.9 897.2 510.3 899.7 560.2 897.5 563.3 899.5 555.9 891.2 639.2 867.2 472.7 900.1 600.9 882.4 510.6 899.6 548.1 898.9 491.9 900.5 582.5 894.0 456.7 900.1 532.2 897.6 489.0 902.0 508.9 898.7 506.6 899.8 542.2 896.0 561.2 893.3 506.0 900.4 539.8 898.8 504.7 900.5 495.4 899.9 581.4 850.8 500.7 900.5 471.3 900.5 502.3 900.1 552.6 896.3 487.0 899.8 552.8 889.0 528.5 896.2 545.0 897.0 482.8 901.0 473.7 899.9 478.6 901.1 504.2 898.3 514.2 899.7 443.4 901.7 523.1 900.3 510.8 900.0 500.7 900.1 527.3 898.3 603.0 890.6 486.2 901.3 575.3 896.4 500.6 899.8 554.2 896.2 474.2 899.7 640.9 822.4 514.1 900.3 614.1 823.2 488.1 899.5 511.4 900.4 548.2 895.3 482.9 901.1 494.7 899.7 544.7 898.7 598.0 833.4 500.7 900.3 483.6 900.0 505.1 900.3 643.0 816.4 479.2 900.7 539.4 899.3 507.7 899.9 540.5 896.0 487.1 900.3 537.1 897.4 577.0 896.6 569.3 885.4 538.6 899.4 523.3 898.7 531.1 897.0 475.0 900.0 564.6 842.6 546.2 896.3 516.9 900.2 543.2 898.6 512.8 899.6 508.5 899.0 489.3 899.8 535.2 899.2 531.7 899.2 524.6 899.7 458.5 899.3 538.5 898.4 516.2 900.1 534.3 897.0 534.4 900.2 587.9 894.4 479.7 900.0 518.9 899.7 646.6 839.3 552.2 897.1 499.6 898.3 552.0 896.3 642.9 891.6 510.6 899.7 572.0 897.4 476.6 900.5 643.6 854.0 521.6 900.0 489.8 901.6 565.3 885.2 541.2 894.7 589.4 886.5 563.5 893.6 559.6 893.2 524.2 900.2 647.5 852.6 465.2 899.9 572.7 869.2 548.9 896.7 491.9 898.1 560.7 897.6 517.1 899.5 527.2 899.6 571.6 898.9 485.1 900.4 495.5 900.1 540.5 899.9 467.0 900.1 529.5 898.7 558.3 894.7 521.6 899.7 490.8 901.2 559.8 896.3 569.0 897.5 556.2 896.8 528.8 897.2 581.5 892.7 559.4 882.0 479.7 901.0 506.1 900.5 472.6 900.7 459.5 899.1 503.7 899.0 571.4 889.4 564.0 892.5 475.4 899.9 483.4 900.5 509.0 900.0 567.5 862.2 537.2 898.4 580.5 895.2 466.7 901.1 641.2 878.8 486.5 899.3 538.7 899.7 574.3 870.7 550.9 894.8 485.3 900.4 543.6 898.5 514.2 900.2 449.6 899.7 502.9 900.3 499.9 899.4 538.8 897.7 495.3 898.7 535.5 898.5 546.8 898.5 483.2 899.9 476.7 899.6 546.7 894.9 518.6 896.3 476.9 898.9 475.2 900.4 590.9 892.5 536.3 900.1 505.1 900.5 485.1 902.1 648.7 853.0 546.4 895.9 552.0 899.4 505.5 899.6 499.3 901.2 511.4 900.3 479.0 900.4 539.0 895.2 513.4 900.0 562.3 897.9 511.5 899.0 517.4 900.0 523.5 900.5 591.5 820.4 503.7 899.4 547.9 900.0 490.0 901.8 532.5 898.1 496.1 900.6 573.3 889.7 496.3 900.5 568.8 889.8 544.6 899.8 517.2 900.3 588.4 892.3 508.8 900.4 552.8 898.7 535.3 899.4 516.4 900.3 465.1 898.9 512.7 899.2 495.7 899.8 515.4 900.6 605.4 885.7 497.1 901.3 546.8 897.1 544.0 897.6 491.2 900.8 511.8 900.3 477.2 899.7 578.9 859.5 492.0 899.2 512.9 900.4 503.1 900.2 562.4 898.0 567.8 885.5 534.0 900.1 528.4 899.6 472.4 901.3 579.2 888.1 470.1 901.1 505.9 899.7 507.2 897.1 550.3 899.0 543.7 894.6 503.4 900.5 579.6 886.9 600.2 895.1 456.7 899.8 539.2 900.0 518.9 897.1 505.6 895.5 518.4 900.4 500.0 900.0 543.9 899.3 535.8 899.6 622.5 888.5 629.0 880.3 646.3 880.2 509.8 897.4 563.4 892.7 541.3 896.2 547.6 895.2 651.8 887.6 465.6 900.9 518.1 900.0 510.5 898.2 542.0 899.1 487.9 900.5 643.3 887.6 486.8 899.9 506.6 899.6 478.6 901.5 509.7 900.3 552.6 894.5 469.1 899.0 481.5 901.1 541.2 899.4 538.0 897.1 552.7 890.3 492.2 899.6 561.2 897.4 551.3 897.5 556.9 889.7 475.7 899.0 518.9 900.0 450.0 898.9 570.1 894.2 594.6 885.3 579.1 892.5 456.9 901.8 504.3 900.6 527.2 899.2 526.9 899.8 474.6 900.5 558.5 895.2 498.2 899.3 523.6 897.1 476.3 901.0 531.1 899.6 476.9 899.8 470.1 901.9 524.2 899.7 497.2 898.6 557.1 895.1 491.4 900.2 512.1 900.5 463.1 899.6 487.8 899.1 516.8 900.3 529.9 898.2 517.7 900.2 567.9 897.9 473.4 898.6 567.7 886.9 480.0 901.1 622.4 892.8 525.8 899.9 511.2 900.5 536.6 899.2 571.1 892.5 615.3 888.3 512.0 897.1 444.7 900.7 479.9 899.6 562.1 881.0 551.7 894.1 549.0 898.4 480.2 899.6 526.6 899.8 457.8 901.2 474.5 899.5 498.1 899.6 617.9 843.5 540.4 899.5 567.1 890.6 461.4 900.8 512.4 899.8 468.0 901.8 493.1 899.6 474.7 899.4 584.7 893.4 501.6 900.3 521.4 900.2 541.8 900.3 576.8 889.6 596.7 880.8 531.1 897.3 522.9 899.1 581.0 858.0 509.7 899.9 497.9 900.2 552.3 888.5 492.8 901.1 506.4 900.3 514.0 899.7 519.9 892.1 505.2 899.7 514.1 900.0 516.7 899.7 462.1 899.7 564.3 890.8 464.6 899.7 526.2 898.9 528.6 899.5 510.3 900.1 488.4 899.3 472.3 900.8 506.9 899.7 499.8 900.4 520.8 900.0 489.4 901.3 553.6 898.3 521.2 900.0 442.9 900.3 511.2 899.9 618.0 879.3 441.0 900.8 534.3 899.8 612.1 863.7 506.1 900.0 534.9 894.9 506.5 900.1 498.1 897.8 536.2 899.3 533.8 893.2 499.9 899.1 522.4 899.1 524.7 896.3 554.1 892.6 462.8 900.3 471.0 901.8 492.1 900.4 494.3 900.2 559.3 899.1 513.5 900.2 570.2 872.6 510.6 900.2 496.2 900.6 545.0 896.8 469.5 900.6 637.2 850.6 563.7 893.7 501.5 900.0 500.1 900.5 562.2 891.0 558.4 891.6 540.3 890.7 463.6 899.6 555.3 900.1 461.8 900.9 538.2 899.8 529.2 896.4 586.8 877.6 539.9 897.1 456.5 902.0 588.6 890.2 554.0 896.8 532.6 893.6 439.5 900.0 552.0 894.8 512.6 900.0 545.0 897.2 636.8 835.7 584.2 893.8 467.3 900.4 557.5 899.1 515.4 899.1 553.9 891.9 507.6 900.0 516.3 900.5 514.9 899.6 475.5 900.5 500.5 900.3 551.8 897.3 466.6 899.7 475.2 900.7 564.1 895.3 543.3 896.1 528.7 891.5 474.9 899.6 475.5 898.0 499.2 900.1 604.7 876.3 530.2 899.3 585.6 885.3 487.0 899.5 512.2 900.0 527.2 900.1 565.1 890.9 476.1 898.3 573.6 896.1 519.3 900.4 458.3 899.0 514.3 898.9 507.6 900.5 544.3 899.6 587.1 864.6 521.9 898.6 546.2 893.8 508.9 900.3 557.2 890.5 473.6 899.9 552.7 899.8 481.5 899.4 533.4 891.8 485.9 899.8 503.7 899.9 481.2 901.0 504.1 897.4 534.0 894.4 525.2 900.2 508.9 899.6 531.9 898.6 565.8 861.2 505.2 898.6 533.1 899.1 520.3 899.0 633.4 876.2 501.5 900.2 547.2 900.0 489.8 900.6 493.2 900.2 551.2 898.3 532.0 900.1 492.7 900.5 465.1 900.2 562.9 896.7 507.6 900.0 549.5 896.6 514.4 900.2 537.3 899.2 530.1 897.6 628.2 850.6 582.5 890.1 517.3 899.5 521.1 900.1 489.5 901.6 554.0 886.6 473.0 901.2 498.8 899.8 567.1 864.8 459.1 899.5 547.3 893.5 531.2 898.6 529.1 899.6 502.1 900.0 479.6 899.5 601.4 889.8 555.5 888.6 560.6 899.2 472.0 900.9 557.9 890.5 487.9 899.8 485.5 899.9 527.1 899.4 536.3 899.7 475.8 900.0 555.5 897.6 532.9 897.2 579.9 893.4 586.0 878.8 546.2 869.8 505.9 899.9 601.6 870.7 549.8 899.7 496.9 900.6 569.6 896.6 550.8 899.4 493.6 900.9 491.7 901.5 454.7 898.9 527.3 900.0 492.2 899.6 497.1 900.5 492.2 899.5 477.2 899.5 520.9 898.8 494.6 901.1 496.1 899.2 495.2 899.3 523.9 894.3 573.6 851.2 480.7 900.3 570.1 896.0 568.9 890.7 536.3 899.7 528.2 899.2 551.7 894.5 527.0 900.2 542.5 895.1 584.9 893.7 556.8 887.6 493.0 899.7 463.1 899.7 589.2 896.9 505.7 900.0 558.3 896.7 489.8 901.1 516.9 900.2 506.7 900.1 551.1 897.2 593.7 877.3 523.4 897.9 530.9 899.8 504.0 897.8 489.6 900.3 600.4 896.0 474.5 901.0 590.3 867.7 542.2 898.6 466.7 900.9 580.5 892.0 472.9 899.4 530.8 898.4 475.7 901.5 642.3 878.7 499.1 900.7 573.2 894.3 464.5 898.8 543.3 897.5 465.9 899.7 458.0 902.1 531.5 900.0 635.8 847.1 545.6 897.6 569.0 890.9 558.0 893.4 525.4 900.0 467.8 899.4 526.1 898.6 483.7 900.2 526.0 897.9 504.7 900.6 522.6 897.2 485.3 902.4 548.1 898.9 512.5 898.5 521.0 898.5 468.1 900.2 521.1 896.8 529.9 899.2 624.8 883.0 530.3 897.6 477.6 901.1 498.0 899.9 502.4 900.4 547.7 898.8 589.7 875.6 628.5 851.7 600.5 868.5 586.4 879.8 569.9 892.1 588.7 886.7 454.5 900.5 521.5 900.6 533.9 897.6 545.7 892.0 536.7 897.3 536.7 898.3 588.3 887.2 469.7 900.0 525.1 898.0 610.7 878.4 458.4 901.3 474.7 899.2 572.4 893.5 608.2 890.3 456.8 901.1 458.5 900.0 563.5 889.4 546.1 894.6 525.2 900.3 532.6 894.3 554.6 880.8 560.8 895.1 414.3 902.2 465.9 899.5 559.1 891.6 627.8 869.5 564.0 893.7 511.3 899.2 502.4 899.6 503.8 900.7 449.1 901.7 556.2 888.2 493.3 901.1 533.3 894.3 526.0 900.2 502.4 900.1 544.4 898.4 517.2 899.9 489.9 901.7 575.6 895.9 482.6 900.7 479.4 900.7 492.2 900.4 520.1 899.3 557.8 881.9 502.1 899.9 490.4 900.2 541.8 898.6 493.1 900.7 525.6 895.8 492.4 900.4 574.4 897.2 483.7 900.7 489.6 900.9 498.2 900.0 501.7 899.5 550.7 893.5 544.3 898.2 558.6 897.0 527.7 898.6 468.1 901.4 555.3 897.6 491.1 898.8 487.8 900.5 512.1 900.1 643.3 864.1 506.7 900.6 505.0 900.5 582.8 865.6 644.0 892.5 508.8 899.6 477.7 900.0 558.6 893.5 557.7 899.4 502.7 900.3 558.7 896.9 507.8 900.0 496.4 901.0 534.3 894.8 552.6 897.8 519.7 900.4 562.1 886.2 448.0 899.8 522.6 898.9 507.9 899.7 465.3 900.2 583.7 844.2 478.6 899.0 486.3 901.1 574.7 887.3 611.8 868.0 587.9 885.3 503.2 900.3 587.7 867.1 478.4 900.0 549.3 898.8 595.8 882.7 484.7 900.2 477.7 900.3 544.8 895.6 575.8 894.1 550.8 898.9 599.7 870.2 517.0 897.2 506.9 900.2 475.7 900.2 494.7 900.6 589.7 881.6 466.6 899.4 483.7 901.2 503.9 900.2 462.0 900.7 498.9 900.0 483.5 899.9 476.1 901.5 526.1 899.8 527.7 899.8 531.1 900.0 555.2 896.6 526.0 899.1 597.4 862.3 468.7 901.0 488.5 900.3 467.7 900.9 499.2 902.1 555.0 899.4 586.1 896.4 523.2 900.1 480.7 900.3 501.8 900.2 531.2 897.0 497.3 899.9 559.0 893.7 624.8 892.5 517.8 898.4 535.5 894.5 566.7 877.3 518.4 898.2 484.5 900.8 594.1 891.2 630.5 859.8 456.9 899.5 555.2 894.4 510.4 900.1 462.6 899.7 481.0 901.4 482.3 900.1 552.0 898.6 487.1 900.4 453.9 900.5 488.1 900.6 559.7 895.1 522.6 890.0 541.6 896.5 518.4 900.2 483.5 900.8 449.4 898.9 498.5 900.0 460.4 899.5 493.1 899.5 537.4 893.8 506.6 900.4 519.4 900.3 538.1 899.7 500.1 900.2 505.0 900.1 576.1 895.7 532.8 900.0 512.5 900.1 527.7 899.2 517.8 898.7 502.0 900.3 583.5 888.1 489.7 899.6 589.0 890.8 568.5 887.1 575.6 895.4 481.0 899.9 523.8 898.8 637.7 797.5 496.6 900.0 482.0 900.5 550.4 891.4 490.0 900.5 533.1 897.8 480.4 899.0 597.8 886.0 496.0 900.7 471.9 900.2 545.9 890.5 503.8 899.9 530.1 897.7 522.4 899.4 585.7 890.3 524.5 897.4 507.8 900.7 429.2 900.1 522.3 897.1 494.2 901.3 531.9 898.4 539.1 900.5 518.1 897.8 470.4 899.9 522.4 900.1 520.5 898.2 540.2 899.3 622.2 880.2 495.5 900.8 515.7 899.5 469.3 900.9 559.8 886.0 489.9 899.9 563.4 890.9 559.6 899.0 492.4 899.9 580.8 871.4 523.2 899.7 513.6 900.0 529.6 898.7 596.1 873.3 521.5 896.5 520.5 899.8 496.8 900.7 565.5 892.5 523.1 900.5 503.2 900.0 485.2 900.9 487.5 903.0 564.1 897.4 560.3 890.4 631.4 887.6 584.3 877.5 545.6 899.6 559.5 891.4 548.9 888.3 561.0 894.7 560.0 892.8 482.7 900.1 561.7 899.8 498.4 899.4 491.1 901.5 584.9 893.0 456.6 899.1 524.2 899.8 503.3 900.5 558.8 897.3 536.4 896.2 582.8 884.3 588.1 897.7 540.6 897.7 465.2 899.3 543.4 897.0 474.4 901.2 635.1 876.7 573.0 895.9 499.3 900.3 483.9 899.9 546.8 890.5 554.7 896.6 638.2 870.2 537.9 900.0 476.4 900.1 550.8 884.6 463.9 901.4 572.1 893.5 556.0 899.1 558.0 898.7 573.6 890.8 531.3 899.5 593.4 896.3 539.9 897.5 521.7 899.7 508.4 899.7 504.6 900.2 456.6 900.6 480.8 900.5 559.3 896.8 489.2 900.0 541.7 896.6 556.8 895.1 546.8 892.0 524.7 900.5 500.0 901.3 494.6 900.3 484.1 899.6 541.0 890.9 545.8 897.9 592.1 897.3 501.8 900.0 586.8 832.1 582.9 890.6 496.8 899.0 602.7 868.6 537.5 899.8 614.0 815.0 556.6 898.2 502.1 899.9 495.4 899.3 525.5 898.5 521.2 897.8 459.2 898.8 570.8 890.8 527.1 898.9 519.4 897.8 553.0 895.9 491.8 899.1 485.5 900.1 532.7 899.7 490.7 898.1 501.4 900.0 466.3 898.6 462.6 900.7 504.8 899.4 526.1 896.8 599.3 880.9 540.0 898.4 512.1 899.7 511.2 900.3 490.0 900.7 519.5 899.1 610.3 886.1 476.0 898.2 514.4 897.9 545.7 898.2 555.2 896.6 529.5 899.1 540.2 896.5 589.6 882.9 580.7 895.3 492.0 901.0 527.8 899.5 651.4 847.5 526.2 899.8 484.3 901.1 555.7 897.6 463.6 899.4 479.5 900.8 529.1 899.2 494.6 900.5 549.9 888.3 550.8 894.8 500.4 899.7 555.8 874.3 541.0 898.4 548.2 897.7 517.4 900.4 514.4 899.7 473.8 899.1 519.6 900.4 605.6 891.4 577.2 892.0 463.4 900.4 466.5 899.3 494.2 900.8 546.8 891.9 515.0 899.1 476.7 901.2 513.5 900.6 531.8 899.2 553.0 890.7 510.7 900.2 541.2 899.6 545.2 898.0 537.0 888.4 461.4 902.4 548.8 899.4 476.8 899.4 463.2 899.7 519.5 897.4 451.1 898.2 466.9 899.2 509.3 900.1 518.8 897.0 473.6 900.4 604.5 838.2 568.2 896.6 521.1 898.8 533.6 898.6 499.9 901.2 636.7 869.9 475.7 897.9 498.5 901.1 488.2 901.3 571.6 885.9 523.8 900.2 511.7 897.6 510.2 900.0 576.9 876.8 492.7 899.4 558.8 895.2 548.5 893.6 516.3 898.6 506.1 900.3 514.9 900.6 516.9 899.9 499.9 899.4 538.1 899.8 511.7 896.4 498.5 899.6 556.5 898.1 517.2 898.9 519.5 899.9 575.0 897.8 517.1 899.9 507.4 900.6 579.6 865.3 628.9 853.1 558.1 893.3 510.5 899.1 543.9 893.6 552.5 894.3 497.5 900.0 550.4 885.3 600.3 864.7 542.0 886.2 543.6 899.0 514.7 900.2 541.7 898.6 488.8 899.2 556.2 898.8 527.6 899.4 632.7 838.9 503.2 899.5 548.9 892.4 451.0 900.0 512.4 900.3 555.7 896.0 493.0 899.3 536.8 900.6 488.2 899.5 510.2 900.0 647.5 875.3 485.2 899.3 583.2 878.4 464.2 900.3 533.0 897.9 562.5 892.0 564.6 884.1 509.3 900.4 533.9 899.8 549.0 898.8 555.1 897.6 553.2 896.2 532.5 899.4 492.0 900.0 548.1 896.6 530.3 898.3 528.2 899.1 640.4 885.0 477.8 897.7 557.5 897.9 501.1 899.0 550.8 896.4 600.9 873.2 494.8 898.2 531.0 899.1 526.2 900.1 522.1 900.0 481.5 899.6 538.3 899.5 578.5 881.7 542.9 898.1 496.7 900.3 560.6 895.2 512.8 898.9 478.8 900.6 535.8 897.6 517.8 900.0 526.4 900.1 644.8 865.0 531.3 900.0 604.3 887.9 504.5 900.4 554.8 899.2 467.4 900.4 498.0 900.9 546.5 895.7 546.3 892.7 563.4 875.0 507.9 899.8 494.7 898.8 505.2 900.1 527.4 898.5 456.9 898.9 507.2 900.3 542.2 897.5 479.3 900.7 499.4 900.8 573.3 897.3 588.4 849.5 491.8 901.0 482.9 899.8 475.4 899.6 469.5 901.0 559.1 898.6 552.3 896.5 493.6 899.2 521.4 899.5 546.9 898.3 457.7 900.4 562.2 890.0 570.1 896.2 487.0 901.9 547.9 894.4 547.4 898.3 502.6 900.5 574.7 883.5 487.9 900.2 519.5 900.2 499.7 901.0 515.5 900.5 561.4 893.2 531.4 896.7 536.3 898.6 640.3 852.0 488.5 899.9 488.4 901.0 537.5 899.8 479.5 900.9 615.8 883.7 503.1 896.1 515.3 900.5 514.2 899.5 563.3 870.4 583.9 877.8 544.6 895.1 482.1 898.1 504.8 900.4 548.3 897.4 487.6 900.3 575.8 881.1 573.2 879.0 488.9 898.7 505.9 900.0 489.2 900.7 549.8 899.1 461.6 899.7 546.9 898.1 464.8 899.2 565.5 881.9 528.1 898.3 533.0 898.0 471.5 900.5 461.0 899.3 504.6 899.2 637.9 874.4 535.1 899.5 570.8 898.2 464.8 899.3 472.9 898.8 455.3 898.7 547.1 884.7 482.7 899.5 494.6 900.5 543.4 895.9 546.9 885.0 500.8 900.2 518.7 899.5 496.6 899.9 530.3 898.4 504.9 900.6 505.4 899.6 491.7 899.4 497.0 899.0 493.2 899.4 450.4 900.5 499.3 899.7 534.1 897.4 494.1 899.6 474.9 900.9 566.7 897.3 518.9 900.1 524.2 900.6 499.5 899.6 576.9 886.7 554.2 879.7 537.9 898.4 542.5 894.8 546.5 898.1 522.8 897.6 512.0 899.4 509.1 899.6 523.2 900.2 518.9 899.2 526.3 898.8 526.8 893.8 558.4 895.3 578.3 870.7 488.6 900.0 456.4 899.7 498.1 900.3 458.4 900.8 559.4 896.5 537.6 899.0 496.2 900.1 484.5 898.6 572.3 898.0 564.3 885.8 545.5 898.4 546.5 899.7 553.0 898.1 517.1 899.5 510.0 900.3 529.3 899.8 575.2 890.0 645.0 859.7 584.3 884.8 564.2 883.6 467.2 900.9 491.4 898.8 623.1 879.0 528.1 899.4 524.6 899.3 499.2 900.0 570.7 894.2 524.8 895.9 643.9 877.0 467.4 901.5 647.1 877.2 447.5 900.0 479.2 898.6 509.1 900.5 540.0 899.0 474.6 899.1 530.5 897.4 589.8 877.7 514.8 899.4 555.2 894.6 534.1 896.2 532.9 897.3 482.3 900.9 518.3 900.1 580.2 884.3 544.3 897.7 487.7 898.6 516.2 900.4 528.1 900.2 502.5 898.3 532.4 898.5 539.0 897.5 452.1 899.4 488.1 899.0 542.1 899.8 487.4 899.0 466.9 902.4 555.1 896.7 502.2 900.4 608.9 873.4 530.0 899.8 472.8 899.8 539.7 899.9 493.3 899.3 561.6 878.3 550.5 899.3 554.7 887.8 463.7 901.1 458.9 899.6 559.6 892.6 478.3 900.1 485.8 898.3 458.0 900.7 481.1 899.0 519.5 898.8 609.2 883.9 500.6 900.1 493.0 901.3 563.3 894.2 483.7 899.2 539.5 896.2 537.0 899.3 588.8 888.0 460.9 900.2 530.6 899.6 508.2 899.0 562.8 886.8 492.1 898.8 549.3 894.4 483.8 899.5 522.1 895.8 620.2 875.1 490.6 902.2 495.4 898.7 584.4 885.2 544.3 897.8 465.5 899.9 483.9 900.1 490.2 900.0 496.7 900.3 566.4 878.5 547.5 896.6 632.5 869.6 543.7 900.0 538.6 894.6 508.3 900.1 549.6 898.5 521.9 899.3 464.0 900.0 521.7 899.9 508.4 899.7 526.6 898.8 461.9 900.3 457.6 901.8 635.9 880.3 506.8 899.8 501.7 900.3 479.2 900.1 534.2 898.6 583.7 881.2 483.2 899.2 522.8 899.8 522.7 898.8 555.6 895.8 530.8 899.8 490.4 899.4 484.3 899.6 550.5 896.4 468.0 898.2 571.4 892.1 458.8 899.5 484.3 900.5 518.8 900.5 566.2 896.6 537.5 898.6 553.1 899.1 555.0 897.5 550.2 894.8 462.5 900.6 563.0 897.3 479.2 898.8 481.0 898.7 459.6 899.3 457.7 899.6 574.4 894.5 508.0 900.7 469.7 900.4 461.5 900.6 566.8 886.2 535.3 899.5 584.1 889.4 459.6 902.3 474.8 900.6 496.3 900.7 484.5 899.9 474.8 900.0 485.7 900.8 540.1 897.9 481.7 899.1 481.7 901.7 527.1 897.1 507.3 899.6 479.4 899.6 531.2 898.7 523.7 900.1 508.9 900.1 519.6 899.6 460.1 899.3 537.0 898.9 484.8 899.3 502.4 900.7 443.3 900.0 577.0 870.6 533.6 900.2 509.4 897.8 527.9 898.3 590.0 858.4 477.2 902.1 508.3 899.6 548.5 897.8 506.9 897.2 548.3 896.0 582.1 868.2 460.3 899.5 496.1 899.9 497.1 898.5 553.7 897.4 557.9 893.2 547.4 896.7 586.2 879.5 483.9 900.6 509.5 899.8 568.4 848.8 555.6 893.8 474.8 901.7 632.5 867.4 552.5 896.8 571.7 886.3 505.7 899.6 535.8 899.5 609.9 881.2 579.6 893.4 532.3 899.3 577.6 885.5 653.2 882.5 565.1 870.8 542.0 895.0 611.6 879.0 478.7 900.4 510.8 900.3 530.7 899.5 477.2 899.7 557.5 896.3 464.7 900.9 538.7 899.2 495.5 900.4 500.8 900.2 536.0 899.5 484.6 900.5 516.2 898.9 569.5 893.7 640.2 882.1 493.4 899.8 506.1 900.2 546.7 888.2 484.4 900.6 567.5 884.5 485.5 900.9 529.8 894.3 502.9 900.5 420.6 898.7 419.4 901.3 434.0 901.1 501.5 899.4 494.9 900.1 645.0 886.5 539.8 893.9 465.3 899.3 549.5 890.5 489.6 900.2 520.5 899.3 550.3 891.6 569.4 894.9 588.8 865.0 513.0 900.3 500.2 900.0 510.1 899.9 499.6 901.6 552.6 893.5 518.2 899.4 545.7 891.5 479.7 900.7 557.7 880.3 618.5 824.4 486.0 899.7 537.2 899.8 480.9 901.0 459.2 900.1 512.1 900.3 483.6 900.9 551.3 881.4 531.7 899.5 544.3 898.5 619.9 864.3 463.9 901.0 472.1 898.9 459.2 900.7 517.7 900.0 562.9 897.7 545.5 895.7 528.7 899.6 569.2 889.7 506.9 900.1 474.9 899.2 540.3 893.5 457.1 901.0 489.3 902.2 458.0 899.5 480.9 900.0 465.0 901.1 526.6 898.8 476.7 899.8 535.5 898.9 562.8 897.1 503.5 900.5 475.8 900.3 543.9 895.3 551.0 899.1 576.1 863.4 529.4 899.7 532.9 900.0 571.0 899.1 544.7 893.7 627.3 893.9 496.4 897.8 556.7 897.9 539.2 899.9 518.8 898.4 444.8 900.5 519.8 899.3 493.5 900.1 535.3 898.5 523.9 893.7 524.0 899.6 464.0 899.5 477.2 897.9 536.0 900.5 545.3 895.0 644.1 842.2 558.9 894.0 496.8 898.7 517.3 899.1 523.4 900.5 560.3 897.2 509.7 900.4 585.2 876.0 520.8 900.0 510.1 900.2 520.2 894.6 505.1 899.8 653.9 881.2 461.4 899.9 510.3 900.2 468.2 899.8 544.7 897.5 479.5 901.2 479.3 898.1 513.3 900.4 535.4 896.8 555.3 895.1 515.9 899.4 497.4 900.6 506.4 900.5 577.2 883.6 487.3 900.5 445.5 900.6 576.6 890.3 520.6 899.6 477.2 902.7 477.7 900.0 577.7 888.8 553.6 898.8 465.1 899.8 544.4 876.4 487.3 900.5 516.0 900.3 535.7 899.5 462.4 900.6 588.9 890.6 502.3 900.4 478.7 898.6 557.4 890.8 474.4 899.9 459.5 901.3 541.5 899.3 519.0 899.9 580.2 897.9 558.7 890.6 486.4 900.0 461.2 900.1 535.5 895.7 519.1 899.4 498.1 900.3 584.3 898.1 486.7 901.2 540.5 896.7 467.0 900.1 585.9 883.1 599.2 884.9 537.3 894.9 500.5 900.1 550.4 886.7 580.9 891.5 559.2 898.2 460.3 900.0 523.2 899.9 478.2 899.9 528.5 899.9 600.6 847.7 571.4 893.7 491.7 901.2 529.2 899.9 500.2 900.1 481.7 900.3 552.9 899.3 554.8 892.2 502.5 900.6 512.9 899.2 547.0 899.1 550.9 897.8 518.2 899.0 475.5 900.5 471.6 900.9 481.9 900.6 563.1 870.9 522.3 900.5 540.6 894.1 506.0 900.6 506.5 900.6 482.7 900.1 627.0 866.1 535.8 895.4 476.8 899.7 547.8 897.0 534.8 898.6 536.7 897.5 556.1 894.2 536.1 899.8 574.3 872.3 621.7 896.4 511.2 897.6 541.1 897.7 507.2 900.3 511.7 898.3 506.2 900.6 541.0 899.5 504.5 900.3 504.4 900.3 566.9 891.9 559.8 887.9 544.5 897.9 566.1 885.8 508.6 900.2 540.4 896.5 492.0 900.9 499.9 900.0 472.6 899.2 559.7 893.9 585.4 889.5 498.3 900.0 507.7 900.6 475.4 900.8 478.5 901.4 539.8 896.9 578.1 892.2 469.2 901.2 492.4 901.3 554.8 893.2 488.8 902.1 574.6 888.6 504.5 899.3 519.4 899.4 485.8 901.6 496.8 899.3 513.4 900.1 495.3 900.3 551.1 882.6 458.1 900.6 539.9 899.4 560.2 894.9 501.2 900.7 484.6 900.1 475.7 899.4 467.8 900.8 558.9 890.7 535.5 899.4 449.3 901.2 517.0 899.3 534.9 899.3 500.4 899.1 459.1 901.9 513.0 900.1 504.6 900.1 624.5 885.6 505.4 899.6 585.7 869.1 572.2 887.4 531.9 897.7 476.5 900.9 560.8 888.0 470.5 900.4 529.8 883.5 471.9 901.2 471.0 900.4 511.7 900.4 480.2 900.7 645.6 843.2 532.4 899.0 579.4 890.4 607.5 819.6 554.6 897.0 540.8 897.3 519.4 899.9 557.1 895.2 543.7 890.3 480.4 900.0 526.5 900.3 512.0 899.3 524.6 899.1 549.1 894.8 546.1 898.1 531.4 899.7 558.5 892.5 563.0 896.0 470.9 899.6 478.8 900.4 461.6 899.5 480.7 901.1 610.2 878.5 499.2 902.6 515.2 899.3 518.4 900.4 530.7 897.7 495.5 901.5 557.2 894.5 501.9 898.9 566.6 884.7 560.3 898.1 421.4 900.5 528.6 898.3 471.1 900.0 576.1 894.2 466.2 900.5 493.9 899.4 556.0 886.8 534.0 898.6 543.4 899.9 512.0 898.5 525.3 900.4 486.0 899.3 518.1 900.0 492.7 903.4 544.4 893.9 473.9 898.5 477.9 900.2 485.3 899.3 526.8 893.4 532.8 895.5 436.8 899.6 640.5 874.3 564.2 889.8 507.9 900.1 480.5 898.3 563.0 886.9 629.5 844.4 482.9 901.2 554.4 899.1 562.1 898.8 589.3 855.5 486.7 900.7 475.8 900.2 481.2 899.9 489.5 899.2 580.1 878.5 582.5 886.9 519.5 891.5 476.7 900.4 504.5 898.8 490.7 902.1 541.1 898.4 550.0 889.9 556.9 895.0 514.9 898.8 517.4 899.7 518.8 899.6 506.7 899.0 517.2 898.8 545.7 898.8 548.9 898.7 501.3 900.2 531.0 897.0 478.8 899.5 461.2 899.8 508.8 900.5 505.3 899.0 458.6 899.7 468.3 900.2 513.6 899.5 592.2 880.4 564.6 896.0 458.1 898.2 500.1 899.2 506.5 900.4 499.4 899.7 477.8 900.8 533.9 899.4 565.0 893.4 508.1 898.0 482.7 901.0 473.6 902.4 449.3 900.2 555.6 895.2 489.4 902.7 550.4 897.0 558.7 898.3 469.1 900.7 484.3 900.8 499.9 900.4 556.0 882.4 552.0 897.5 498.3 900.2 516.8 900.1 504.8 900.0 519.2 899.0 559.1 888.2 493.3 899.4 561.1 889.2 585.0 864.6 535.2 900.1 610.4 878.4 589.5 889.3 482.1 899.2 645.1 871.1 485.7 901.4 560.4 891.8 475.9 900.3 498.3 900.9 515.6 899.9 565.0 898.8 545.1 895.1 486.1 899.4 579.6 894.7 571.5 873.4 524.0 898.8 462.3 900.3 496.2 901.7 497.1 899.5 512.7 900.4 592.5 887.3 534.5 896.9 562.3 893.3 466.6 899.4 491.3 900.2 551.3 893.9 503.0 900.6 489.0 900.5 464.9 900.3 462.4 900.9 511.9 900.0 528.5 899.6 510.4 900.4 530.8 899.8 496.9 900.9 451.1 899.7 544.3 896.5 502.4 898.2 521.7 898.5 507.6 900.4 494.3 901.3 462.5 900.2 497.6 898.8 497.7 900.4 475.1 898.4 458.0 899.7 520.3 899.8 453.9 900.0 574.9 889.5 505.5 900.5 515.8 899.7 525.9 899.0 456.8 899.3 472.8 899.9 558.0 897.2 529.7 900.3 521.9 899.2 503.4 899.8 553.8 896.2 523.1 896.4 558.9 896.5 564.3 896.9 578.6 892.9 550.7 897.5 544.3 893.5 518.0 898.3 526.9 899.5 532.5 898.7 525.9 899.5 562.2 896.8 569.7 894.9 462.6 900.9 553.9 895.7 537.1 899.7 534.9 895.3 582.1 893.2 462.1 900.1 519.7 899.5 507.3 900.2 598.8 885.9 481.2 900.7 530.5 898.7 478.7 899.5 554.1 896.5 521.4 900.5 551.9 892.0 498.9 899.9 576.0 875.9 441.0 899.5 488.7 899.9 551.6 892.5 574.9 893.5 557.0 897.8 494.9 898.5 468.6 900.4 548.6 891.2 551.4 898.1 464.4 899.7 588.7 885.8 526.2 898.2 458.8 901.1 520.2 899.3 502.7 900.2 473.4 900.9 576.5 891.1 588.7 874.3 476.2 900.5 516.0 896.2 494.7 898.3 544.0 896.9 474.5 900.7 502.1 897.0 511.6 898.2 519.4 899.3 514.7 900.4 534.6 898.9 590.0 812.3 587.9 892.1 581.9 880.9 563.4 894.8 489.1 900.7 491.1 898.2 517.8 900.4 540.5 896.5 535.9 899.9 504.1 900.2 645.5 881.2 499.5 901.8 453.7 900.4 470.6 900.1 486.8 899.8 551.3 882.2 565.4 879.4 460.5 900.4 490.2 901.0 490.9 900.0 558.2 897.8 579.5 893.4 493.5 900.5 473.0 900.0 618.6 882.2 623.6 819.7 549.5 898.8 519.4 898.0 553.3 897.8 555.8 879.0 523.9 899.8 494.4 900.5 525.8 898.0 542.8 898.5 501.0 899.6 540.0 898.7 479.0 898.2 622.9 875.7 487.0 901.9 488.9 900.5 611.6 881.9 600.6 894.9 586.3 896.7 565.5 870.7 567.4 889.9 562.5 898.4 531.0 899.0 467.2 900.9 551.4 877.6 564.3 877.7 564.7 894.4 460.8 899.5 464.5 899.1 551.3 898.4 521.2 898.4 578.5 883.9 644.3 847.7 516.2 898.7 544.4 898.0 543.2 891.2 546.7 898.3 506.4 900.2 540.0 899.2 465.9 899.6 580.1 889.6 550.4 896.6 560.2 898.4 518.1 899.5 486.3 900.6 516.7 900.4 545.1 898.6 528.7 899.8 474.3 901.0 437.6 898.7 510.1 900.3 491.2 898.9 488.9 902.0 488.3 901.4 512.3 898.8 546.9 893.5 583.3 881.7 544.6 891.5 455.1 899.6 572.1 877.5 536.2 899.0 551.4 893.6 536.8 898.9 504.7 900.5 502.8 900.5 466.6 900.9 543.0 891.3 463.0 898.9 545.1 899.1 582.8 891.0 543.5 896.5 535.9 898.4 560.8 897.7 610.9 860.1 561.4 895.7 643.6 882.5 517.7 900.4 448.8 899.6 536.9 898.4 539.9 900.2 570.9 887.4 536.6 899.4 505.8 900.4 438.6 900.9 563.6 899.5 538.2 897.0 638.5 821.1 534.3 899.3 568.4 891.6 556.4 895.5 644.5 852.3 518.1 896.4 579.4 859.5 510.0 900.3 445.3 898.2 501.2 900.4 504.3 899.9 646.0 862.9 509.7 898.7 494.9 902.5 546.3 898.4 471.9 899.4 498.7 900.8 509.7 900.4 476.3 900.4 534.9 899.4 513.2 899.5 560.1 899.3 502.9 898.9 629.9 817.3 485.1 898.7 526.5 899.9 488.9 899.6 448.4 900.8 498.2 899.0 579.0 892.3 496.9 899.7 521.3 890.8 525.7 899.6 493.8 899.6 527.0 898.2 465.4 900.3 504.1 900.4 496.1 899.7 561.8 895.7 556.1 896.5 547.6 898.9 534.5 898.3 571.8 885.3 552.6 894.5 463.3 901.5 477.0 901.6 553.4 895.2 565.2 893.8 642.8 852.6 556.8 889.1 480.4 899.5 531.0 899.7 538.1 899.5 535.7 897.9 477.5 899.8 620.4 851.3 524.0 898.8 494.1 899.5 633.8 895.9 508.5 899.9 466.3 902.7 543.7 899.2 493.0 901.5 487.9 901.5 498.3 899.9 536.0 900.1 500.4 898.5 543.1 898.4 581.4 888.5 644.5 864.8 577.4 883.2 585.4 892.2 492.2 898.3 562.8 896.9 470.4 898.9 532.9 899.7 467.4 901.1 472.3 899.6 599.2 797.7 476.6 901.5 549.6 894.0 526.1 900.4 422.5 902.4 559.0 892.1 464.4 899.9 576.8 893.1 562.1 891.7 522.3 899.6 516.1 900.0 457.6 900.1 547.5 898.1 459.9 900.2 526.0 898.2 586.4 898.2 544.8 897.0 475.3 898.5 550.1 889.0 547.7 890.6 501.6 898.9 556.3 890.5 532.5 899.8 512.0 900.7 525.9 900.0 495.0 900.3 496.4 899.8 577.3 880.6 504.1 900.5 556.3 895.0 506.3 900.7 484.4 899.2 425.4 899.8 615.0 877.7 553.9 896.0 634.8 835.0 533.7 899.6 464.7 900.0 481.1 900.7 462.0 899.6 536.6 895.3 537.8 899.9 606.5 893.2 497.5 900.5 489.7 900.7 488.2 899.9 479.1 900.0 457.8 900.7 522.0 897.8 512.8 899.3 506.4 900.3 601.8 884.7 499.7 899.7 563.2 879.3 526.8 898.5 473.1 901.0 458.0 900.5 536.3 895.5 573.7 886.6 462.2 899.2 547.7 898.3 489.6 900.9 545.9 896.9 563.9 891.1 550.8 893.8 491.1 900.7 480.2 898.8 619.0 876.2 584.0 895.6 585.9 888.9 527.8 899.6 462.5 898.3 506.5 900.4 582.6 895.2 465.7 899.8 497.4 899.8 460.6 900.4 575.2 893.1 504.6 900.3 468.8 899.4 504.9 899.9 486.1 900.3 514.5 900.6 537.1 899.4 542.3 900.1 471.8 900.4 527.0 900.1 463.4 900.9 515.5 900.2 560.8 890.2 493.4 899.0 562.6 895.4 491.1 901.2 509.5 899.6 558.9 892.9 437.4 901.6 529.4 900.2 527.3 897.2 549.3 895.6 598.3 894.0 546.8 893.2 488.5 900.2 485.5 899.0 520.5 898.7 495.7 901.5 529.3 900.5 470.3 900.4 546.7 899.4 512.4 899.6 462.2 899.1 475.8 899.8 588.8 873.9 567.5 891.4 575.4 863.5 509.1 896.0 637.5 885.5 481.9 900.5 550.7 884.8 591.8 892.0 486.7 901.4 438.1 899.8 476.5 898.7 469.1 899.8 560.3 882.0 535.9 900.1 519.8 899.4 475.1 901.3 540.4 891.6 477.8 900.2 477.4 898.8 534.3 899.0 540.5 894.5 560.0 890.6 563.2 896.4 477.9 899.8 498.5 900.7 478.7 900.0 521.6 899.1 457.7 899.9 572.1 877.0 545.2 894.0 560.9 893.9 521.3 900.2 583.1 864.7 564.2 898.2 563.4 889.5 560.6 894.4 487.6 901.3 503.6 900.5 463.5 900.8 555.4 888.5 519.4 899.3 639.7 815.1 496.7 900.5 514.2 900.1 571.8 891.0 620.8 853.2 554.5 887.8 575.8 892.0 585.9 866.5 494.5 899.2 537.2 890.6 465.0 899.9 544.6 898.4 603.2 879.0 523.5 898.3 478.9 899.5 531.3 899.2 465.4 901.5 518.0 900.5 468.4 899.6 512.5 900.1 562.1 882.7 552.3 898.4 568.6 891.7 517.5 897.4 515.4 899.4 463.2 900.4 558.5 886.1 531.4 889.9 511.3 899.5 478.8 900.4 517.6 899.4 464.8 901.5 475.7 899.0 468.2 902.8 513.4 900.3 477.9 899.6 563.2 890.4 536.3 898.6 571.9 897.6 529.4 899.8 480.6 900.3 495.1 899.4 565.1 893.5 533.2 900.3 540.8 893.1 539.1 894.6 461.8 899.5 485.6 901.7 514.3 899.9 566.3 892.6 593.5 890.0 534.0 899.8 493.0 900.1 461.5 899.9 530.0 898.4 511.5 899.1 587.7 878.8 486.4 900.9 486.2 901.4 450.1 901.2 457.8 900.4 560.8 894.1 573.0 892.2 479.9 899.0 449.5 900.1 532.2 899.6 491.4 899.9 536.9 900.2 583.0 894.3 553.3 897.5 495.5 900.2 535.9 899.7 496.7 899.2 554.8 893.9 492.8 900.3 572.5 880.8 544.8 884.3 578.1 888.3 503.6 900.2 605.0 881.7 532.9 900.3 492.7 900.9 540.9 897.7 499.3 899.8 474.9 899.4 460.1 899.9 536.4 897.7 490.8 900.7 472.5 900.4 557.0 895.2 478.4 899.1 554.3 897.9 494.7 900.9 505.8 900.0 588.1 891.9 563.4 894.5 564.1 894.0 633.1 850.7 535.6 899.6 588.8 893.7 537.9 897.8 532.9 899.7 638.1 720.0 627.6 754.3 626.3 779.7 644.0 779.4 633.2 788.6 649.7 784.7 653.0 787.9 604.2 815.2 559.2 840.9" fill="none" stroke="none" marker-start="url(#mk2)" marker-mid="url(#mk2)" marker-end="url(#mk2)"/>
<rect x="391.60" y="710.40" width="273.80" height="202.00" fill="none" stroke="#555" stroke-width="1" />
<line x1="389.60" y1="900.00" x2="391.60" y2="900.00" stroke="#555" stroke-width="0.8" />
<text x="389.40" y="904.00" font-size="11.3" text-anchor="end" fill="#111" stroke="#111" stroke-width="0.28" font-weight="normal" >0</text>
<line x1="389.60" y1="868.25" x2="391.60" y2="868.25" stroke="#555" stroke-width="0.8" />
<text x="389.40" y="872.25" font-size="11.3" text-anchor="end" fill="#111" stroke="#111" stroke-width="0.28" font-weight="normal" >1000</text>
<line x1="389.60" y1="836.50" x2="391.60" y2="836.50" stroke="#555" stroke-width="0.8" />
<text x="389.40" y="840.50" font-size="11.3" text-anchor="end" fill="#111" stroke="#111" stroke-width="0.28" font-weight="normal" >2000</text>
<line x1="389.60" y1="804.75" x2="391.60" y2="804.75" stroke="#555" stroke-width="0.8" />
<text x="389.40" y="808.75" font-size="11.3" text-anchor="end" fill="#111" stroke="#111" stroke-width="0.28" font-weight="normal" >3000</text>
<line x1="389.60" y1="773.00" x2="391.60" y2="773.00" stroke="#555" stroke-width="0.8" />
<text x="389.40" y="777.00" font-size="11.3" text-anchor="end" fill="#111" stroke="#111" stroke-width="0.28" font-weight="normal" >4000</text>
<line x1="389.60" y1="741.25" x2="391.60" y2="741.25" stroke="#555" stroke-width="0.8" />
<text x="389.40" y="745.25" font-size="11.3" text-anchor="end" fill="#111" stroke="#111" stroke-width="0.28" font-weight="normal" >5000</text>
<line x1="423.00" y1="912.40" x2="423.00" y2="914.40" stroke="#555" stroke-width="0.8" />
<text x="423.90" y="924.3" font-size="10.8" text-anchor="middle" fill="#111" stroke="#111" stroke-width="0.28">10<tspan dy="-3.8" font-size="7.8">-1</tspan></text>
<line x1="474.40" y1="912.40" x2="474.40" y2="914.40" stroke="#555" stroke-width="0.8" />
<text x="475.30" y="924.3" font-size="10.8" text-anchor="middle" fill="#111" stroke="#111" stroke-width="0.28">10<tspan dy="-3.8" font-size="7.8">1</tspan></text>
<line x1="525.80" y1="912.40" x2="525.80" y2="914.40" stroke="#555" stroke-width="0.8" />
<text x="526.70" y="924.3" font-size="10.8" text-anchor="middle" fill="#111" stroke="#111" stroke-width="0.28">10<tspan dy="-3.8" font-size="7.8">3</tspan></text>
<line x1="577.20" y1="912.40" x2="577.20" y2="914.40" stroke="#555" stroke-width="0.8" />
<text x="578.10" y="924.3" font-size="10.8" text-anchor="middle" fill="#111" stroke="#111" stroke-width="0.28">10<tspan dy="-3.8" font-size="7.8">5</tspan></text>
<line x1="628.60" y1="912.40" x2="628.60" y2="914.40" stroke="#555" stroke-width="0.8" />
<text x="629.50" y="924.3" font-size="10.8" text-anchor="middle" fill="#111" stroke="#111" stroke-width="0.28">10<tspan dy="-3.8" font-size="7.8">7</tspan></text>
<text x="532.00" y="936.50" font-size="11.4" text-anchor="middle" fill="#111" stroke="#111" stroke-width="0.28" font-weight="normal" >MM/GBSA binding free energy (kcal/mol)</text>
<text x="359.0" y="806.0" font-size="15.3" text-anchor="middle" fill="#111" stroke="#111" stroke-width="0.28" transform="rotate(-90 359.0 806.0)">HEAD <tspan font-style="italic">E</tspan><tspan font-size="10.5" dy="3.5">bind</tspan><tspan dy="-3.5"> (kcal/mol)</tspan></text>
<text x="397.00" y="725.60" font-size="13.4" text-anchor="start" fill="#000" stroke="#000" stroke-width="0.28" font-weight="normal" >PCC: 0.551</text>
</svg>
</body></html>
